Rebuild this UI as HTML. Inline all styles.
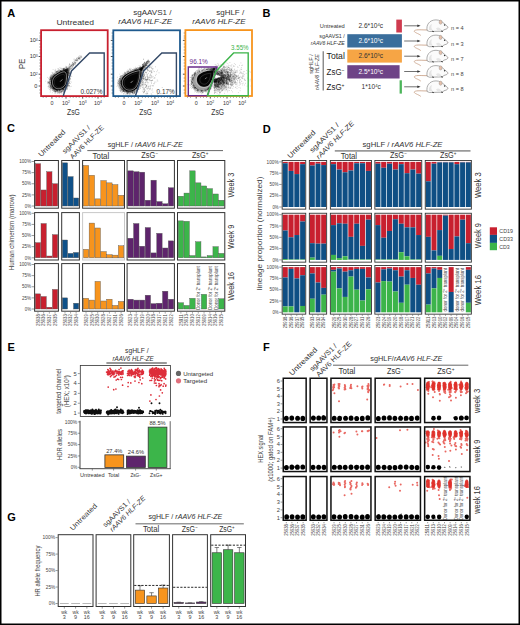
<!DOCTYPE html>
<html><head><meta charset="utf-8"><style>
html,body{margin:0;padding:0;background:#fff;width:520px;height:625px;overflow:hidden}
svg{display:block}
text{font-family:"Liberation Sans",sans-serif}
</style></head><body>
<svg width="520" height="625" viewBox="0 0 520 625">
<rect x="0" y="0" width="520" height="625" fill="#fff"/>
<text x="7.3" y="16.7" font-size="11" fill="#000" font-weight="bold">A</text>
<text x="262.6" y="16.6" font-size="11" fill="#000" font-weight="bold">B</text>
<text x="7" y="132.3" font-size="11" fill="#000" font-weight="bold">C</text>
<text x="262.8" y="132.8" font-size="11" fill="#000" font-weight="bold">D</text>
<text x="7.5" y="351.2" font-size="11" fill="#000" font-weight="bold">E</text>
<text x="263" y="350.9" font-size="11" fill="#000" font-weight="bold">F</text>
<text x="7.2" y="520.5" font-size="11" fill="#000" font-weight="bold">G</text>
<g>
<path d="M67.1 68.1h.01M72.8 67.7h.01M66.3 68.2h.01M77.1 60h.01M74.1 59h.01M78.1 60.2h.01M71.4 70.8h.01M73.7 63.9h.01M73.5 64.1h.01M67.3 68.6h.01M67.1 71.8h.01M77 59.1h.01M74.2 63.4h.01M72.5 62.4h.01M65.5 69.9h.01M72.8 66h.01M70.3 66.6h.01M68.9 68.1h.01M78.2 58.5h.01M66.7 72.5h.01M63 71h.01M80.2 58.1h.01M79.8 58.6h.01M79.1 58.4h.01M67.1 68.2h.01M73.1 63.2h.01M67.6 72.1h.01M69.5 68h.01M69 67.9h.01M66.3 69.5h.01M69 70.9h.01M64.5 73.5h.01M69 72h.01M67.9 69.5h.01M66.4 70.2h.01M73.4 65.7h.01M80.6 56.4h.01M68.2 72.9h.01M75.7 60.2h.01M71.6 65.5h.01M67 69.3h.01M74.5 62.1h.01M66.1 69.8h.01M65.8 74h.01M68.8 70h.01M78.8 56.8h.01M71.5 70.1h.01M65.7 71.1h.01M68.1 69.1h.01M77.7 59.3h.01M69.2 67.3h.01M75.9 60.3h.01M78.9 59h.01M71.2 64.2h.01M70.3 67.1h.01M69.5 64.9h.01M69.6 66.9h.01M66.4 67.1h.01M70.8 66h.01M64.9 70.9h.01M75.3 60.7h.01M64.9 70.5h.01M71.9 67.1h.01M76.6 60.4h.01M72.9 66.1h.01M67.2 69.1h.01M75.3 60.8h.01M72.4 63.1h.01M71.2 65.7h.01M69.2 72h.01M79.3 58.1h.01M73.5 65h.01M74.2 64.6h.01M69.6 68h.01M79 58.5h.01M70.2 66.6h.01M72.7 64.6h.01M73.3 64.1h.01M69 66.2h.01M68.2 70.5h.01M67.7 68.8h.01M68.6 67.7h.01M72 64.9h.01M81.5 57.1h.01M76.1 60.2h.01M78.7 58.7h.01M69.4 63.6h.01M79.8 57.7h.01M66 72.3h.01M75.1 62.6h.01M77.3 61.1h.01M72.9 62.6h.01M70.8 68.7h.01M77.9 57.5h.01M66.2 71.1h.01M72.2 66.1h.01M68.3 69h.01M65.1 70.7h.01M72.6 65h.01M70.4 66.1h.01M65.1 72h.01M69.8 64.6h.01M65.2 72.2h.01M76.1 62.7h.01M75.2 63.4h.01M70.2 68h.01M67.5 70h.01M68.2 70h.01M73.5 65.1h.01M69 72.5h.01M68.2 71.5h.01M66.6 70.7h.01M66.1 71.1h.01M71.4 65.5h.01M78.4 57.3h.01M64.8 72.1h.01M66.6 71.5h.01M75.2 63.9h.01M75.6 62.8h.01M77.2 60.2h.01M65.2 70h.01M79.3 57.2h.01M76.9 59.5h.01M76.5 58.7h.01M69.4 69.4h.01M73.5 63.7h.01M77 60.7h.01M77.9 58.2h.01M74.9 63.9h.01M71.1 64.8h.01M67.7 69.1h.01M68.7 70.2h.01M73 64.2h.01M71 66h.01M70.8 67.9h.01M68.9 73.3h.01M72 66.8h.01M62.5 71.4h.01M69 68.7h.01M68.4 67.8h.01M69.4 68h.01M69.6 66.8h.01M81.8 57h.01M76.6 58.2h.01M75.4 65.2h.01M69.3 64.8h.01M71.3 68.5h.01M74.7 60.9h.01M81.4 56.7h.01M67 68.6h.01M74.3 62.7h.01M70.1 66.2h.01M78.3 58.1h.01M64.2 70.9h.01M79.7 59.4h.01M76.2 61.2h.01M77.6 60.4h.01M73.5 65.4h.01M73 63.9h.01M72.7 68.1h.01M66.8 72.5h.01M71.8 65.4h.01M79.1 58.7h.01M74.1 59.8h.01M67.4 72.5h.01M79.3 55.8h.01M79.6 57.7h.01M75.1 63h.01M70.1 69.7h.01M66.6 66.6h.01M73.9 61.3h.01M70.7 69.4h.01M74.6 64.3h.01M76.5 60.4h.01M67 68.1h.01M80.9 57.6h.01M74.9 62.2h.01M71 68.3h.01M65.4 72.8h.01M75.4 59.5h.01M73 63.9h.01M72 66.6h.01M67.8 70.7h.01M71.1 68.1h.01M72.6 64.6h.01M65.1 70h.01M75.3 62.7h.01M69.2 70.2h.01M81 55.6h.01M78.7 58.6h.01M80.6 57h.01M80.2 59.2h.01" stroke="#000" stroke-width="0.5" stroke-linecap="round" opacity="0.42" fill="none"/>
<path d="M49.7 87.3h.01M51.6 76.5h.01M49.1 85.6h.01M67.5 74.7h.01M54.9 70.2h.01M54.5 74h.01M51 81.2h.01M66.3 69.4h.01M68.3 85.9h.01M51.7 85.3h.01M48.6 78.3h.01M65.6 88.2h.01M51.5 78.5h.01M67.3 70h.01M66.1 85.9h.01M52.5 89.4h.01M65.9 70h.01M53.6 88.2h.01M63.8 87.6h.01M60 71h.01M69 85.6h.01M53.8 89.6h.01M62.6 90.6h.01M68.7 69h.01M53.5 75.7h.01M63.7 88.6h.01M60.9 90.2h.01M67.5 69h.01M51.1 86.8h.01M54.7 90h.01M64.9 87.7h.01M49.7 79.3h.01M49.9 84.6h.01M63.5 89.2h.01M65.1 90.8h.01M63.2 70.5h.01M48.3 85.2h.01M66.7 86.1h.01M53.4 88.7h.01M51.2 77.2h.01M70.4 78.5h.01M51.5 75.6h.01M67.5 69.9h.01M53.1 75.4h.01M64 70.5h.01M55.6 89.4h.01M63.8 70.7h.01M67.6 73.9h.01M53.1 88.1h.01M58.5 72.8h.01M54.1 75.1h.01M52.8 88.1h.01M63.7 69.3h.01M50.8 81.5h.01M53.7 75.9h.01M65.4 69.9h.01M63.7 89.8h.01M49.9 82.4h.01M58.1 70.8h.01M64.6 90h.01M65.8 67.3h.01M59.3 91.6h.01M56 91.2h.01M63.3 92.8h.01M51.7 84.4h.01M49.9 83.1h.01M55.4 74.7h.01M67.4 71.4h.01M57.2 91h.01M52.2 86.6h.01M62.9 89.4h.01M52.1 87.1h.01M55.5 72h.01M50.6 85.6h.01M66.2 68.1h.01M56.1 90.8h.01M48.7 82.7h.01M67.1 88.6h.01M63.8 69.5h.01M67.7 68.4h.01M49.2 82.3h.01M67.1 86.5h.01M56.8 72.7h.01M69.5 74h.01M59.7 90.6h.01M66.7 72.1h.01M66.7 70.1h.01M50.5 89.4h.01M57.1 89.7h.01M63 69.3h.01M50.9 88h.01M64.9 87h.01M63.8 68.7h.01M63.2 89h.01M54.8 75.1h.01M51.6 77.5h.01M69.8 77.5h.01M51 81.5h.01M51.7 78.6h.01M48.2 87.9h.01M54.4 88.9h.01M50.2 85h.01M50.8 90.4h.01M68.2 69.7h.01M66.4 70.2h.01M68.8 75.6h.01M48.9 82.1h.01M68.4 69h.01M49.5 81h.01M65.7 87.4h.01M54.2 75h.01M57.4 90.8h.01M59.3 90.8h.01M68.8 75.5h.01M64.1 68.3h.01M50.1 79.3h.01M52.3 90.6h.01M57.1 90.3h.01M67.7 76.5h.01M71.3 86.3h.01M68.1 69.3h.01M67.7 80.6h.01M68.6 83.8h.01M68.1 73.5h.01M67.4 73.8h.01M52.6 87.9h.01M55.4 73.2h.01M64.1 69.5h.01M53.9 75.8h.01M62.6 70h.01M53.2 88.9h.01M65.6 70.6h.01M64.2 70.5h.01M58.9 89.9h.01M66 69.7h.01M57.5 91.1h.01M55.6 93.5h.01M59.1 72.1h.01M52.6 88.6h.01M55.7 69.3h.01M54.3 88.6h.01M63.6 90.2h.01M65.8 70.2h.01M57.1 90.5h.01M45.7 81.2h.01M68.9 72.7h.01M69.8 69.3h.01M47.9 83.8h.01M51.6 87.9h.01M55.5 89.8h.01M62.7 90h.01M67.3 69.4h.01M56.4 71.8h.01M65.2 68.6h.01M63.3 70.3h.01M50.6 85.4h.01M69.7 69.4h.01M64.8 89.4h.01M55.4 74h.01M68.8 81.6h.01M59.3 69.9h.01M55.6 91h.01M69.9 79.1h.01M60 90.1h.01M57.1 90h.01M68.3 85.4h.01M68 85.4h.01M60.6 70.7h.01M62.5 89.2h.01M62.1 89.5h.01M60.2 71.6h.01M56.9 90.3h.01M65.9 68.4h.01M55.2 72.3h.01M51.5 87.3h.01M58.1 70.9h.01M61.4 92.5h.01M55.2 90.1h.01M59 90.1h.01M59.9 71h.01M67 70h.01M59.6 90.3h.01M58.9 89.7h.01M55.6 91.4h.01M49.4 89.6h.01M50.2 87.4h.01M51.7 86.8h.01M65.1 89.7h.01M67.7 70.4h.01M51.1 78.4h.01M68 81.6h.01M62.4 91.5h.01M68.7 72.1h.01M53.3 88.2h.01M51.2 79.4h.01M71.1 72.9h.01M67.2 75.8h.01M66.2 69.2h.01M51.1 86.7h.01M50.1 83.5h.01M67.5 72.8h.01M59.1 70.6h.01M53.9 91.5h.01M50.7 81.2h.01M69.3 76.7h.01M55.7 71.9h.01M67.6 86.5h.01M48.4 86.5h.01M57.8 71.7h.01M66.6 69.5h.01M67.5 71.3h.01M52.5 74.2h.01M67.7 88.5h.01M59.1 91.3h.01M50.5 79.7h.01M56.7 91.7h.01M68.7 75.8h.01M55.1 90.1h.01M67.3 69.7h.01M67.5 69.5h.01M50.9 86.4h.01M67.9 81.2h.01M49.9 81.5h.01M68.7 72.4h.01M67.4 70h.01M56.7 91.1h.01M69 75.4h.01M50.5 79.2h.01M69.9 86.5h.01M67.6 87.1h.01M50.3 83.5h.01M67.3 72.9h.01M58.8 71.8h.01M53.9 88.9h.01M67.7 77.6h.01M65.4 89.2h.01M68.4 66.1h.01M54.8 74.5h.01M50.6 80h.01M69.4 74.1h.01M64.3 69.3h.01M56 72.4h.01M69.6 74.9h.01M68.6 84.5h.01M51.2 85.6h.01M67.9 78.2h.01M57.2 90.9h.01M65.9 70.8h.01M51 84.7h.01M61.4 71.5h.01M64.1 89.3h.01M57.4 90.5h.01M50.9 78.5h.01M52.8 72.5h.01M49.5 79.7h.01M68.8 79.6h.01M48.6 82.4h.01M67.1 70.6h.01M69 73.7h.01M68.6 74.8h.01M50.3 85.9h.01M50.6 77.3h.01M51 78.3h.01M57.4 93.4h.01M67.4 70.1h.01M69.5 83h.01M69 73.5h.01M58.5 69.3h.01M64.4 68.2h.01M69.6 82.2h.01M68.2 79.7h.01M68.3 79.3h.01M58.1 92.6h.01M52.8 90.7h.01M50.5 86.2h.01M53.2 88.7h.01M49.6 85.8h.01M51.9 78.5h.01M58.1 92h.01M67.8 72.8h.01M52 87.3h.01M52.4 75.3h.01M53 86.9h.01M67.7 76.3h.01M59.4 93.1h.01M65.8 66.2h.01M49.3 79.2h.01M49.7 77.2h.01M50.9 80.4h.01M66.3 70.5h.01M67 71.8h.01M53.7 90.7h.01M65 87.8h.01M50.9 83.7h.01M66.4 69.4h.01M70.3 71.3h.01M56.8 89.6h.01M50.3 78.6h.01M69.9 86.8h.01M59.9 90.9h.01M52.9 87.5h.01M49.1 88.8h.01M60.5 91.6h.01M48.3 82.7h.01M55 90.4h.01M60.7 90.9h.01M65.8 88.2h.01M50.6 88.2h.01M68.7 70.3h.01M52.2 78h.01M65.3 70h.01M67.8 80.8h.01M49.9 87.2h.01M67.7 73.6h.01M56.9 71.9h.01M60.2 89.5h.01M60.7 68.2h.01M66.1 70.6h.01M64.7 88.2h.01M64 68.5h.01M65.7 87.7h.01M63.3 69.8h.01M68.2 83.5h.01M49.1 83.1h.01M69.3 68.6h.01M63.4 70h.01M60 92.4h.01M67.2 69.1h.01M68.3 74.3h.01M50.2 82.6h.01M50.8 86.6h.01M68.2 72h.01M53.2 74.6h.01M68 71.5h.01M50.6 80.8h.01M69.5 73.2h.01M62.2 70.5h.01M50.8 78.5h.01M68.7 73.6h.01M52 72.4h.01M52.4 76.4h.01M51.6 75.2h.01M53.9 89.6h.01M52.9 88.3h.01M50.7 78.7h.01M65.5 69.6h.01M54.4 73.2h.01M69.1 73.1h.01M62.3 90.4h.01M50.9 77.1h.01M62.8 89.2h.01M70.4 78.4h.01M69.1 77.2h.01M54.7 90.2h.01M50.3 81.2h.01M68 85.4h.01M67.6 70.8h.01M50.9 81.4h.01M63.9 69.6h.01M49.2 79.9h.01M54.2 90.8h.01M54 74.6h.01M66.3 72.1h.01M64.2 70.8h.01M66.4 87.9h.01M54.9 91.8h.01M67.7 74.8h.01M58.4 90.6h.01M66.2 87.1h.01M58.9 71.7h.01M65 69.8h.01M62.4 68.9h.01M67 71.5h.01M63.4 91h.01M52.7 76.6h.01M66.8 72.3h.01M52 78.3h.01M53.6 89.9h.01M55.6 92.1h.01M67.4 71.8h.01M53.2 88h.01M55 89.5h.01M51.5 82.3h.01M54.3 75.9h.01M60.7 72.3h.01M67.2 69.5h.01M57.6 73.4h.01M61.7 68.2h.01M57.4 90.2h.01M53.5 88.7h.01M68.9 81.4h.01M55.5 89.8h.01M59.2 70.9h.01M68.8 83.7h.01M69.7 71.5h.01M50.7 86.5h.01M68.9 70.9h.01M63.1 89h.01M62 69.1h.01M58.7 93.3h.01M66.8 86.3h.01M62.7 70.7h.01M62.4 88.7h.01M65.2 87.7h.01M48 86.5h.01M60.8 71.6h.01M59.4 69.3h.01M63.4 70.7h.01M67.5 85.5h.01M59.1 89.5h.01M51.3 83.3h.01M57.4 72.2h.01M54.9 73.6h.01M65.6 87h.01M70.7 79.5h.01M50 84.2h.01M67.2 70.9h.01M59 92.1h.01M55.2 91.5h.01M65.2 70.4h.01M67.3 84.4h.01M50.2 92.2h.01M51.6 77.9h.01M55.2 74.2h.01M60.8 92.3h.01M64.4 69.7h.01M69.3 83.1h.01M51.4 79.2h.01M66.5 70.2h.01M63.8 90h.01M64.4 68.5h.01M66.5 70.6h.01M53.3 89.7h.01M66.8 69.6h.01M54.3 89.1h.01M53.1 69.5h.01M62.7 91h.01M66.1 86.5h.01M64.9 69.6h.01M69 81.6h.01M51.6 88.5h.01M51.6 79.5h.01M67 70.4h.01M58.1 91.2h.01M67.4 89.2h.01M68.6 71.6h.01M58.4 92h.01M63.3 70.2h.01M56.8 71h.01M62.7 68.9h.01M51.4 77.8h.01M50.3 88.3h.01M54.3 90.5h.01M66.6 71.6h.01M61.6 91.4h.01M51.2 85.5h.01M55.6 74.1h.01M67.7 77.5h.01M68.7 76.3h.01M70.8 75.6h.01M64.6 91.3h.01M56.4 91.2h.01M53 87.6h.01M50.8 79h.01M65.3 89.9h.01M68.4 72.5h.01M56.2 91.1h.01M66.7 87.7h.01M66.9 83.8h.01M50.8 84.6h.01M67 87.7h.01M50.6 77.9h.01M66.5 70.8h.01M57.6 68.8h.01M66.6 83.6h.01M62.7 90h.01M53.7 74.6h.01M65.9 85.4h.01M59.6 90.2h.01M55.6 89.6h.01M51.6 86.5h.01M52.7 89.2h.01M62.6 91.9h.01M56.7 73.2h.01M55 89.6h.01M55 91.9h.01M51.6 87.1h.01M54.5 75.5h.01M69.9 78h.01M68.8 75.2h.01M51.9 75.2h.01M56.2 89.9h.01M52.2 76.9h.01M68 69.2h.01M68.8 73.1h.01M53 73.9h.01M67.6 70.2h.01M62.2 69h.01M49.8 86.7h.01M52.2 76.9h.01M68.2 80h.01M57.5 72.3h.01M63.7 89.5h.01M52.3 87.5h.01M54.6 93.1h.01M50.3 79.8h.01M65.6 70.1h.01M52.2 78.7h.01M49.9 82.5h.01M51.6 89.3h.01M51.5 74.8h.01M68.6 75.7h.01M69.4 79.4h.01M63.2 69.4h.01M67.3 71.2h.01M55.1 91.4h.01M68.1 70.7h.01M65.8 69.3h.01M53.4 87.6h.01M52.7 88.6h.01M57.7 71.5h.01M70.5 74.1h.01M64.3 70.1h.01M54.1 90.8h.01M51.5 86.5h.01M54.7 89.2h.01M65.3 88.1h.01M64.5 87.3h.01M64.4 68.9h.01M53.1 76.6h.01M52.2 75.5h.01M69.1 71.4h.01M50.9 81.8h.01M52.2 76.9h.01M52.1 88.6h.01M69.7 75.8h.01M64.2 89h.01M56 72.5h.01M49.3 83.2h.01M56.5 71.8h.01M59.8 72.2h.01M53 88.3h.01M68 73.9h.01M65 69.8h.01M71.1 76.3h.01M55.5 92.3h.01M67.7 76.8h.01M70 76.3h.01M53.4 88.5h.01M62.1 89.3h.01M51.9 87.6h.01M51 87.7h.01M67 69.3h.01M58.9 92.6h.01M67.8 82.3h.01M49.4 87h.01M56.4 89.7h.01M68.9 74.2h.01M63.8 90.3h.01M63.4 89.7h.01M52.3 87.6h.01M49.4 80.8h.01M65.8 87.7h.01M69.8 80.7h.01M51.6 77.3h.01M65.2 70.6h.01M63.7 88.3h.01M53.2 74h.01M68.9 86.7h.01M56.4 91.2h.01M61.1 92.1h.01M57.1 89.9h.01M63.5 88.5h.01M67.9 74.2h.01M62.1 89.4h.01M50 79h.01M51.1 79.7h.01M50.9 74.9h.01M69.5 70.6h.01M49.5 84.9h.01M64.3 69.9h.01M66.8 89.5h.01M50.2 77.3h.01M70 75.2h.01M67.6 85.8h.01M59 71.6h.01M50.3 91.1h.01M47.8 81.4h.01M60.6 70.6h.01M67.7 86h.01M68.2 79.1h.01M52.6 78.9h.01M64.4 90.6h.01M69.6 80.6h.01M67.6 69.9h.01M54.7 75.3h.01M67.5 67h.01M60.5 89.8h.01M67.5 70.6h.01M66.4 68h.01M68.3 68.3h.01M65.4 88.7h.01M57.2 92.6h.01M55.3 89.9h.01M60.3 70.8h.01M66.9 86.1h.01M51.7 84.8h.01M53.1 74h.01M63.5 88.5h.01M50.4 82.9h.01M59.9 71.2h.01M49.9 83.2h.01M52.8 88.5h.01M68.4 73.7h.01M70 79h.01M69.9 89.2h.01M52.8 76.9h.01M67.3 72.3h.01M68.2 73.2h.01M51.8 83.2h.01M57.7 90.6h.01M68.1 71.4h.01M60.9 71.9h.01M55.2 91.2h.01M63.6 91.6h.01M60.3 71.7h.01M67.6 83.6h.01M52.1 86.3h.01M68.7 75.3h.01M66 69.6h.01M67.6 84.3h.01M52.8 75.8h.01M50.4 85h.01M67.2 70.3h.01M50.8 79.9h.01M67.6 87.7h.01M52.2 87.7h.01M68 84.7h.01M68.9 70.4h.01M63.8 88.8h.01M56.7 90.7h.01M51.6 76.3h.01M51.9 84.1h.01M69.4 82.5h.01M60.4 89.6h.01M53.4 90.9h.01M61.4 91.3h.01M66.8 77.2h.01M49.3 81.7h.01M49.4 83.2h.01M50.7 86h.01M68.2 80h.01M51.5 87.9h.01M53.9 88.9h.01M55.8 71.3h.01M50.2 83.8h.01M59 90.8h.01M66 86.6h.01M60.9 93.1h.01M63.1 68.4h.01M68.5 83.7h.01M67.5 70.8h.01M50.5 85.8h.01M57.4 70.5h.01M71.6 82.1h.01M67 84.3h.01M63.9 91.1h.01M68.4 71.9h.01M53.4 88.6h.01M56.7 71.8h.01M62.6 70.9h.01M66.5 89.6h.01M67.8 77.3h.01M68 84.8h.01M66.2 70.1h.01M60.9 91h.01M60.3 92.4h.01M50.3 81.3h.01M68.5 74.5h.01M63.7 89.4h.01M56.6 89.8h.01M56.6 90.8h.01M56.5 73.1h.01M69 73.9h.01M61.2 69.8h.01M48 83.4h.01M51.4 80h.01M67.6 72.5h.01M61.9 89.7h.01M57.6 72.7h.01M68 71.8h.01M67.8 72.5h.01M50.8 85.9h.01M51.3 76.9h.01M58.5 72.7h.01M51.8 78.3h.01M50.6 85.2h.01M54.5 73.1h.01M65.1 67.9h.01M71.8 76.4h.01M63.6 68.3h.01M64.3 90.3h.01M63.2 89.9h.01M59.4 90.7h.01M60.1 90.2h.01M49.1 78.9h.01M48.3 82.5h.01M64.8 69.3h.01M52.3 73.8h.01M57.6 71.8h.01M71.1 71.8h.01M68 69h.01M53.4 87.6h.01M67.7 85.7h.01M48.3 83.7h.01M52.6 75.6h.01M57.3 90h.01M49.3 77.8h.01M68.4 69.6h.01M68 69.9h.01M49.8 81.4h.01M49.8 83.3h.01M52.8 88.4h.01M51.9 78.6h.01M62 91.4h.01M61.4 71h.01M66.4 86.7h.01M67.3 70h.01M53.7 89.7h.01M65.1 90.6h.01M67.8 74.8h.01M67.6 72.8h.01M60.9 90h.01M57.9 91.6h.01M51.4 85.3h.01M61.1 89.9h.01M66.4 88.2h.01M57.5 91.3h.01M67.8 83.5h.01M56.3 90.4h.01M66.3 68.4h.01M65.2 88.4h.01M60.7 70.7h.01M69 68.6h.01M56.5 89.6h.01M67.2 76.6h.01M54.9 74.2h.01M59.4 92.4h.01M66.1 87.6h.01M61.1 90.5h.01M56.5 90.4h.01M67.9 75.5h.01M59.5 93.7h.01M50.4 87.3h.01M52.8 88.5h.01M50.1 76.6h.01M65.6 86.6h.01M67.8 70.7h.01M69.4 85.4h.01M55.5 89.6h.01M53.7 89.2h.01M67.7 85.7h.01M57.7 91.6h.01M47.5 82.7h.01M51.2 80.8h.01M56.5 71.9h.01M51.1 88.8h.01M67.4 73.4h.01M59.9 67.5h.01M50.8 76h.01M67.2 70.7h.01M65.4 70.1h.01M47.4 77.4h.01M63.6 69.8h.01M57 92.9h.01M67.4 70.2h.01M57 71.8h.01M69.5 85.5h.01M66.4 70.1h.01M58.3 72.7h.01M68.9 85.5h.01M63.1 89.1h.01M68.1 72.9h.01M58.5 68.6h.01M58.8 71h.01M67 70.6h.01M54.9 90.2h.01M53.5 74.9h.01M69.5 80.1h.01M66.1 70.4h.01M50.6 77.7h.01M51.6 79.8h.01M67.5 84.7h.01M67.8 81.4h.01M67.7 72.4h.01M68.3 70.3h.01M67.9 80.6h.01M68 70.4h.01M67.2 84h.01M69.9 83.4h.01M55.2 90.6h.01M66.4 70.2h.01M53.2 73h.01M52.5 76.2h.01M61.5 89.7h.01M55.2 91h.01M57.9 71.4h.01M69.7 73.7h.01M68.1 85.1h.01M51.5 78.4h.01M61.1 70.9h.01M52 76.8h.01M64.9 88.6h.01M53.7 88.6h.01M65.7 70.3h.01M59.2 90.8h.01M63.9 92.1h.01M55.6 89.7h.01M50.7 79.4h.01M66.8 70.7h.01M56 74.2h.01M66.8 73.9h.01M51.1 83.8h.01M62.5 89.6h.01M58.9 89.8h.01M65.7 69.4h.01M68.2 78.6h.01M66.8 84h.01M58.7 70.1h.01M67.6 72.2h.01M63.2 89.4h.01M69.4 76.9h.01M51.6 84.6h.01M50.8 80.7h.01M61.5 70.8h.01M63.9 69.2h.01M55.4 70.4h.01M61.9 93.5h.01M52.9 87.4h.01M53.9 75.6h.01M63 89.1h.01M64 69.4h.01M50.3 83.3h.01M53.7 88.5h.01M68 74.2h.01M60.5 71.2h.01M50.6 77.2h.01M60.8 91.8h.01M65.5 86.4h.01M68.5 82.7h.01M64.2 70.4h.01M67.8 84.3h.01M67.8 72.2h.01M67.9 71.4h.01M52.3 90.5h.01M53.9 75.8h.01M59.9 90.7h.01M68.3 81.3h.01M59.1 92.5h.01M49.4 83.6h.01M47.8 82.1h.01M59.6 91.6h.01M62.6 88.2h.01M63.9 69.5h.01M50.6 82.6h.01M56.5 71.7h.01M70.2 72.9h.01M61.4 70.5h.01M65.7 69.3h.01M65.2 88.6h.01M53.4 88.3h.01M50.6 77.3h.01M60.2 71h.01M54.8 89.7h.01M68 83.1h.01M68.5 79.8h.01M55.8 73.1h.01M68.1 73.2h.01M66.2 86.4h.01M50.8 84.9h.01M66.4 70.3h.01M64.7 69.9h.01M50.5 86.7h.01M50.5 88.8h.01M55.3 91.5h.01M57.7 90.5h.01M50.5 78.7h.01M61.2 91.7h.01M61.1 92h.01M66.6 69.5h.01M49.5 81h.01M60.3 70.7h.01M65.3 70.2h.01M68.3 81.7h.01M69.4 76.4h.01M66 70.1h.01M58.1 89.8h.01M66.1 86.4h.01M65.6 69.4h.01M58 71.9h.01M64.2 89.5h.01M51.1 77.7h.01M66.6 69.5h.01M50.3 84.3h.01M67 83.3h.01M57.6 73.3h.01M65 88.5h.01M57.2 90.1h.01M63.3 69.3h.01M65.5 70.9h.01M60.6 68.9h.01M68.1 81.2h.01M55.8 92h.01M66.2 87.8h.01M59.5 90h.01M60.9 70.6h.01M67.8 82.9h.01M67.4 84h.01M68.4 74.3h.01M60.7 90h.01M70.2 73.5h.01M60.2 92.1h.01M70.9 74.6h.01M69.5 77.3h.01M68.1 73.6h.01M48.2 82.6h.01M60.7 90.8h.01M52.7 89.3h.01M63.9 68.4h.01M59.5 90h.01M53 89.8h.01M67.9 71.8h.01M54.9 91.7h.01M67.4 81.5h.01M49 85h.01M51.4 80.3h.01M70.4 74.8h.01M54.7 89.2h.01M61.5 68.8h.01M50.4 79.8h.01M49.2 82.4h.01M54.1 74.1h.01M67.6 72.6h.01M51.9 79.2h.01M66.5 67.7h.01M67.6 68.9h.01M54 91.2h.01M61.6 70.4h.01M51.2 76.1h.01M58.1 90.8h.01M54.8 89.6h.01M59.4 71.5h.01M54.6 90.1h.01M67.9 70.1h.01M51.5 80.1h.01M53.8 74.5h.01M61 89.9h.01M64.8 69.6h.01M58.8 72.7h.01M63.9 91.7h.01M62.5 91h.01M66.2 69.7h.01M48.9 81.1h.01M63.9 89.2h.01M64.8 87.5h.01M53.8 88.1h.01M50.1 78.2h.01M68.3 72.4h.01M63.5 69.9h.01M59.9 70.9h.01M51.9 88.8h.01M63.6 68.7h.01M67.1 86.7h.01M70.1 81.6h.01M64 89h.01M53.2 75.9h.01M66.8 70.4h.01M67.9 83.8h.01M70.8 72.3h.01M68.2 71h.01M69.7 72.6h.01M66.1 70.7h.01M68 83.1h.01M58.1 89.2h.01M53.3 76.1h.01M56.2 73.3h.01M58.7 90.1h.01M67.9 73h.01M59.4 90.2h.01M56.5 90.5h.01M61 70.9h.01M59.9 90.3h.01M57.5 91.9h.01M68.3 72.6h.01M65.4 69.7h.01M64.7 68.9h.01M63.1 88.7h.01M67.5 81.3h.01M51.9 87.7h.01M63.1 89.4h.01M67.5 74h.01M51.3 86h.01M58.8 70.3h.01M63.5 68.8h.01M69.3 73.3h.01M61.3 71.6h.01M48.3 81.5h.01M67 68h.01M50.8 87.4h.01M68 68.5h.01M68.3 76.8h.01M51.7 77h.01M62 90.7h.01M53.9 89.5h.01M66.4 70.9h.01M51.5 83.9h.01M67.2 71.3h.01M63.5 92.7h.01M67.8 80.1h.01M51.2 79.2h.01M67.2 85.3h.01M51.5 82h.01M66.2 88.6h.01M61.5 91.5h.01M69.1 76.2h.01M66.1 86.8h.01M69.6 69.9h.01M69 70.9h.01M54.4 74.1h.01M68 78.4h.01M63.3 88.7h.01M63.8 90h.01M51.8 80.6h.01M68.1 86.7h.01M65.5 87.2h.01M68.3 71.4h.01M54.8 71.2h.01M70.4 83.6h.01M52 78.6h.01M54.2 74.8h.01M56.7 72.5h.01M53.7 76.3h.01M69.4 79.7h.01M57.9 71.7h.01M49.3 83.8h.01M68 72h.01M51.4 86.9h.01M61.3 90.1h.01M63 90.4h.01M51.8 77.8h.01M50.7 78h.01M51.6 83.7h.01M54.8 91.5h.01M50.8 77.1h.01M60.3 71.2h.01M52.9 87.9h.01M69.1 72.5h.01M62.6 89.1h.01M56.7 71.8h.01M68.4 75h.01M52.5 76.1h.01M49.8 82.4h.01M67 70.8h.01M57.8 71.7h.01M64.3 88.8h.01M63.3 70h.01M66.1 69.7h.01M50.1 79.9h.01M50.3 76.2h.01M66.4 70.1h.01M64.8 88.1h.01M48.8 86.9h.01M66.2 70h.01M63.8 87.7h.01M59.1 91.5h.01M52.4 92.7h.01M65.1 87.5h.01M50.9 80.1h.01M50.9 78.9h.01M61.7 92h.01M68.8 75.6h.01M50.3 86.6h.01M54.3 74.3h.01M67.2 85.4h.01M63.5 69.1h.01M50 84.8h.01M48.9 82.9h.01M50.8 75.4h.01M63.3 91.3h.01M50.7 88.2h.01M51 79.4h.01M57.6 89.9h.01M68.8 74.5h.01M67 89.2h.01M65.5 67.2h.01M50.5 79h.01M50.8 79.8h.01M67 82.8h.01M61.6 91.7h.01M69.1 83.2h.01" stroke="#000" stroke-width="0.5" stroke-linecap="round" opacity="0.32" fill="none"/>
<path d="M66.17 70.48 L66.71 70.94 L67.14 71.59 L67.47 72.41 L67.71 73.41 L67.87 74.57 L67.95 75.88 L67.94 77.31 L67.85 78.85 L67.68 80.45 L67.41 82.1 L67.04 83.74 L66.55 85.35 L65.83 86.37 L65 87.3 L64.08 88.13 L63.08 88.83 L62.02 89.4 L60.92 89.83 L59.8 90.1 L58.67 90.22 L57.56 90.18 L56.49 89.99 L55.46 89.64 L54.51 89.14 L53.65 88.5 L52.89 87.74 L52.24 86.86 L51.72 85.88 L51.33 84.81 L51.09 83.68 L50.99 82.51 L51.03 81.31 L51.23 80.1 L51.57 78.91 L52.04 77.75 L52.65 76.65 L53.88 75.52 L55.19 74.46 L56.55 73.5 L57.92 72.64 L59.26 71.89 L60.55 71.25 L61.76 70.75 L62.87 70.38 L63.87 70.16 L64.76 70.1 L65.52 70.2 L66.17 70.48Z" fill="#050505"/>
<path d="M65.11 72.18 L65.55 72.56 L65.9 73.09 L66.16 73.77 L66.35 74.6 L66.47 75.56 L66.52 76.65 L66.5 77.85 L66.42 79.13 L66.26 80.47 L66.02 81.84 L65.7 83.21 L65.28 84.55 L64.67 85.42 L63.98 86.21 L63.21 86.91 L62.37 87.51 L61.49 88 L60.58 88.37 L59.65 88.61 L58.72 88.72 L57.81 88.71 L56.92 88.55 L56.09 88.27 L55.31 87.87 L54.6 87.35 L53.98 86.72 L53.46 85.99 L53.04 85.17 L52.74 84.29 L52.55 83.35 L52.48 82.36 L52.53 81.36 L52.71 80.35 L53 79.35 L53.41 78.38 L53.92 77.45 L54.94 76.49 L56.04 75.6 L57.16 74.78 L58.3 74.05 L59.41 73.41 L60.47 72.87 L61.47 72.44 L62.39 72.12 L63.22 71.93 L63.95 71.87 L64.58 71.95 L65.11 72.18Z" fill="none" stroke="#b8b8b8" stroke-width="0.7"/>
<path d="M64.09 74.6 L64.43 74.89 L64.7 75.3 L64.91 75.82 L65.06 76.46 L65.16 77.2 L65.21 78.03 L65.2 78.94 L65.14 79.92 L65.03 80.94 L64.86 81.99 L64.62 83.03 L64.31 84.06 L63.83 84.74 L63.28 85.37 L62.68 85.92 L62.02 86.4 L61.33 86.79 L60.62 87.09 L59.89 87.28 L59.17 87.38 L58.45 87.37 L57.77 87.26 L57.11 87.04 L56.51 86.73 L55.96 86.32 L55.48 85.83 L55.08 85.26 L54.76 84.62 L54.52 83.93 L54.38 83.19 L54.34 82.42 L54.39 81.63 L54.53 80.83 L54.76 80.04 L55.09 79.28 L55.49 78.54 L56.27 77.82 L57.11 77.15 L57.97 76.53 L58.84 75.98 L59.7 75.5 L60.51 75.1 L61.28 74.77 L61.99 74.54 L62.63 74.4 L63.19 74.36 L63.67 74.42 L64.09 74.6Z" fill="none" stroke="#444" stroke-width="0.4"/>
<path d="M60.2 81.6 l2.2 -2.2" stroke="#ddd" stroke-width="0.6"/>
</g>
<g>
<path d="M144.2 67.8h.01M138.6 70.2h.01M145.8 64.7h.01M145.3 65.5h.01M144.9 65.8h.01M146.5 61.7h.01M145.8 66.5h.01M147.5 62.4h.01M149.3 61h.01M146.9 61.5h.01M146.4 63.9h.01M140.5 68.2h.01M141.3 69.2h.01M141.3 70.5h.01M145.7 67.4h.01M138.1 72.1h.01M143.9 64.2h.01M143.5 68.1h.01M142.8 64.7h.01M144.4 66.6h.01M137.9 73.3h.01M139.8 71.9h.01M143.8 64.5h.01M143 66h.01M147.9 61.9h.01M143.7 64.4h.01M143.7 66.3h.01M146.7 65.5h.01M141.4 69.7h.01M143.8 68.2h.01M148.2 61.4h.01M146.2 66h.01M137.3 72.5h.01M141.2 69.3h.01M139.1 72.4h.01M148.1 62.2h.01M144.8 65.2h.01M148.7 60.9h.01M145.5 63.6h.01M142.8 64.5h.01M146.2 63.8h.01M147.8 62.8h.01M145 64.7h.01M145.1 66.7h.01M140.7 67.6h.01M140.9 69h.01M144.5 65.3h.01M142.7 68.4h.01M148.5 60.3h.01M139.5 72.1h.01M139.4 69.2h.01M143.6 66.5h.01M148.3 60.4h.01M143.1 68.2h.01M149 62.8h.01M149.7 62.4h.01M144 64.8h.01M138.7 70.4h.01M144.2 66.7h.01M139.4 68.8h.01M141.2 67.5h.01M148.6 62.3h.01M141.4 67.7h.01M139.4 73.5h.01M141.1 67.5h.01M143.4 65.9h.01M145.8 65.4h.01M141.6 69.7h.01M146.1 65.4h.01M140 69.2h.01M142.3 64.6h.01M147.7 64h.01M139.6 72.2h.01M144.7 63.7h.01M140.1 70.4h.01M141.3 70.7h.01M142.2 70.7h.01M142.2 68.1h.01M142.3 66h.01M147 64.3h.01M143.7 68.5h.01M146.4 62.8h.01M138.1 69.5h.01M146.9 63.4h.01M142.8 65.7h.01M142.8 66.6h.01M142.9 68.8h.01M142.2 70.7h.01M145.6 65.3h.01M148.5 61.8h.01M137.7 71.5h.01M146.3 64.8h.01M147.1 61.7h.01M140.1 73.1h.01M149 63h.01M147.7 63.1h.01M146.4 62h.01M148 62h.01M142.6 67.8h.01M139.4 70.2h.01M139.7 72.4h.01M141.7 68.9h.01M138.9 71.5h.01M141 68.2h.01M140.2 69.9h.01M140.1 69h.01M144.1 68.1h.01M143.5 66.9h.01M146.7 65.4h.01M143.6 65.9h.01M143.1 66.6h.01M144.1 62.9h.01M147.1 61.2h.01M144.5 62.2h.01M140 72.3h.01M144.7 66.7h.01M138.6 72.2h.01M146.3 65.3h.01M145.2 65.1h.01M140.8 68.9h.01M144.1 66.7h.01M140.6 68.6h.01M139.2 67.5h.01M145.4 65.4h.01M142.7 66.3h.01M142.2 66.3h.01M139.3 72.7h.01M144.5 62.4h.01M149.4 61.5h.01M142.8 68.6h.01M143.6 63.6h.01M138.7 68.7h.01M140.2 69.4h.01M138.6 71h.01M144.7 65.2h.01M143.6 66h.01M145 68.4h.01M146.6 62.5h.01M145.9 64.1h.01M141.2 70h.01M137.3 75.6h.01M144.8 68.3h.01M138.6 71.9h.01M143.3 67.2h.01M141.1 68.4h.01M141.6 68h.01M143 64.5h.01M141.9 69.2h.01M142.7 64.2h.01M141.5 68.4h.01M145.3 65.3h.01M148.1 59.9h.01M147.2 61.9h.01M139.1 69.3h.01M140.4 69.8h.01M144.5 62.4h.01M138.9 68.5h.01M138.7 72.1h.01M145.6 63.6h.01M143.6 72.3h.01M145.8 67.2h.01M140.9 69.4h.01M143.6 63.5h.01M139.8 68.8h.01M143.1 67.3h.01M143 67.7h.01M145.2 63.8h.01M143.8 65.9h.01M138.7 70.4h.01M143.8 67.1h.01M148.3 64.9h.01M147.1 63.7h.01M145.7 65.4h.01M143.3 66.3h.01M140.8 69.3h.01M140.9 65.9h.01M144.6 67.5h.01M145 63.5h.01M144.6 65.3h.01M147 63.3h.01M141.5 67.7h.01M144.4 66.2h.01M148.6 61.3h.01M146.8 63.8h.01M144.1 66.6h.01M144.8 66.5h.01M145.4 64.6h.01M145 67.1h.01M143.1 66.5h.01M140.7 66.9h.01M139.6 70.8h.01M142.2 67.3h.01M142.4 68.9h.01M143.5 67.5h.01M148 63.4h.01M146.3 63h.01M145.2 64.5h.01M140.9 69.4h.01M140.9 68.9h.01M148.3 61.4h.01M140.6 68.1h.01M145.8 63.9h.01M146.7 63.7h.01M144.4 62.9h.01M140.5 69.7h.01M144 66.6h.01M147.3 63.3h.01M140.1 69.5h.01M145.6 62.3h.01M140.8 72.9h.01M143.6 65.9h.01M145.2 63.7h.01M141.5 68.8h.01M146.4 62.6h.01M137.5 70.2h.01M147.6 61.5h.01M143.1 65.7h.01M141.3 67.7h.01M146 64.6h.01M147.5 60.9h.01M138.8 68.2h.01M136.6 68.9h.01M142 68.1h.01M140.3 71.5h.01M141.9 73.9h.01M147.7 61.4h.01M146.9 62.2h.01M140.9 69.5h.01M144.3 65.5h.01M143.6 65.3h.01M138.4 69.9h.01M144.4 64.4h.01M138.6 71.3h.01M141.6 70.6h.01M143 65.9h.01M146.3 64.8h.01M143.4 69.8h.01M141.6 70.5h.01M139.6 70.3h.01M140.3 69.4h.01M144.2 70.3h.01M144.4 90.3h.01M148.3 78.3h.01M145.6 77.7h.01M146.1 86.9h.01M157.8 81.1h.01M144 88h.01M146.1 72.5h.01M152.9 92.2h.01M145.7 79.6h.01M143.1 67h.01M147.5 70.9h.01M149.8 67.1h.01M145.1 80.1h.01M147.5 79h.01M144.3 84.6h.01M145.3 82.5h.01M162.2 87.5h.01M144.8 69.8h.01M146.2 79.8h.01M149.4 80h.01M143.4 76.6h.01M152 77h.01M143.5 71.1h.01M145.5 84.3h.01M150.3 80.5h.01M143.8 91.1h.01M145.7 66.4h.01M147.2 81.1h.01M150.5 88.2h.01M147 86h.01M150.9 78.1h.01M146.7 86.3h.01M150.1 70.7h.01M150.2 66.4h.01M144 70.5h.01M144.5 75.8h.01M146.8 82.2h.01M147.3 69h.01M144 74.8h.01M146.4 68.4h.01M152 66.2h.01M143.1 79h.01M145.5 72.2h.01M142.4 82.1h.01M150.9 71.2h.01M149.5 77.4h.01M145.1 84.2h.01M148.7 86.2h.01M151 76.1h.01M145.5 72.3h.01M150.2 75.1h.01M145.9 87.3h.01M142.5 64.9h.01M148 79.6h.01M146.4 93.4h.01M146.3 73h.01M143.6 76.5h.01M155.4 75.6h.01M153.9 83.7h.01M147.7 78h.01M143.7 75.3h.01M151.7 67.6h.01M151.3 82.3h.01M143.1 89.2h.01M145.3 68h.01M144.5 89.7h.01M145.8 84.8h.01M149.5 71.3h.01M144.6 91.3h.01M147.7 60.8h.01M148.7 82.7h.01M152.7 80.5h.01M155.5 66.8h.01M147.2 78.8h.01M154.8 77.6h.01M147.4 69.1h.01M157.4 94.3h.01M143.7 78.7h.01M147.4 76.9h.01M145.7 76.7h.01M143.6 82.4h.01M142.7 80.1h.01M146.7 80.2h.01M145.8 79.4h.01M148.4 70.5h.01M146.8 88.7h.01M150 63.5h.01M147.4 82.4h.01M145 74.1h.01M146.9 91.4h.01M144.2 91.9h.01M143.8 76.4h.01M148.6 73.4h.01M149.8 88.7h.01M144.1 75h.01M151.1 71h.01M156.8 90.2h.01M147 74.1h.01M149.3 77.8h.01M154.1 83.7h.01M145.5 90.2h.01M151.2 93.7h.01M149.5 67.8h.01M151.4 72.2h.01M152.3 88.9h.01M152.7 69.3h.01M156.2 74.3h.01M148.1 88.1h.01M152.2 85.7h.01M154.4 82.2h.01M150.9 67.4h.01M145.9 86.7h.01M144 89.2h.01M152.5 79.9h.01M154.8 78.2h.01M150 80h.01M159 72.8h.01M146.4 85.8h.01M147.3 77.6h.01M143.1 65h.01M149.8 67.5h.01M145.3 93.7h.01M151.8 94.8h.01M145.6 82.1h.01M148.7 79.8h.01M144.6 91.6h.01M144.3 88.3h.01M151.4 83.4h.01M150.8 85.3h.01M153.2 71.1h.01M149.3 71.3h.01M142.7 87.5h.01M147.3 93.5h.01M155.9 82h.01M143.8 89.1h.01M144.7 80h.01M146.8 79.4h.01M145.9 79.8h.01M144.2 78.1h.01M146.4 64.9h.01M143.7 59.2h.01M144.8 83h.01M150 89.2h.01M151.7 80.6h.01M145.9 67.9h.01M144.4 63.3h.01M148.8 90.9h.01M147.5 69.9h.01M151.8 80.5h.01M147.4 75.4h.01M143.7 70.5h.01M148 76.8h.01M153.9 78.2h.01M142.7 82.6h.01M157.5 70.2h.01M145.2 79h.01M142.8 84.1h.01M143.7 77.6h.01M147.6 65.6h.01M143.6 92.2h.01M146.6 62.7h.01M148.2 87.2h.01M146.4 72.2h.01M143.3 92.9h.01M147.4 79.8h.01M143.6 59.3h.01M149.2 65.2h.01M148.1 88.5h.01M148.8 86.7h.01M144.2 67.4h.01M145.5 77.9h.01M143.7 70.4h.01M150.6 77.7h.01M153.1 76.4h.01M151.8 70.7h.01M151 71.8h.01M147.8 84h.01M144.4 78.7h.01M143.1 78.3h.01M153.1 85.7h.01M151.7 76h.01M143.1 86.7h.01M156.8 71.7h.01M151.5 68.6h.01M150.3 86.7h.01M143.9 85.3h.01M150.3 74.7h.01M152.8 68.8h.01M152.9 68.5h.01M143.7 78.9h.01M152 90.2h.01M149.5 66.1h.01M144.3 75.1h.01M146.4 85.4h.01M145.6 87.5h.01M147.8 93.3h.01M142.6 84.8h.01M151.9 77.6h.01M144 92.4h.01M151.7 80.8h.01M143.5 83.2h.01M146.3 64.9h.01M145.2 78h.01M143.6 79.2h.01M149.4 76h.01M148.6 77.6h.01M151.6 72.4h.01M152.1 72.7h.01M146.2 85.3h.01M148 69.5h.01M150.9 73.8h.01M147.6 79.6h.01M143.1 84.3h.01M145.8 62.5h.01M151 75.7h.01M149.7 61.5h.01M147.2 74.5h.01M150 86h.01M143.9 76.8h.01M147.9 65.7h.01M153.1 85.9h.01M146.9 79.5h.01M148 67.8h.01M149.5 79.4h.01M150.1 80.8h.01M147 92.7h.01M146.9 94.3h.01M143.3 81.3h.01M154.4 71.6h.01M146.8 69.2h.01M157.2 80h.01M146.1 79.8h.01M146.3 81h.01M142.7 91.2h.01M147.9 70.6h.01M144.6 73.3h.01M148 67.9h.01M149.8 89.1h.01M143.1 78.2h.01M147.2 76.4h.01M146.2 80.2h.01M144.3 69.4h.01M147.3 89h.01M143 84.8h.01" stroke="#000" stroke-width="0.5" stroke-linecap="round" opacity="0.42" fill="none"/>
<path d="M121.5 84.3h.01M123.9 91.3h.01M120.2 85.1h.01M140.9 81.6h.01M127.2 91.6h.01M135.5 69.4h.01M141.4 74.4h.01M142.1 74.1h.01M121 87.3h.01M125.8 72.4h.01M142.2 70.2h.01M132.8 69.8h.01M123 91.8h.01M132.2 71.8h.01M136.1 69.4h.01M123.7 91.4h.01M120.8 82.6h.01M141.3 69.8h.01M124.5 90.1h.01M141.9 72.4h.01M132.3 93.2h.01M124.6 92.4h.01M119.5 84.7h.01M117 86.5h.01M137.1 86.4h.01M142.7 67h.01M141.9 68.6h.01M120.7 79h.01M127.8 93.1h.01M120.1 80.5h.01M127.2 91.2h.01M130.7 91.8h.01M127.5 92.9h.01M137.4 90.3h.01M141.2 69.5h.01M120.8 89.6h.01M119.2 84.5h.01M134 92.8h.01M122.7 75.8h.01M124.2 91.8h.01M141.6 84.7h.01M142.7 71.5h.01M123.8 90.6h.01M135.5 68.9h.01M125.4 73.3h.01M135 91.8h.01M141 74h.01M136.7 70.1h.01M128.7 71.8h.01M121.5 86.6h.01M123.9 75.1h.01M143.7 66.4h.01M136.5 88.5h.01M136.1 70.5h.01M122.2 91.4h.01M142.5 69.3h.01M120 79.2h.01M141.7 70.8h.01M135.3 70.4h.01M125.7 90.6h.01M121.4 84.3h.01M125.3 91.8h.01M124.8 75.4h.01M142.2 82.2h.01M131.6 68.9h.01M132.8 92.5h.01M120.1 83.3h.01M137 89h.01M132.5 91.9h.01M139.2 67.8h.01M129 91.5h.01M142.3 66.8h.01M129.7 94.4h.01M131.5 91.9h.01M142.6 68.1h.01M134.7 70.1h.01M142.8 74.5h.01M128.5 71.4h.01M122.3 92h.01M141.8 68.8h.01M123.9 91.6h.01M122.7 89.8h.01M141.2 72.6h.01M141.4 73.2h.01M134.9 91.8h.01M140.3 68.2h.01M142 68.5h.01M119.4 85.8h.01M119.7 78.6h.01M128.2 92.3h.01M141 67.9h.01M120 83.4h.01M141.4 68.8h.01M123 88.8h.01M123.7 90.2h.01M126.6 71.9h.01M141.6 71.7h.01M120.9 79.2h.01M132.1 91.6h.01M127.7 71.6h.01M140.7 82.8h.01M126.7 91.1h.01M120.5 81.8h.01M127.7 93.4h.01M140.6 80.9h.01M119.6 81.7h.01M133.9 68.1h.01M142.1 73.6h.01M122.2 86.8h.01M131.8 91.6h.01M123.3 75.8h.01M120 84.2h.01M126.6 91.2h.01M139.4 67.9h.01M138.6 67.9h.01M142.3 69h.01M131.7 94.9h.01M120.4 81.2h.01M134.4 93.6h.01M119.9 80.3h.01M140.2 78.1h.01M141.2 74.8h.01M136.2 90.8h.01M123.6 93.9h.01M135.7 88.9h.01M119.9 79.7h.01M120.2 83.9h.01M130 69.8h.01M119.2 83.7h.01M119.6 81h.01M141.7 68h.01M141.8 81.1h.01M120.5 80.3h.01M132 91.8h.01M119.4 80.8h.01M125.4 90.4h.01M131.1 71.8h.01M125.3 75.9h.01M120.1 82.8h.01M137.1 91.7h.01M140.6 81.4h.01M134.6 92.6h.01M140.3 70.1h.01M125.8 91.9h.01M120.3 83.8h.01M120.7 80h.01M142.5 68.1h.01M143.9 68.8h.01M120 78.9h.01M141.1 71.2h.01M134.6 70.4h.01M124.9 90.5h.01M128.6 92.4h.01M142.1 71.1h.01M117.4 82.7h.01M120.8 84.9h.01M126.6 94h.01M139.8 85.1h.01M141.4 83.1h.01M141.4 72.9h.01M135.1 69.5h.01M142.3 85.3h.01M131 71.7h.01M139.2 69.1h.01M140.3 85.9h.01M142.2 80.7h.01M119.2 85.9h.01M121.1 81.9h.01M132.4 92.7h.01M133.9 90.9h.01M132.3 92.7h.01M125.4 75.6h.01M142.4 78.5h.01M134.8 69.3h.01M142.4 67.7h.01M141.1 74.2h.01M120.3 79.9h.01M139.5 84h.01M127.6 91.4h.01M141 69h.01M140.5 67.4h.01M141.1 69.1h.01M122.9 89.1h.01M128 92.4h.01M132.8 90.8h.01M123.5 89.5h.01M119 83.1h.01M136.5 69.1h.01M143.7 70.6h.01M136.6 69h.01M121.6 86.4h.01M136.9 88.7h.01M128.1 92.2h.01M122.4 89.7h.01M123.6 91.1h.01M127.1 92.1h.01M134.7 90.5h.01M140.3 67.3h.01M140.8 70.1h.01M135.5 67.2h.01M140.9 69.4h.01M121.6 87.3h.01M142.2 72.6h.01M127.8 73h.01M121.1 88.6h.01M143.1 70h.01M120.2 81.4h.01M142.1 84.9h.01M141.5 71.9h.01M141.1 75.8h.01M129.2 69.2h.01M119.6 84.1h.01M134.7 91.3h.01M119.9 85.1h.01M139.9 67.1h.01M142.7 67.6h.01M137.7 85.7h.01M129.7 72.3h.01M123.2 75.7h.01M126.4 93.7h.01M127.7 93h.01M122.4 80.3h.01M126.2 74.4h.01M127.8 72.7h.01M141 71.7h.01M141.9 77.2h.01M139.3 81.7h.01M140.1 79h.01M142.2 68.1h.01M127.5 91.4h.01M142 75.8h.01M137.6 87.1h.01M134.4 90.8h.01M142.8 67.4h.01M140.1 84.1h.01M121.5 87.2h.01M125 91.5h.01M132.8 69.7h.01M140.3 82.4h.01M127.3 94.2h.01M136.1 68.4h.01M123.3 88.8h.01M130.5 72.6h.01M137.4 69.5h.01M119.9 84.5h.01M131.3 91h.01M125.9 72.3h.01M124.2 74.8h.01M141.1 76.1h.01M138.1 92h.01M121 88.9h.01M120.7 85.5h.01M122.7 90.8h.01M143.2 69.7h.01M136.6 87h.01M140.8 76.2h.01M141.5 75.1h.01M128.4 93.4h.01M139.5 68h.01M141 67.7h.01M130.7 92.4h.01M121.5 81.3h.01M137.2 89.7h.01M124.5 75h.01M146.5 76h.01M124.9 72.5h.01M141 68.5h.01M139.3 68h.01M122.2 76.7h.01M141.2 67.1h.01M117.4 80.1h.01M141.2 69.6h.01M142.2 79.8h.01M141.1 81.2h.01M128.3 91.5h.01M130 91.4h.01M120.3 91.8h.01M119.8 88.9h.01M141.8 67.2h.01M120.7 87.4h.01M119.8 80.8h.01M140.6 83.7h.01M117.7 85.2h.01M121.1 88.5h.01M135.1 91.6h.01M125.2 74h.01M133.1 93.5h.01M140.9 68.5h.01M124.2 89.9h.01M141.5 69h.01M135.1 70.4h.01M121.2 83.3h.01M120.2 78.5h.01M141.5 68.6h.01M138.5 87.6h.01M132.3 70.5h.01M141.4 68.8h.01M121.4 87.1h.01M124.5 89.4h.01M124.9 90.4h.01M120.5 91.3h.01M126.8 91.5h.01M119.1 82h.01M141.1 71.7h.01M141.2 76.2h.01M121.2 75.9h.01M123.9 91.2h.01M131.2 70.8h.01M121.3 81.4h.01M120.9 81.1h.01M121.9 88.9h.01M140.6 70.7h.01M133.3 69.8h.01M126.8 73.1h.01M141.1 75.6h.01M142.6 69.9h.01M121.3 77.7h.01M130.2 71.8h.01M134.2 92.7h.01M141.7 68.6h.01M142.3 70.1h.01M128.7 91.3h.01M120.3 76.6h.01M118.6 87.4h.01M124.8 90.3h.01M125.2 74.7h.01M125.9 90.7h.01M136.5 91.3h.01M120.9 86.3h.01M131.6 92.3h.01M120.9 78.2h.01M140.6 81.2h.01M126.7 91.6h.01M142.3 75.9h.01M144 76h.01M120.1 83.2h.01M136.3 92.5h.01M143.5 70.9h.01M121.1 80.2h.01M123.8 91.1h.01M120.6 83.5h.01M141.8 80.7h.01M136.7 68.2h.01M128.7 92.5h.01M144.1 74.8h.01M141.8 76.9h.01M120.2 82h.01M126.1 92.3h.01M120.7 76.4h.01M121.3 87.8h.01M120.7 76.8h.01M122 76.3h.01M122.5 91.9h.01M140.9 69.7h.01M128.3 72h.01M120.6 87.5h.01M141.7 72.2h.01M139.4 83.7h.01M122.1 77.2h.01M129.8 95.1h.01M120.9 82.2h.01M140.6 75.1h.01M139.2 89.4h.01M133.4 70.4h.01M136.8 68h.01M142 78.3h.01M124.3 90.2h.01M140.2 84.4h.01M141.8 69.7h.01M141.3 78h.01M126.6 91.4h.01M126.4 91.4h.01M134 93.5h.01M142.4 68.8h.01M142.9 67.9h.01M129.2 71.9h.01M137 69.2h.01M140.6 68.8h.01M119 83.1h.01M133.1 91.8h.01M130.1 93h.01M129.7 93.3h.01M132.3 92.2h.01M122.4 88.8h.01M142.1 67.6h.01M135.5 68.3h.01M132.7 92.1h.01M119.6 79.5h.01M122.4 77.9h.01M142 68.4h.01M134.4 92.5h.01M122.3 91.4h.01M137.6 90.4h.01M124.4 91.5h.01M140.2 82.9h.01M136.8 68.9h.01M141.1 73.1h.01M142.1 68.6h.01M141.7 71.8h.01M128.7 91.4h.01M126.8 73.8h.01M124.3 89.8h.01M120.7 77h.01M130.1 91.3h.01M134.3 90.7h.01M128.7 91.2h.01M134.2 90.5h.01M138.1 88.7h.01M122.5 87.3h.01M119.9 80.5h.01M142.5 68h.01M135.2 69.2h.01M134.3 91.4h.01M137.8 87.7h.01M130.3 69.7h.01M141.2 76.4h.01M118 83.5h.01M127 91.2h.01M142.3 68.8h.01M140.8 76h.01M132 92.4h.01M135.5 90.5h.01M123 73.4h.01M139.6 84.8h.01M141.8 69h.01M140 67.5h.01M123.9 90.5h.01M135.7 89.6h.01M121.6 76.6h.01M138 87.8h.01M128.3 73.3h.01M134 93.1h.01M141.6 77.7h.01M139.8 69.3h.01M133.1 94.3h.01M123.5 93.8h.01M119.1 79.3h.01M121.3 78.6h.01M133 94.1h.01M125.7 74.5h.01M128.1 93h.01M119.9 79.2h.01M123 89.7h.01M134 91.7h.01M120.9 80.2h.01M121.5 77.5h.01M125.1 91.4h.01M130.5 71.2h.01M123.4 89h.01M124.6 73.6h.01M143.1 66.3h.01M123.3 89.4h.01M119.1 88.4h.01M139.1 80.6h.01M123.9 88.3h.01M121.1 83.6h.01M122.1 89h.01M127.7 92.9h.01M122 88.1h.01M142.1 78.1h.01M138.9 87.3h.01M120.8 81.2h.01M141.8 75.2h.01M126.1 90.9h.01M135.4 69.8h.01M119.9 87.6h.01M118.6 81.5h.01M136.8 88.3h.01M118.3 83.9h.01M142.4 66.2h.01M141.8 74.8h.01M118.3 85h.01M140.7 85.7h.01M135 69.4h.01M121.9 88.7h.01M124.2 74.6h.01M136.7 90.7h.01M142.6 67.9h.01M121.1 86.1h.01M137.6 89.7h.01M141 70.6h.01M141.8 86.4h.01M130.7 94.4h.01M128.8 71.2h.01M119.7 74.2h.01M122.7 78.5h.01M131.3 92.4h.01M137.4 91.4h.01M132.5 69.6h.01M118 85.5h.01M131.7 71.6h.01M125 92.3h.01M138.8 68.7h.01M131.7 91.6h.01M140.9 74.9h.01M120 82.7h.01M136.5 88.6h.01M139.2 83.7h.01M140.8 73.4h.01M132.6 92.6h.01M136.1 69.7h.01M138.6 88.8h.01M141.6 71.4h.01M130 69.2h.01M128.6 92.1h.01M122.2 88.6h.01M123.7 76.7h.01M120.8 82.1h.01M121.8 77.8h.01M124.6 75.2h.01M141.8 70.2h.01M138.3 85.5h.01M141.9 69.1h.01M142.3 67.8h.01M136.7 90.2h.01M118.8 79.8h.01M143.2 69.3h.01M118.6 83.6h.01M133.6 69.4h.01M121.5 89.9h.01M121 88.3h.01M140.6 77.9h.01M123 89.5h.01M127.3 93.2h.01M119.3 82.4h.01M122.7 90.5h.01M134.1 70.5h.01M142.3 77.9h.01M136 88.9h.01M119.4 88h.01M125.9 91.4h.01M143.8 70.5h.01M127.2 91.5h.01M125 91.3h.01M118.3 80.3h.01M141.6 74.5h.01M120.9 76.5h.01M141.4 70h.01M122.2 75.4h.01M141 68.2h.01M120.8 81.8h.01M131.6 92h.01M131.4 91.8h.01M137.8 69.2h.01M142.1 68.9h.01M120.9 84.5h.01M132.9 69.7h.01M130.2 68.3h.01M127.7 91.4h.01M131.9 71.3h.01M134.7 69.5h.01M143.1 66.9h.01M132.3 91.3h.01M140.9 79.3h.01M139.9 85.9h.01M141.6 76.1h.01M137.9 88.3h.01M126.5 92.3h.01M141.6 69.6h.01M126.4 73.9h.01M121.5 79.1h.01M121.7 75.8h.01M142 75.9h.01M130.4 93.1h.01M141.6 70.8h.01M132.1 92.4h.01M118.3 81h.01M141.8 70.4h.01M142.4 81h.01M133.5 91.4h.01M122.6 77.8h.01M131.9 70.8h.01M141.2 68.7h.01M136.3 89.1h.01M123.4 90.7h.01M141.4 68.9h.01M140 82h.01M142.2 82.7h.01M141.8 69.9h.01M139.7 87.1h.01M135.8 90.6h.01M129.9 71.5h.01M120.2 85.9h.01M125.9 73h.01M120.4 88.3h.01M130.4 93.1h.01M140.7 75.2h.01M137.3 88.7h.01M127.1 92.6h.01M128.3 71.5h.01M120.3 80.1h.01M120.9 85.6h.01M124.2 91.1h.01M141.5 69h.01M126.2 91h.01M126.7 71.1h.01M140.8 70.7h.01M136.1 91.6h.01M119.4 87.4h.01M133.3 92.9h.01M127.6 93.8h.01M143.2 67.3h.01M121.3 84.5h.01M125.3 73.4h.01M142.1 72.7h.01M124.5 89.7h.01M130.6 91.6h.01M142.4 68.3h.01M141.4 70.7h.01M122.4 89.1h.01M140 68.9h.01M120 86.3h.01M141.5 79.5h.01M141.2 80.4h.01M121.7 90.4h.01M142.9 67.1h.01M120.3 90.8h.01M127.8 92.4h.01M141.5 69.7h.01M118.8 86.5h.01M120.1 82h.01M140.3 69.5h.01M130.1 92h.01M122.8 89.8h.01M127.7 72.2h.01M123.2 90.2h.01M121.3 80.3h.01M120.9 79h.01M136.2 90.3h.01M141.9 68.5h.01M141.6 72.8h.01M140.3 68.5h.01M132.8 91.9h.01M142.1 72.4h.01M141 83.7h.01M120 78.7h.01M141.1 73h.01M142.1 67.8h.01M129.6 91.9h.01M133.4 70.2h.01M136.7 92.6h.01M139.1 65.5h.01M143.1 69.7h.01M120.6 77.4h.01M124.2 89.7h.01M120.8 86.7h.01M140.1 68.6h.01M120.8 81.3h.01M141.2 68.9h.01M125.1 91.6h.01M133.2 92.6h.01M139.5 69.8h.01M135.9 91.2h.01M141.5 85.4h.01M122.7 76.6h.01M140.3 67.8h.01M125.7 74.5h.01M139.8 69.4h.01M143.8 74.5h.01M141.1 69.1h.01M119.8 84.6h.01M139.9 84h.01M124 90.4h.01M138.5 85.2h.01M128.4 91.6h.01M117.6 77.3h.01M136.3 88.2h.01M138.3 87.2h.01M123.4 91.3h.01M138 69.5h.01M131.7 92.5h.01M142 76.4h.01M123 75h.01M141 77.6h.01M119.2 85.8h.01M120.3 83.6h.01M129.6 93h.01M123.7 90.7h.01M144 66.4h.01M121.3 89.9h.01M131 72.1h.01M120.7 85h.01M133.7 91h.01M125 90.3h.01M141.7 69.1h.01M142.6 68.6h.01M141.8 69.7h.01M123.2 77.1h.01M120.9 85.3h.01M124.3 72.1h.01M135.1 70.2h.01M121.3 85.1h.01M124.3 93.4h.01M137.4 69.8h.01M140.2 68.4h.01M123 89h.01M141.7 76.1h.01M143.1 78.1h.01M138.2 87.2h.01M121.3 89.9h.01M135 70.4h.01M141 68.9h.01M121.8 88.9h.01M143 67.6h.01M142.9 75.6h.01M138 85.6h.01M138.8 89.3h.01M142.7 68.7h.01M120.3 87.3h.01M121.5 86.5h.01M137.3 68.7h.01M122 88.3h.01M123.4 90.4h.01M119.6 76.7h.01M142 73.8h.01M139.4 68h.01M136.4 69.4h.01M139 69.2h.01M139.9 80.6h.01M140.6 68.7h.01M129.7 92.1h.01M142.5 70.7h.01M132.4 91.7h.01M121.1 78.2h.01M120.6 89.2h.01M142.9 69.4h.01M134.4 69.7h.01M119.9 86.6h.01M142.7 76.2h.01M130.4 91.9h.01M141.5 73.7h.01M122.1 76.5h.01M142.9 66.6h.01M121.1 84.4h.01M127.3 92.7h.01M127 93.4h.01M141.5 70.2h.01M122.3 88.5h.01M137.8 89.1h.01M120 81.9h.01M123.6 89.5h.01M121.7 88.7h.01M141.3 81.5h.01M127.6 71.2h.01M141.9 73.5h.01M118.9 86.3h.01M137 69.6h.01M130.8 91.9h.01M139.2 85.5h.01M132.6 93.1h.01M137.2 89.1h.01M136.3 90.9h.01M137.3 68.3h.01M133.8 69.9h.01M127.9 93.6h.01M128.1 71.1h.01M143.1 87.7h.01M127.6 91.5h.01M141.4 76h.01M142 75.6h.01M142.8 69.6h.01M140.9 75.3h.01M127.9 92.3h.01M139 68.1h.01M138.8 83.9h.01M121.3 89.1h.01M119.5 78.1h.01M121.2 85.9h.01M119.8 82.8h.01M118.3 82.5h.01M124.7 73.7h.01M134.8 69.9h.01M119.5 83.1h.01M134.8 91.1h.01M133.2 90.7h.01M130.8 91.8h.01M139.6 87h.01M142.3 80.1h.01M143.2 67.4h.01M129.3 92.3h.01M142.3 66.6h.01M120.7 85.3h.01M124.8 89.6h.01M135.5 92.1h.01M132.1 91h.01M119.4 85.8h.01M139.9 81.9h.01M126.2 91.2h.01M121.1 86.4h.01M134.1 91h.01M121.7 90.4h.01M134.7 70.4h.01M119.9 88.8h.01M142 69.5h.01M139.2 85.4h.01M137.1 87.6h.01M141.8 77.2h.01M140.3 66.5h.01M125.7 74.2h.01M121.2 85.7h.01M140 83.3h.01M128.2 92.2h.01M121.8 88.1h.01M135 92.2h.01M138.1 89.3h.01M120.9 85h.01M140.2 79.8h.01M125.4 90.3h.01M141.4 70.3h.01M136.5 90.5h.01M135.1 89.8h.01M126 73.5h.01M140.6 73h.01M141.7 68.8h.01M134.5 92.9h.01M140.7 69h.01M120.7 78.4h.01M139.1 68.5h.01M131.5 71h.01M141.9 67.6h.01M127.5 71.5h.01M138.2 87.7h.01M130.6 91.9h.01M142.7 69.6h.01M122.6 75.2h.01M142.6 68.9h.01M142.1 67.5h.01M124.5 91.4h.01M118.2 83h.01M142.5 72.4h.01M120.6 84.1h.01M139 67.6h.01M137.8 88.5h.01M139.7 69.2h.01M136.9 89.7h.01M136.4 89.9h.01M133.3 91.2h.01M119.8 83.3h.01M127.4 72.5h.01M125.2 94.5h.01M142.1 67.5h.01M141.5 77.6h.01M133.2 91.1h.01M140.9 75.5h.01M134.1 91.4h.01M141.7 73.6h.01M141.5 78.2h.01M132.7 70.4h.01M123.5 91.1h.01M141.6 81.6h.01M134.9 92.3h.01M140.4 88.4h.01M130.9 93h.01M120.7 82.4h.01M132.7 91.9h.01M128.4 70.6h.01M139.4 69.4h.01M141 77h.01M137.8 69.4h.01M140.4 85.5h.01M126.7 92.2h.01M141.9 74.9h.01M141 68.8h.01M120.3 83.4h.01M123.3 75h.01M120 90.3h.01M119.9 86.2h.01M141.2 74.8h.01M126.8 92.2h.01M140.4 68.6h.01M119.5 78.5h.01M139.7 80.7h.01M140.3 83h.01M141.8 70h.01M136.8 88.4h.01M141.8 69.1h.01M129.2 71.7h.01M130.8 70.4h.01M140.2 82.6h.01M136.7 68.7h.01M124.1 74.2h.01M141.5 79h.01M119.7 83h.01M126.8 72.3h.01M141 69h.01M140.8 79.1h.01M121.2 80.6h.01M120.2 81.9h.01M141.4 68.1h.01M121 83.7h.01M121.3 91.6h.01M121.4 83.5h.01M123.8 90.9h.01M125.4 90.2h.01M141.3 82.7h.01M119.2 90.2h.01M125.3 90.6h.01M130.5 91.4h.01M120.7 90.6h.01M128.9 91.6h.01M140.9 87h.01M139.2 85.5h.01M127 91.3h.01M121 79.9h.01M129 70.2h.01M140.5 82.8h.01M137.7 69.2h.01M141.4 70.1h.01M121.5 78.1h.01M119.6 85.1h.01M141.9 68.5h.01M127.9 91.7h.01M132 93.4h.01M140 88h.01M138.3 87.7h.01M141.8 69.1h.01M122.2 89.9h.01M130.6 72.4h.01M120.9 87.3h.01M142.4 67.6h.01M117.8 82.2h.01M120.3 79.6h.01M143.8 77.2h.01M143.4 65.6h.01M119.3 84.9h.01M138.1 85.8h.01M132.7 71.4h.01M130.2 70.5h.01M141.7 67.5h.01M133.3 71.1h.01M141.7 70.9h.01M138.2 85.9h.01M139.8 66.6h.01M143.1 79h.01M141.8 79.4h.01M140 86.2h.01M137.4 69.3h.01M120.4 90.8h.01M130.2 71.1h.01M143.1 81.2h.01M142 67.6h.01M118.2 83.5h.01M129.5 69.1h.01M121.3 88.3h.01M121.8 89.7h.01M141.2 68.9h.01M143.6 72.9h.01M126.5 91.1h.01M121 89.8h.01M119.9 79h.01M132.5 92.1h.01M135.9 69.2h.01M127.3 91.3h.01M121.6 75.5h.01M141.9 77.5h.01M118.9 81.8h.01M122.7 89.4h.01M126.5 91.7h.01M125.2 73.3h.01M141.7 78h.01M126.5 91.7h.01M130.3 72.1h.01M141.9 84.7h.01M131.5 71.1h.01M120.9 87.5h.01M123.3 90.2h.01M134.6 92.6h.01M123.6 89.1h.01M121.4 78.3h.01M143.1 67.2h.01M140.8 69.1h.01M121.6 92.7h.01M122.1 79.1h.01M128.1 91.7h.01M127.8 71.9h.01M120.2 81.9h.01M122.9 90.1h.01M130.4 91h.01M137.4 67.6h.01M142.8 67.3h.01M137.5 89.5h.01M129 92.7h.01M127.1 72.4h.01M141.2 79.9h.01M129.6 93.1h.01M119.9 82.5h.01M120.7 77.7h.01M122.6 77.2h.01M120.5 87.3h.01M120.6 86.5h.01M143.8 70.5h.01M139.6 68.5h.01M118.7 81.5h.01M142 73.1h.01M136.5 90.5h.01M141.6 68.2h.01M127.7 94h.01M144.1 71.8h.01M120.4 87.8h.01M135.5 69.3h.01M140.9 69.2h.01M125.7 91.1h.01M137.2 88.9h.01M124.4 72.5h.01M120.7 81.7h.01M125 91.3h.01M139.8 86.7h.01M122.1 87.3h.01M118.4 80.3h.01M134.5 90.7h.01M142.3 83.7h.01M125.5 73.4h.01M125.9 93.2h.01M117.7 84.1h.01M122.4 89.2h.01M130 92.1h.01M141.9 78.2h.01M122.3 75.6h.01M120.8 83.1h.01M140.5 82h.01M136.2 69.7h.01M123.2 90.3h.01M120.4 78.9h.01M124.1 74.4h.01M123 89.3h.01M137.7 67.4h.01M120.4 81.4h.01M140.7 72.5h.01M134.6 68.5h.01M140.1 86.4h.01M141.9 68.2h.01M137.1 88.3h.01M123.2 90.3h.01M123.3 91.2h.01M135.1 69.7h.01M119.9 80.6h.01M125.8 91.2h.01M127.5 70h.01M120 81.8h.01M121.7 79.3h.01M123.5 90.5h.01M136.8 70.2h.01M129.1 93.7h.01M132.2 91.8h.01M135.3 89.8h.01M139.7 83.2h.01M123.7 89.5h.01M124.3 73.9h.01M141.2 79.5h.01M119.2 80.8h.01M143.2 71.9h.01M142.7 68h.01M121.8 88.1h.01M137.3 89.8h.01M142.3 70.9h.01M120.7 86.2h.01M142.7 74h.01M138.3 89.1h.01M142.8 78.1h.01M131.7 91.3h.01M138.9 68.7h.01M140.9 79.5h.01M133.3 92h.01M127.9 91.8h.01M138.3 89.8h.01M130.9 69.7h.01M143.3 75.1h.01M135.8 88.1h.01M144.4 69.7h.01M122.1 87.3h.01M139.5 84.6h.01M125.1 90.9h.01M120.9 80.2h.01M143.2 71.4h.01M141.2 73.4h.01M120 78.3h.01M142.5 72.4h.01M123.9 75.1h.01M142.1 68h.01M128.9 94.9h.01M125.9 92.1h.01M141.4 72.5h.01M137.9 89.6h.01M118.4 84.2h.01M133.7 70.5h.01M129.8 92.6h.01M118.1 81.7h.01M137.3 89.8h.01M134.1 93.6h.01M122.3 89.9h.01M134.1 90.7h.01M142.2 68.3h.01M137 88.7h.01M141.7 68.9h.01M141.8 76.2h.01M137.8 88.2h.01M139.8 88.3h.01M135.4 70.5h.01M132.2 91.5h.01M120.4 75.5h.01" stroke="#000" stroke-width="0.5" stroke-linecap="round" opacity="0.32" fill="none"/>
<path d="M141.25 68.99 L141.24 69.18 L141.24 69.76 L141.24 70.73 L141.23 72.04 L141.18 73.65 L141.05 75.52 L140.81 77.56 L140.42 79.72 L139.84 81.92 L139.07 84.1 L138.09 86.2 L136.89 88.19 L136.05 89.08 L135.1 89.85 L134.06 90.5 L132.95 91.01 L131.79 91.37 L130.6 91.58 L129.4 91.63 L128.21 91.53 L127.06 91.27 L125.95 90.85 L124.91 90.29 L123.96 89.6 L123.11 88.78 L122.38 87.86 L121.78 86.84 L121.32 85.74 L121.01 84.59 L120.85 83.4 L120.85 82.19 L121.01 80.99 L121.32 79.81 L121.78 78.68 L122.38 77.6 L123.11 76.61 L124.85 75.1 L126.75 73.76 L128.77 72.62 L130.83 71.68 L132.89 70.92 L134.86 70.32 L136.67 69.87 L138.25 69.54 L139.55 69.3 L140.49 69.14 L141.06 69.03 L141.25 68.99Z" fill="#050505"/>
<path d="M139.96 70.53 L139.95 70.69 L139.93 71.19 L139.91 72.02 L139.87 73.16 L139.78 74.56 L139.62 76.17 L139.37 77.94 L138.97 79.81 L138.43 81.73 L137.71 83.63 L136.82 85.48 L135.75 87.22 L135.03 87.97 L134.24 88.62 L133.36 89.17 L132.44 89.6 L131.47 89.91 L130.47 90.09 L129.47 90.14 L128.47 90.05 L127.51 89.84 L126.58 89.49 L125.72 89.03 L124.92 88.45 L124.22 87.77 L123.61 87 L123.11 86.15 L122.73 85.23 L122.47 84.27 L122.35 83.27 L122.35 82.26 L122.49 81.25 L122.75 80.26 L123.14 79.31 L123.64 78.41 L124.25 77.58 L125.79 76.22 L127.45 75.02 L129.2 73.98 L130.99 73.11 L132.77 72.4 L134.47 71.84 L136.03 71.4 L137.39 71.08 L138.5 70.84 L139.31 70.67 L139.8 70.57 L139.96 70.53Z" fill="none" stroke="#b8b8b8" stroke-width="0.7"/>
<path d="M138.66 72.74 L138.64 72.88 L138.62 73.29 L138.58 73.97 L138.53 74.91 L138.43 76.06 L138.27 77.39 L138.03 78.85 L137.67 80.4 L137.19 81.99 L136.57 83.57 L135.8 85.1 L134.9 86.56 L134.34 87.14 L133.71 87.65 L133.02 88.08 L132.29 88.41 L131.52 88.65 L130.73 88.79 L129.94 88.82 L129.15 88.74 L128.38 88.56 L127.64 88.29 L126.95 87.91 L126.31 87.45 L125.75 86.91 L125.26 86.29 L124.86 85.61 L124.55 84.88 L124.34 84.12 L124.23 83.33 L124.23 82.53 L124.33 81.73 L124.53 80.95 L124.83 80.2 L125.22 79.5 L125.7 78.84 L126.98 77.7 L128.36 76.68 L129.8 75.79 L131.28 75.04 L132.75 74.42 L134.15 73.93 L135.43 73.54 L136.55 73.24 L137.46 73.03 L138.12 72.87 L138.53 72.78 L138.66 72.74Z" fill="none" stroke="#444" stroke-width="0.4"/>
<path d="M130.6 83 l2.2 -2.2" stroke="#ddd" stroke-width="0.6"/>
</g>
<g>
<path d="M213.6 70.9h.01M211 70h.01M210.2 72.9h.01M211.6 74.5h.01M212.9 69.3h.01M210.3 73.1h.01M213 69.4h.01M210.9 72h.01M211.5 68.7h.01M212.9 70.1h.01M213.9 69h.01M212 72.2h.01M211.1 69.6h.01M210.4 71.5h.01M213.5 70.6h.01M213.4 68.8h.01M212.2 72.6h.01M211.3 69.8h.01M212.3 69.7h.01M212.7 70h.01M211.3 73.9h.01M211.8 72h.01M211.9 68.4h.01M209.4 72.6h.01M211.1 72.5h.01M213.1 69.7h.01M211 70.4h.01M212.6 69.4h.01M212.2 73.5h.01M212.6 70h.01M213.6 72.6h.01M209.5 69.8h.01M225.2 77.3h.01M224 74h.01M227.2 68.8h.01M223.1 75.2h.01M227.1 82.8h.01M217.6 79h.01M219.2 91h.01M215 80.8h.01M229.7 79h.01M217.4 72.7h.01M248.3 80.3h.01M235.5 71.9h.01M217.6 84.2h.01M218.4 78.6h.01M218.4 84.2h.01M222.4 79.9h.01M227 82h.01M222.6 85.8h.01M218.3 82.2h.01M215 81.6h.01M215 81.5h.01M229.4 80.3h.01M225.8 84.1h.01M216.1 73.7h.01M218.8 82.5h.01M218.5 81.6h.01M228.7 79.6h.01M216.6 65.2h.01M230.6 75.8h.01M220.8 80.9h.01M219.8 81.7h.01M215.2 70.2h.01M222.5 80h.01M222 90.3h.01M217.1 87.2h.01M222 83.2h.01M224 84.4h.01M225.6 83h.01M220 87.9h.01M232 82.7h.01M216.5 79.3h.01M223.7 82.7h.01M240.3 69.2h.01M232.2 80.1h.01M220.8 86.1h.01M216.7 81.4h.01M221.2 82.3h.01M216.7 74.4h.01M225.3 75.5h.01M236.7 76.7h.01M223.2 75.5h.01M220.9 83.8h.01M218.9 81.9h.01M220.7 82.6h.01M223 75.3h.01M218.4 69.3h.01M224.6 75.8h.01M228.2 75.7h.01M239.8 73.6h.01M221 76.6h.01M219 82h.01M226.2 80.8h.01M223 77.9h.01M214.6 79.2h.01M241.3 67.5h.01M226.7 79h.01M214.4 88.7h.01M221.6 70.7h.01M244.3 74.5h.01M214.6 88.6h.01M229.4 79.9h.01M217.1 78.4h.01M215.3 80.4h.01M221.3 79.2h.01M214.1 81.1h.01M228.6 78.8h.01M239.4 77.8h.01M219.3 81.5h.01M216.9 80h.01M218.4 87.7h.01M224 82.6h.01M222.9 79h.01M218.1 78h.01M214.1 80.1h.01M220.1 79.3h.01M214.8 81h.01M223.1 79.6h.01M214.4 79.6h.01M226.8 77.3h.01M221.2 77.3h.01M225.2 80.5h.01M229.1 87.7h.01M234.7 82.3h.01M225.2 86.6h.01M222.2 71.7h.01M220.6 87h.01M232.5 82h.01M243.8 75.7h.01M227.3 78.6h.01M225.6 75.9h.01M220.7 82.2h.01M226.3 89.4h.01M216.8 78.8h.01M227.5 81.7h.01M222.6 88.2h.01M217.9 70.7h.01M227.3 79.6h.01M240.1 90.7h.01M219.8 77.3h.01M231.1 82.8h.01M231.3 69.5h.01M221.4 79.6h.01M225.2 72.4h.01M218.4 78.5h.01M215.1 70.6h.01M215.6 90.1h.01M215.7 81.6h.01M217.1 81.3h.01M222.1 81.9h.01M216.2 70.7h.01M224.8 79.6h.01M226.5 71.6h.01M214.3 81.6h.01M221.5 83.6h.01M220.7 72.2h.01M229.7 88.3h.01M230.3 83.6h.01M223.6 70h.01M224.3 72.1h.01M226.3 80.1h.01M222 82h.01M216.6 80.4h.01M220.6 77.2h.01M223.2 81.5h.01M216.9 87.9h.01M217.6 78.9h.01M227.7 77h.01M222.6 82.2h.01M222.7 81.6h.01M216.9 85.4h.01M215.6 84.5h.01M229.6 69.2h.01M221.6 72.6h.01M221.6 78.6h.01M228.6 79.9h.01M217.9 78.1h.01M217 83.7h.01M226.8 75.2h.01M249.2 71.3h.01M219.1 82h.01M235.1 81h.01M216.3 69.5h.01M229.8 81.4h.01M218.8 73.1h.01M215 81.2h.01M221.5 82.8h.01M224.7 66.6h.01M217 83h.01M218.2 73.6h.01M217.8 86.1h.01M219.8 81.8h.01M226.6 78.3h.01M220.4 73.9h.01M232.2 75.3h.01M221.8 76.9h.01M225.4 87.2h.01M224.2 82.8h.01M228 78.5h.01M231.8 86.7h.01M225.1 75.6h.01M219.5 72.2h.01M225.3 89h.01M216.2 69.9h.01M224.3 72h.01M214.7 69.1h.01M221.9 75.3h.01M241.8 77.3h.01M218.2 65.2h.01M219 84.3h.01M229.6 90.5h.01M220.5 80.5h.01M234.7 69.1h.01M222.2 81.7h.01M227.2 83.2h.01M226.1 81h.01M230.7 72.4h.01M229.7 77.5h.01M235.6 83.1h.01M223.1 83.4h.01M228 72.4h.01M241.3 81.1h.01M222.7 81.8h.01M220.9 82.1h.01M215.9 81.2h.01M234.1 73.4h.01M215.4 84.1h.01M218.7 77.8h.01M228.7 69.7h.01M214.3 85.4h.01M224.3 88.4h.01M218.9 78.9h.01M216.4 83.4h.01M224.8 64.9h.01M220 72.1h.01M226.3 79.2h.01M218.5 82.4h.01M221.6 88.1h.01M224.1 71.5h.01M219.7 82.4h.01M233.4 77.1h.01M219.5 88h.01M227.6 72.3h.01M230.3 75.5h.01M216 80.1h.01M230.9 83.9h.01M217.2 78.5h.01M216 87h.01M214.8 79.2h.01M233.1 79.9h.01M222.9 80h.01M219.7 80.5h.01M241.2 73.4h.01M214.2 71.8h.01M215.9 84.1h.01M214.6 84.5h.01M248.2 85.1h.01M223.4 78.9h.01M221.4 73h.01M218.8 78.1h.01M216.4 82.1h.01M227 74.4h.01M220.4 72.3h.01M219.4 80.9h.01M217.5 74.8h.01M224 75.6h.01M220.7 77.2h.01M224.3 69.8h.01M233.3 84.6h.01M232.3 84.8h.01M226.3 81.3h.01M219.1 84.2h.01M222.5 72.4h.01M228.8 76.7h.01M224 75.6h.01M227.8 63.6h.01M218.8 74.3h.01M227.4 72.8h.01M221.1 73.2h.01M214.5 93.2h.01M215.1 81.2h.01M221.3 83.5h.01M225.4 81.6h.01M234.9 72.2h.01M215 92.1h.01M218 81.4h.01M223.7 82.2h.01M231.7 68.8h.01M228.8 79.2h.01M223.7 85.8h.01M233 76.7h.01M232.9 77.9h.01M215.6 80.7h.01M222.4 75.3h.01M232.8 74h.01M216.7 84.3h.01M220.2 72.3h.01M215.8 71.8h.01M226.4 83.9h.01M220.9 83.7h.01M243.8 76.7h.01M227.6 76.5h.01M224.4 75.5h.01M228.3 72.3h.01M225.2 81.1h.01M231.6 84.9h.01M216.3 71.6h.01M230.3 81.3h.01M215 84.5h.01M219.2 80.2h.01M216.9 79.4h.01M214.8 81.3h.01M222.1 73.7h.01M215.2 81.4h.01M219.2 83.3h.01M215.9 85.3h.01M214.1 80.6h.01M216.1 80.4h.01M220.5 82.6h.01M225.8 81.9h.01M232.6 84.9h.01M224.3 82.8h.01M221.4 77.7h.01M227.5 71.1h.01M227.7 72h.01M220.9 88.5h.01M219.8 73.6h.01M217.2 66h.01M220.6 75.4h.01M214.3 85.1h.01M216.6 79.7h.01M223.2 77.5h.01M218.7 75.1h.01M235.7 77.4h.01M227 82.9h.01M218.8 83.7h.01M228.8 75.4h.01M225 86.7h.01M215 80.1h.01M222.2 82.8h.01M223.8 78.9h.01M228.7 75.6h.01M224.7 80.4h.01M223.7 80.3h.01M223.1 84.1h.01M216.2 71.7h.01M219.2 85.2h.01M215.7 80.2h.01M235.2 80h.01M237.3 76.7h.01M228.9 75.7h.01M214.1 90.3h.01M228.9 77.2h.01M235.5 72.6h.01M218.5 83.1h.01M234.5 72.8h.01M217.2 80.5h.01M223.3 66h.01M215.7 71.1h.01M233.4 83.6h.01M228.9 76h.01M225.5 78.8h.01M226.3 78.7h.01M221.3 79.5h.01M224.4 83.1h.01M216.6 82.5h.01M216 83h.01M219.1 83.9h.01M215.2 87.6h.01M224.6 74.8h.01M218 86.9h.01M217.1 78.9h.01M220.8 75.7h.01M219.6 81.5h.01M217.3 84.9h.01M222.3 74.8h.01M221.4 75.9h.01M214.3 82.6h.01M223.6 74.4h.01M223.4 83.3h.01M216 83h.01M221.6 77.7h.01M216.5 69.3h.01M217.7 86.2h.01M221.5 72.6h.01M224.3 84h.01M226.2 81.3h.01M226.4 77.6h.01M220.2 80.6h.01M219.9 84h.01M230.2 81.5h.01M220.1 74.6h.01M229.8 70.4h.01M214.1 84.2h.01M224.7 81.5h.01M217.9 82.7h.01M214.3 86.1h.01M221.2 71.7h.01M214.8 82.6h.01M228.9 77.8h.01M217.7 69.8h.01M227.4 79h.01M235.3 82.2h.01M218.1 75h.01M235.1 75.2h.01M225.4 74.3h.01M223.1 79.9h.01M230.1 73.6h.01M224 85.4h.01M215.1 73.7h.01M218.7 82.3h.01M219.8 82.6h.01M232.8 70.4h.01M225.4 74.1h.01M238.3 92.6h.01M229.6 79.3h.01M224 87.5h.01M214.8 83.5h.01M216.5 81.6h.01M224.1 76.7h.01M222 72.6h.01M225.8 84.9h.01M218.6 81.8h.01M222.9 88.9h.01M215.3 71.4h.01M215.2 80.6h.01M227.3 78.7h.01M238.7 77.7h.01M233.3 72.6h.01M244.2 71.5h.01M221 83.1h.01M221.9 74.9h.01M230.6 70.4h.01M241.3 69.6h.01M223.7 81.6h.01M221.8 86.9h.01M236.4 76h.01M221.7 80.9h.01M222 77.1h.01M216 72.5h.01M221.8 81.1h.01M234.2 78.9h.01M222.7 89.7h.01M224.5 74.7h.01M219 70.5h.01M241.9 78.4h.01M230.4 76h.01M217.5 85.3h.01M226.5 78.4h.01M217.6 89.5h.01M214.8 82.2h.01M225.3 78.9h.01M214.1 71.4h.01M215.9 86.3h.01M228.8 74.8h.01M214.5 82.2h.01M217.6 86.5h.01M219.2 79.8h.01M217.7 79.2h.01M228.3 76.1h.01M228.3 73.9h.01M216.1 72.7h.01M223.9 74.1h.01M222.4 87h.01M227.9 89.9h.01M221.3 78.3h.01M215.2 85.9h.01M219.5 79.6h.01M218.2 86.5h.01M214.3 81.4h.01M216.3 79.6h.01M221.1 88.6h.01M226.6 82.3h.01M219.6 71.4h.01M220.9 84.6h.01M216 73.5h.01M215.5 72.6h.01M224.8 68.1h.01M223.8 63.5h.01M226.7 82.6h.01M219.8 92.7h.01M229.5 79h.01M224.1 77.5h.01M227.8 74.4h.01M229.8 69.2h.01M214.1 87.6h.01M227.2 77.7h.01M225.8 82.6h.01M218.4 80.9h.01M227.6 84.8h.01M225.3 76.1h.01M231.8 70.9h.01M231.3 85.6h.01M237 83.5h.01M220.3 75.7h.01M234.7 82.8h.01M217.6 84.5h.01M217.4 79.9h.01M242 73.3h.01M220.9 85.3h.01M235.1 78.2h.01M234.1 80.4h.01M215.5 82.3h.01M221.8 81h.01M231 78.4h.01M222.6 72.2h.01M227 87h.01M227.9 76h.01M225.6 82.9h.01M219.8 75.5h.01M223.9 71.5h.01M214.7 73.6h.01M223.4 77.2h.01M223.5 85.1h.01M246.2 73.4h.01M234.8 78.2h.01M228.7 77.5h.01M217.6 72.7h.01M223.8 82.3h.01M236.8 79.4h.01M217.5 71.8h.01M215.8 80.2h.01M218.5 82.9h.01M215.2 72.9h.01M215.9 74.1h.01M223 78.8h.01M215.7 87.7h.01M218.4 80.9h.01M223.7 78.1h.01M221.6 70.3h.01M220.9 80.7h.01M231.9 70.8h.01M215 82.3h.01M229.2 78.8h.01M228 90.7h.01M232 80.3h.01M222.7 81.6h.01M227.1 77.2h.01M218.6 83.3h.01M221.7 84.3h.01M225.5 78.8h.01M226.4 79.7h.01M219.1 87.2h.01M226.4 82.9h.01M233.7 73.5h.01M224.3 83.8h.01M217.6 84.7h.01M236.9 72h.01M226 71.9h.01M219.2 83h.01M229.9 65.6h.01M227.3 74.1h.01M234 79.6h.01M220.7 79.6h.01M217 85.1h.01M220.9 86.8h.01M224.5 76.1h.01M229.4 79.1h.01M221.4 66.4h.01M215.2 71.1h.01M217.7 78.6h.01M227.2 76.2h.01M240.4 88.1h.01M222.9 75.8h.01M224.9 83.9h.01M225.9 83.3h.01M220.6 70.4h.01M219.1 73.5h.01M228.2 79.9h.01M231.3 79.5h.01M216 84.6h.01M218.3 73.9h.01M230.3 87h.01M227.1 83h.01M228 82.6h.01M232.9 84.2h.01M233.9 78.4h.01M215.6 81.5h.01M231 77.7h.01M222.2 73.1h.01M229.5 78.7h.01M227.6 80.1h.01M219.9 79.3h.01M224.1 75.3h.01M214 84.5h.01M216.8 81.2h.01M228.4 83.6h.01M236.4 76.2h.01M233.9 71.1h.01M221 75.2h.01M225.5 72.6h.01M217.6 80.9h.01M228.9 79.9h.01M214.3 84.8h.01M227 73.4h.01M219.9 80.4h.01M231 69.6h.01M217.7 84.8h.01M218.1 82.3h.01M233 77.5h.01M216.6 81.9h.01M219.7 75h.01M221.8 77.2h.01M226.9 78.8h.01M230.8 74.4h.01M219.5 87.2h.01M224.3 70.9h.01M236.4 70.7h.01M220.2 87.6h.01M216.5 81.6h.01M218.4 73h.01M221.6 75.1h.01M224.4 81.1h.01M231.9 82.8h.01M231 74.5h.01M224.1 83.8h.01M222.6 80.7h.01M217.2 80.1h.01M214.6 81.9h.01M227.5 66.3h.01M222.1 70.7h.01M219.8 71.1h.01M224.8 78.9h.01M228.8 78.6h.01M216.8 84.2h.01M216.4 84.7h.01M220 72.8h.01M214.8 83h.01M215.4 87.8h.01M224.9 79.6h.01M220.6 74.5h.01M227.1 83.7h.01M234 74.3h.01M238 77.1h.01M214.6 70.2h.01M225.2 81.2h.01M220 77.4h.01M221.8 77.5h.01M233.5 81.2h.01M220.2 71.3h.01M216.7 79.4h.01M227.1 79.3h.01M214.8 79.7h.01M226.5 90h.01M250.2 79.3h.01M215.6 80h.01M218.7 79.5h.01M217.3 67.9h.01M223.3 66.7h.01M215.3 73.5h.01M225.3 72.6h.01M225.9 76.8h.01M218.7 79.9h.01M215.1 79.3h.01M216.9 87.8h.01M223.8 84.7h.01M221.1 89.4h.01M224.1 78.2h.01M220.4 70.8h.01M221.6 86.8h.01M221.8 68.7h.01M247.1 86.2h.01M226.1 83.1h.01M217.1 86.4h.01M222.3 77.7h.01M228.7 75.1h.01M228.6 74.7h.01M219.3 80.6h.01M224.9 78.7h.01M217.5 74.6h.01M224.2 77.9h.01M219.1 74.1h.01M223.4 81.2h.01M215 82.1h.01M222.7 84.3h.01M222 77.7h.01M225.1 78.4h.01M215.2 73.7h.01M221.6 78.4h.01M217 79.9h.01M229.3 80.7h.01M214.2 81.5h.01M224.7 68.1h.01M214.8 85.8h.01M224.3 85h.01M244.5 85h.01M223 77.7h.01M227 71.7h.01M227 75.6h.01M221.5 89.1h.01M221.1 82.8h.01M222.7 79.3h.01M215.1 83.5h.01M231.2 80.4h.01M226.8 81.6h.01M220 78.7h.01M234.4 77.3h.01M224.4 81h.01M219 84.3h.01M222.9 80.9h.01M229.8 79.8h.01M219.9 84.4h.01M220.9 72.3h.01M220.7 83.2h.01M223.6 83.8h.01M234 74.6h.01M232 73.5h.01M230.9 72.6h.01M221.5 79.1h.01M228.3 80h.01M227.3 74.1h.01M216.6 80.7h.01M217.2 78.6h.01M214 82.2h.01M220 79.3h.01M218.8 83.7h.01M223.4 81.7h.01M235.2 82.4h.01M217.9 73.8h.01M229.4 79h.01M215.7 80.5h.01M220.8 74.5h.01M218.6 78.7h.01M219.6 81.2h.01M224.8 71.7h.01M223.8 75.5h.01M232.1 78.4h.01M219.9 80.8h.01M229 76.3h.01M220 81h.01M219.1 78.6h.01M222 84.8h.01M218.9 88.1h.01M221.5 83.2h.01M224.5 77.3h.01M222 76.4h.01M219.3 84h.01M227.5 74.4h.01M221.6 70.5h.01M233.5 75.5h.01M237.3 78.7h.01M216.4 74.2h.01M229.6 70.7h.01M215 73h.01M219.3 78.3h.01M231.9 70.9h.01M232 70.7h.01M215.9 84.9h.01M214.6 81.6h.01M217.8 71.6h.01M218.5 79h.01M217.9 80h.01M221.6 70.1h.01M216.6 80h.01M242.7 85h.01M214.7 79.5h.01M215.4 85.6h.01M227.6 74.5h.01M218.7 71.4h.01M233.6 76.7h.01M235 72.2h.01M223.5 67.9h.01M240.5 84.1h.01M220.7 88.6h.01M224.1 87.3h.01M225 75.9h.01M229.9 84.5h.01M224.7 83.3h.01M217.7 80.6h.01M218.5 73.4h.01M218.3 81.1h.01M222.5 69.5h.01M222.6 85.1h.01M226.5 67.3h.01M229.3 72.4h.01M233.8 72.9h.01M222.5 85.7h.01M220.4 75.6h.01M231.7 66h.01M227.4 76h.01M231.5 80.5h.01M223.2 79h.01M220.6 79h.01M221.4 85.4h.01M226.9 81h.01M216.8 73.4h.01M229.5 80.3h.01M217 68.5h.01M220.7 73.6h.01M215.3 69.9h.01M224.4 88h.01M217.7 86.7h.01M228.9 74.4h.01M214.5 81.7h.01M216.3 78.9h.01M225.5 78.1h.01M217.9 71.7h.01M231 71.6h.01M221.2 78.4h.01M218.6 65h.01M222.7 80.1h.01M214.8 81.1h.01M227.6 76.2h.01M215.7 80.8h.01M230.5 76.9h.01M223.5 89.9h.01M218 90.1h.01M218.2 81.2h.01M226.9 83.9h.01M220.9 88h.01M214.4 81.6h.01M234 75h.01M221.1 86.1h.01M219.9 79.8h.01M220.5 80.1h.01M219 81.7h.01M221.9 80.6h.01M224.9 89.8h.01M223.8 79.8h.01M217.5 72.7h.01M216.7 78.6h.01M236.9 72.5h.01M221.8 70.4h.01M232 84.1h.01M219.2 65.6h.01M223.4 74.3h.01M220.5 80.7h.01M224.6 78.6h.01M224.4 72.8h.01M226.6 66.1h.01M218.8 78.9h.01M229.7 75.1h.01M226.3 77h.01M230.5 82.1h.01M221.3 75.4h.01M222.5 78.3h.01M222.2 82.4h.01M217.7 74.2h.01M227.2 73.2h.01M215.3 84.8h.01M225.7 76.2h.01M227.3 84.3h.01M219.9 81.2h.01M216.1 82.9h.01M221.1 79.7h.01M224.6 67h.01M231.7 80.8h.01M218.1 81.3h.01M216.4 82.7h.01M217.1 80.8h.01M219.1 86.7h.01M240.6 71.8h.01M218.3 84.3h.01M214.6 87.4h.01M224.8 77.5h.01M218.3 82.1h.01M220.9 78.4h.01M223.3 77.2h.01M219.3 85h.01M228.2 77.6h.01M224.4 85.5h.01M225.1 77.1h.01M219.8 78h.01M221.6 83h.01M239 87.5h.01M214.5 90.7h.01M226.1 87.9h.01M219.1 82.4h.01M220.1 83.8h.01M225.2 74.3h.01M223.9 80.4h.01M230.1 74.4h.01M227.6 70h.01M220.9 81.6h.01M230.4 84.2h.01M224.8 70.8h.01M222.5 72.1h.01M222 72.7h.01M231.3 75.2h.01M219.9 87h.01M217.3 81.7h.01M234.3 63.6h.01M218.7 80.2h.01M220.2 73.9h.01M233.7 65.8h.01M234.6 83.1h.01M218.5 73.7h.01M219.3 79.9h.01M220.1 82h.01M242.3 78.6h.01M215 84.4h.01M218.5 78.7h.01M233.3 76.1h.01M221.7 73h.01M222.6 69.9h.01M219.2 83.1h.01M220.3 85.5h.01M218.8 79.4h.01M215.8 86h.01M229.1 77h.01M241.7 65.5h.01M228.3 83.4h.01M226.2 78.2h.01M220.5 83.2h.01M216.6 81.4h.01M224.3 83h.01M222.8 83.2h.01M224.5 72.2h.01M218.1 80.2h.01M215.9 86.3h.01M226.8 78.6h.01M218.1 82.5h.01M221 82.3h.01M222.4 76.7h.01M215.3 92.3h.01M220.1 71.1h.01M220.2 77.4h.01M227.2 83.6h.01M232.6 80.3h.01M217.4 72.2h.01M218.5 73.2h.01M246.5 70.5h.01M227.6 72.6h.01M221.6 76.8h.01M218.2 71.6h.01M219.1 82.8h.01M215.7 85.6h.01M225.6 67.2h.01M215.3 78.9h.01M217.1 86.7h.01M223 69.7h.01M220.8 83.7h.01M226.4 70.7h.01M224.6 78.2h.01M218.8 82.9h.01M234 78.5h.01M222.1 80.5h.01M217.9 63.5h.01M229.9 70.1h.01M224.3 83.5h.01M221.6 76h.01M220.4 77.7h.01M214 80.2h.01M215.8 90.1h.01M226.9 86h.01M221.4 77.3h.01M223.2 78.7h.01M229 79.3h.01M218.7 74.3h.01M216.8 67h.01M215.8 80.6h.01M243.2 83.1h.01M235.7 76.4h.01M228.8 79.6h.01M222.3 82h.01M230.9 80.3h.01M228 84.6h.01M219 83.1h.01M240 72.8h.01M222.2 87.4h.01M229.7 76.9h.01M222 82.6h.01M216.5 73.6h.01M226.8 76.2h.01M218.6 89.1h.01M227 79.6h.01M219.2 78.2h.01M221.4 76h.01M224.3 78.5h.01M226.7 78.2h.01M233.6 78.4h.01M224.4 66.9h.01M226.3 83h.01M224.5 77.3h.01M217.8 83.5h.01M225.6 75.8h.01M221.6 76.7h.01M225.5 77.2h.01M219.3 84.9h.01M232.7 85.5h.01M218.6 86.1h.01M223.5 88.5h.01M226.3 74.4h.01M217.7 73.8h.01M219.6 74.3h.01M234.7 83h.01M221.4 81h.01M215.1 68.4h.01M219.5 77.7h.01M214.6 82.6h.01M216.2 81.9h.01M230.6 80.4h.01M226.1 81.9h.01M222.3 79.4h.01M220.9 88.5h.01M222.6 73.5h.01M226.1 78.4h.01M227.3 78.5h.01M223.6 74.8h.01M222.1 73.4h.01M216.4 80h.01M220.3 72.9h.01M220.8 69.7h.01M240.8 72.5h.01M228.8 67.7h.01M237.7 80.7h.01M226.2 71.6h.01M232.6 83h.01M227.4 76.6h.01M217.5 80h.01M214.7 79.3h.01M220.6 79.7h.01M220.8 80.3h.01M223.5 73.6h.01M217.9 72.7h.01M227.3 79.7h.01M220.8 77.1h.01M242.6 78h.01M232.8 88.4h.01M220.4 78.6h.01M224.7 79h.01M224.9 77.6h.01M218.9 75.2h.01M228.1 74.3h.01M221.7 78.5h.01M219.5 81.6h.01M226.2 80.7h.01M228.2 69.8h.01M222.5 90.7h.01M222.6 84.2h.01M231 77.3h.01M250.1 80.9h.01M215.8 80.5h.01M222.7 77.2h.01M222.4 76.5h.01M219.8 83.9h.01M215 86h.01M221.7 75.4h.01M216.4 81.9h.01M234.4 79.9h.01M214.7 87.7h.01M229.1 80.2h.01M223.4 70.3h.01M214.6 83.4h.01M221.8 83.3h.01M220.2 83.3h.01M216 73.7h.01M223.1 81.4h.01M218.8 79.7h.01M218 81h.01M228.6 73.7h.01M220.2 83.6h.01M217.2 79.8h.01M216.8 79.5h.01M235.6 77.4h.01M217.1 81.6h.01M222 68.7h.01M231.4 81.9h.01M240.9 62.9h.01M234.6 75.1h.01M214.7 79.3h.01M219.3 88h.01M221.3 73.2h.01M220 82.2h.01M216.6 81.4h.01M225.7 80.9h.01M225.5 67.4h.01M218.1 85.8h.01M221.1 73.3h.01M219.9 79.9h.01M230.9 71.7h.01M221.4 73.9h.01M218.2 83.8h.01M217.3 91.4h.01M222.4 74.7h.01M228.1 74.7h.01M215.7 72.3h.01M218.6 74.5h.01M217.3 88.9h.01M228.5 78.1h.01M218.4 91.4h.01M231.7 78.8h.01M223.2 80.3h.01M215.6 78.8h.01M236.5 76.9h.01M222.8 77.6h.01M223 67.5h.01M241.8 81.5h.01M218.5 86.4h.01M214.6 91.1h.01M239.7 77.2h.01M220.9 76.7h.01M215.4 73.8h.01M244 78.7h.01M221.3 78.4h.01M216.8 88.8h.01M235.4 81.3h.01M216.1 90.9h.01M222.1 71.8h.01M215.2 84.5h.01M222.6 78.8h.01M228.1 74.8h.01M229.8 79.4h.01M219.2 78.1h.01M235.1 73.2h.01M220.1 72.2h.01M234.5 81.4h.01M227.8 81.4h.01M223.7 86.8h.01M223.9 80.6h.01M217.7 71.7h.01M221.1 81.4h.01M231.5 69.9h.01M226.3 72.1h.01M228.9 78h.01M219.5 78.7h.01M218.8 80.2h.01M238.2 78.7h.01M216.7 79.8h.01M215 81.6h.01M222 87.8h.01M217.7 80.4h.01M228.8 86.8h.01M221.9 73.6h.01M223.4 88.9h.01M218.5 85.1h.01M226.9 77.2h.01M221.9 86.9h.01M215.3 81.4h.01M227.4 71.7h.01M219.2 87.2h.01M218.7 80h.01M226.7 83.4h.01M235.6 78.1h.01M214.1 87.3h.01M224.1 76.5h.01M216.9 92.3h.01M233.6 76.6h.01M223.9 82.2h.01M242.7 75.8h.01M222 84.1h.01M221.1 91h.01M230.4 87.9h.01M223.9 78.9h.01M214.4 81.3h.01M219.1 74.1h.01M221.4 86.2h.01M239.8 70.7h.01M219.5 79.3h.01M215.2 89.9h.01M217.1 67.1h.01M242.5 65.2h.01M214.1 79.9h.01M227.4 76h.01M239.5 80h.01M218.4 78.5h.01M221.8 78.4h.01M215.3 84.8h.01M231.6 74.8h.01M233 81.4h.01M218.2 68.7h.01M222.7 75h.01M235.5 75.4h.01M222.6 77.2h.01M228.9 72.2h.01M217.3 81.9h.01M220.4 80.1h.01M232 84.9h.01M218.4 87.9h.01M234.3 69.8h.01M220 78.8h.01M225.5 76.9h.01M219.2 73.8h.01M225.8 78.1h.01M228.6 83.2h.01M217.2 83.3h.01M220.5 77.5h.01M214.3 84.2h.01M214.6 86.8h.01M215.1 82.9h.01M216.2 89.6h.01M238.4 78.3h.01M214.8 79h.01M220.9 64.7h.01M214.2 71.9h.01M229.9 77h.01M223.5 82.6h.01M218.2 81.2h.01M214.5 79.7h.01M223.6 79.7h.01M228.8 69.7h.01M221.8 72.9h.01M221.5 78.5h.01M229.5 76.6h.01M215 79.5h.01M224.7 87.1h.01M216.4 82.5h.01M215.9 86.8h.01M223.1 76.8h.01M219.8 81.4h.01M222 71.9h.01M226.8 77h.01M222.5 85.8h.01M220 73.6h.01M225.3 70.9h.01M215.4 78.9h.01M223.2 76.9h.01M219.8 80.2h.01M220.9 78.7h.01M219.1 75.4h.01M215.8 81.2h.01M222 80.8h.01M217 81.5h.01M215.4 66.1h.01M227 72h.01M215.4 86h.01M234.7 74.6h.01M228.5 77.1h.01M217.9 81.9h.01M219.2 86.9h.01M227.4 71.8h.01M219.7 90.1h.01M224.1 82.3h.01M227.2 77.5h.01M226 69.2h.01M218.6 79.5h.01M226.6 74.1h.01M215.5 79.1h.01M223.1 70.8h.01M230.6 79.3h.01M222.5 80.6h.01M215.4 88.2h.01M232.2 74.3h.01M224.7 88.8h.01M230.8 79.3h.01M224.6 74.7h.01M221.6 84.1h.01M222.6 76.4h.01M217.6 71.3h.01M215.1 85.5h.01M222 84.5h.01M220.7 75h.01M216.7 73.3h.01M224.4 69.7h.01M219.1 75.1h.01M225.5 71.6h.01M215.5 82.3h.01M221.5 91.1h.01M216 71.3h.01M223.5 77.5h.01M218.6 82.1h.01M220.5 84.3h.01M230 72h.01M214.5 89h.01M233.6 86.6h.01M239.6 65.4h.01M230.6 76h.01M224.5 82.8h.01M214.1 80.8h.01M224.6 85.7h.01M216 83.4h.01M226.4 85.8h.01M227.7 78.3h.01M222.1 90h.01M219.7 92.5h.01M227.5 76.5h.01M223.4 85.2h.01M226 84.2h.01M232.8 76h.01M228.7 84.4h.01M218.5 84.7h.01M222.7 73.6h.01M232.2 80.8h.01M226.6 76.1h.01M218.2 81.6h.01M219.1 78.3h.01M228.4 76.8h.01M222.2 82h.01M218.7 69.4h.01M216.4 83.6h.01M218.1 83.1h.01M234.3 78.9h.01M227 83.9h.01M221.8 72.8h.01M228.2 78h.01M218.4 72h.01M223.1 83h.01M221.8 71.7h.01M226.7 83.8h.01M214.9 86.5h.01M229.7 81.4h.01M231.7 78.1h.01M230.2 68.7h.01M226.1 62.8h.01M220.1 79.7h.01M228.8 79.1h.01M216.9 79.3h.01M214.3 72.9h.01M214.9 80.5h.01M229.8 67.9h.01M231.2 77.2h.01M216.8 82.8h.01M214.1 81h.01M216.2 80.9h.01M223.4 72.1h.01M226.7 77.2h.01M222.6 73h.01M241 77.6h.01M217.1 84.6h.01M221.9 69.4h.01M236.6 75.9h.01M222.7 76h.01M220.4 72.4h.01M224.8 82.4h.01M228.2 74h.01M245.1 80h.01M225.1 78.1h.01M218.1 86.5h.01M223.2 82.4h.01M224.4 77.2h.01M216.8 79.4h.01M227.1 88.1h.01M230.6 72.9h.01M239.5 81.9h.01M216.5 81.4h.01M219.4 79.1h.01M236.3 75.7h.01M222.2 76.1h.01M217 86.7h.01M228.2 87.8h.01M217.7 79.9h.01M215.8 84.7h.01M223 77.5h.01M228.9 74h.01M231.8 69.3h.01M215 72.4h.01M219.1 81.5h.01M234 77.3h.01M228.6 75.9h.01M226.8 83h.01M227 74.9h.01M233.6 66.3h.01M229.7 76.7h.01M217.4 74.5h.01M243.1 73.9h.01M231.6 79.8h.01M230.4 74.1h.01M220.6 83.7h.01M225.4 87.6h.01M221.8 74.4h.01M219.9 89.9h.01M247.6 78.1h.01M240.7 76.3h.01M218.7 85.8h.01M220.4 85.1h.01M222.7 76.9h.01M220.1 79.9h.01M220.7 78.5h.01M221.9 72.8h.01M239 78.5h.01M226.4 73.1h.01M215.6 82.1h.01M216.7 80.4h.01M235.8 78.5h.01M218.7 72.7h.01M218.2 81.5h.01M214.2 85.4h.01M218.4 80.7h.01M217.9 79.1h.01M217 66.2h.01M219.5 89.1h.01M226.8 86.2h.01M227.5 79.3h.01M224.8 80.9h.01M219.5 73h.01M232.6 77.1h.01M225.5 72.2h.01M226.5 78.8h.01M222 90.4h.01M225.6 77.9h.01M231.7 69.1h.01M230.2 84.5h.01M226 77.5h.01M217.9 87h.01M218.8 78.2h.01M230.6 74.2h.01M216.4 88.2h.01M214.7 80.3h.01M222.7 81.4h.01M217.1 86.7h.01M225.4 75.9h.01M224.6 74.7h.01M214.2 83.1h.01M224.8 81h.01M228.6 65.2h.01M218.9 78.9h.01M224.2 79.3h.01M216.9 81.1h.01M221.7 80.3h.01M224.2 84.8h.01M219.2 78.1h.01M230.3 78.2h.01M219.3 84h.01M221.5 79.9h.01M218.6 83h.01M233 76.5h.01M217.2 78.4h.01M230.1 80.9h.01M223.2 79.9h.01M222.1 74.2h.01M226.8 69.3h.01M233.4 81h.01M220.9 75.8h.01M221.4 80.1h.01M245.4 80.5h.01M226.2 79.8h.01M214.1 88h.01M233.2 71.4h.01M230 80h.01M216.8 80h.01M230.9 81.8h.01M218.6 82.3h.01M221.9 75.8h.01M224.7 77.9h.01M218.8 82.2h.01M222.5 84.3h.01M221.7 78.7h.01M222.2 82.8h.01M216.4 69.1h.01M222 71.5h.01M218.3 80.8h.01M215.5 85h.01M228.2 72h.01M226 74.7h.01M226.2 80.5h.01M228.1 80h.01M223.7 74.7h.01M219.3 72h.01M229.4 75.3h.01M224 80.5h.01M224.4 93.3h.01M221.3 72.4h.01M215.5 82.2h.01M223 78.7h.01M219.2 87.2h.01M229.5 80h.01M228.1 79.2h.01M226.4 69.1h.01M217.6 81h.01M232.1 67.9h.01M236.8 78.5h.01M227.7 82.1h.01M225.4 69.4h.01M217.4 79.1h.01M216 82.7h.01M234.9 75.1h.01M225.1 90.8h.01M217.6 72.4h.01M224.6 70.6h.01M215.9 86.4h.01M214.6 72.4h.01M244.3 79.3h.01M220.4 80.1h.01M217.5 78.7h.01M223.2 67.5h.01M219.8 69.3h.01M214.9 92.4h.01M227.3 81.2h.01M229.6 78.6h.01M225.8 75.9h.01M217.8 81.1h.01M217.8 86.8h.01M231.4 83.9h.01M226.1 75.5h.01M223.4 84.6h.01M231.6 80.4h.01M218.7 80.4h.01M215.6 78.9h.01M220.4 78.1h.01M218.3 85.5h.01M221.9 78.6h.01M237.6 66.9h.01M222.6 85h.01M219.9 79.8h.01M217 79.9h.01M221 83.3h.01M220.1 92.5h.01M219.4 86.4h.01M223.3 77h.01M220.2 78.6h.01M215.5 83.7h.01M221.5 73.1h.01M229.6 80.9h.01M225.4 81h.01M230.3 76.3h.01M221.7 73.8h.01M220.1 77.2h.01M220.3 80.2h.01M221.4 84h.01M224.4 82.5h.01M226 74h.01M218.4 82.1h.01M214.8 69.5h.01M237.1 71.3h.01M217.5 79.5h.01M235.9 87.1h.01M217 70.3h.01M215.9 87h.01M222.4 75.2h.01M223.2 80.1h.01M242.9 75h.01M215 66.3h.01M228.5 84.3h.01M216.7 73h.01M234.7 66.3h.01M223.8 77h.01M222.8 77.7h.01M231.9 72.5h.01M218.1 78.7h.01M230.7 73h.01M222.6 90.1h.01M221.8 71.2h.01M220.1 81.9h.01M216.4 81.7h.01M220.5 80.5h.01M221.2 74.1h.01M223.1 89.3h.01M239.5 80.9h.01M234.7 79.3h.01M218.8 80.8h.01M219.4 71.7h.01M244.5 80.1h.01M222.8 74.9h.01M217 82.3h.01M228 72.3h.01M230.1 81.1h.01M228 75.3h.01M226.1 88h.01M220.6 77.8h.01M230.6 75.7h.01M226 70.2h.01M222.3 72.6h.01M221.8 75.6h.01M222 79.2h.01M225.3 73.3h.01M217 80.5h.01M219.3 83.1h.01M217.4 85.6h.01M224.8 77.4h.01M222.7 68.6h.01M217.1 81.4h.01M228.9 73h.01M219.3 75.3h.01M225 80.5h.01M223.4 83.5h.01M224.8 74.8h.01M236.2 77.3h.01M217.5 79.6h.01M221.4 78.4h.01M228.4 84.1h.01M225.5 75.5h.01M215 80.8h.01M219.5 72.4h.01M231 76.5h.01M227.5 73.1h.01M239.3 82.6h.01M225.9 78.2h.01M218 81.8h.01M218.6 86h.01M222.3 77.5h.01M219.9 93.6h.01M217.1 79.4h.01M232.8 82.1h.01M214.2 85.4h.01M214.5 84h.01M223.1 78.8h.01M218.8 78h.01M226.3 82.7h.01M225.3 86h.01M227.4 75.1h.01M214.6 93.4h.01M226.5 81.8h.01M230.5 74h.01M217 73.5h.01M223.9 82.5h.01M219.4 78.7h.01M228 74h.01M227.8 72.4h.01M224.3 74.1h.01M235.3 75h.01M229.8 80.2h.01M218.6 77.5h.01M227.4 68.8h.01M235.2 81.7h.01M224.3 69.6h.01M215.1 72.1h.01M229.9 62.5h.01M236.1 84.6h.01M226.4 87.3h.01M222.5 73.9h.01M221 81.6h.01M217.3 83.3h.01M228.1 82.5h.01M223.5 77.8h.01M214.6 83.6h.01M223.6 78.3h.01M229.6 75.3h.01M219.2 89.8h.01M221.7 79.8h.01M215.3 86.6h.01M228.3 75.3h.01M235.3 87.5h.01M217.3 73.6h.01M229.5 80.3h.01M220.3 79.1h.01M217.7 78.1h.01M223.5 70.7h.01M223.5 84.6h.01M223.4 79.8h.01M229.5 72.7h.01M221.2 79.6h.01M229.1 67.9h.01M226.4 82.9h.01M214.8 67.7h.01M232 78.2h.01M217.2 73.8h.01M238.1 67.3h.01M236.9 82.4h.01M218.6 82.9h.01M220.1 77.9h.01M219.7 78.2h.01M218.8 86.6h.01M221.2 65.3h.01M217.7 70.7h.01M216 81h.01M228.7 67.5h.01M226.9 72.3h.01M214.9 82h.01M223.5 76h.01M215.1 68.9h.01M231.1 78h.01M232.7 82.6h.01M224.2 75.9h.01M218.4 84h.01M217 78.9h.01M230.4 74.3h.01M233.4 79.7h.01M223.8 81.5h.01M228.3 81.3h.01M230.4 79.1h.01M215.5 79.5h.01M214.7 68h.01M217.1 82.7h.01M228.4 75.5h.01M220 82.8h.01M216.9 74.5h.01M217.2 83.3h.01M217.4 73h.01M241.7 69.2h.01M214.8 82.2h.01M218.1 80h.01M239 77.5h.01M214.4 70.9h.01M225.1 78.3h.01M215.6 73.6h.01M242.1 83.5h.01M228 72.1h.01M229.2 82.2h.01M225.3 69.8h.01M242.1 77h.01M222.4 79.8h.01M224.8 81.2h.01M221.2 73.4h.01M222.9 76.7h.01M223.6 64.6h.01M228.3 80h.01M231.9 82.6h.01M221.7 76.7h.01M245.4 83.3h.01M221.3 77.6h.01M216.8 80.7h.01M217.2 81.6h.01M223 82.2h.01M231.3 84.5h.01M217.1 93.7h.01M218.1 85.1h.01M219 81.1h.01M222.8 83h.01M233.5 76.1h.01M235.2 70.6h.01M250.7 72.1h.01M214.8 81.2h.01M218.1 86.2h.01M223.3 81.1h.01M230.7 77.1h.01M221.1 77.1h.01M228.2 76.5h.01M215.2 79.7h.01M222.4 84.4h.01M225.3 75.2h.01M217.1 88.7h.01M219.8 81.8h.01M224.8 74.6h.01M219.9 73.7h.01M219.3 79.4h.01M214.6 71.1h.01M219.4 74.6h.01M216.1 72h.01M221.7 74.7h.01M240.5 79.8h.01M215.6 79.6h.01M234.8 75h.01M219.9 75.2h.01M226.3 79.5h.01M223.4 69.2h.01M235.6 72.2h.01M227.2 80.2h.01M223 81.1h.01M221.4 81.6h.01M239.1 77.4h.01M216.4 83.9h.01M215.9 81.2h.01M218.4 67.2h.01M222.3 80.1h.01M226.5 69.7h.01M216.4 86h.01M219.6 74.8h.01M216 80h.01M220.1 89.4h.01M218.2 81.8h.01M215.7 81.7h.01M233.2 78.8h.01M227.3 84h.01M243.3 71.9h.01M230.4 75.4h.01M228.2 67.4h.01M221.3 77.5h.01M231.1 78.5h.01M220 80.1h.01M219.5 79.6h.01M220 85.2h.01M217.2 73.6h.01M217.7 74.8h.01M222.7 73h.01M227.5 77.3h.01M229.9 69h.01M222 87.9h.01M220.1 79.5h.01M220 68.2h.01M232.3 83.8h.01M226.1 71.4h.01M216.5 85.3h.01M228.2 82.1h.01M218.8 71.6h.01M219.7 82.8h.01M228.5 77.1h.01M227.8 67.6h.01M225.8 76h.01M228.5 78.7h.01M217.7 84.6h.01M217.1 86.3h.01M222.5 80.3h.01M222.3 76h.01M215.2 64.5h.01M231.8 81.6h.01M217.7 81.9h.01M220.5 73.2h.01M222.2 75.3h.01M215.1 81.9h.01M238.6 75.2h.01M223.1 81.1h.01M225 80.2h.01M231.6 90.6h.01M220.9 82.9h.01M222.2 81.4h.01M232.5 91.9h.01M221.7 80.5h.01M226.5 83.6h.01M223.3 74.4h.01M222.5 77.4h.01M214.5 80.6h.01M224.9 70.2h.01M228.3 82.9h.01M228.4 87.3h.01M214.9 79.7h.01M223.6 67.9h.01M224.6 68h.01M222.3 78.1h.01M231.9 64.7h.01M216.5 85.6h.01M231.4 72h.01M234.9 77.1h.01M231.6 74.8h.01M229.5 77.1h.01M219.7 78.4h.01M222.8 84.7h.01M216.5 73.7h.01M222 78.6h.01M230.1 82.9h.01M225.3 79.2h.01M216.4 80.8h.01M239.2 85.3h.01M218.1 73.2h.01M230.7 85.5h.01M227.6 77.5h.01M216.2 81.5h.01M225.2 76.5h.01M214.6 84.8h.01M214.9 83.1h.01M221.8 73.6h.01M218.8 87.8h.01M241.7 72.3h.01M214.5 85h.01M230.9 76.2h.01M236.9 84.6h.01M215.5 85.8h.01M223.6 75.9h.01M220.3 73.5h.01M225.8 73.1h.01M222.4 83.7h.01M215 82.7h.01M220.2 77.8h.01M227.2 77.3h.01M230.9 81h.01M242.8 76.5h.01M224.4 79h.01M219.8 83.8h.01M222.6 71.1h.01M218.6 84.2h.01M232.9 79.3h.01M223.4 82.1h.01M218.9 79.3h.01M228.1 88.1h.01M229.1 81.5h.01M221.7 79.9h.01M220.1 71.8h.01M229.4 76h.01M226.4 75.6h.01M223.1 72h.01M230.5 84.5h.01M223.4 72.6h.01M235.4 84.6h.01M223.8 76.5h.01M216.5 85h.01M228.3 66.9h.01M225 72.1h.01M219.8 71.9h.01M218.5 87.5h.01M221.6 79.9h.01M223.6 77.9h.01M216.5 88.5h.01M243 73.6h.01M231.1 81.3h.01M217.6 79.1h.01M219.2 71.4h.01M226 83.7h.01M215.8 82h.01M239.9 83.8h.01M226.3 72.3h.01M218.3 73.1h.01M216.1 86.2h.01M223 70.5h.01M222.7 75.7h.01M217.9 84.2h.01M224.2 82.6h.01M223.4 77.4h.01M229.4 77h.01M216.2 79.4h.01M223.5 86.9h.01M219.9 82h.01M234.4 76.7h.01M216.3 71h.01M236.8 82.8h.01M224.8 86.3h.01M215.8 81.7h.01M218.6 82.3h.01M218.1 70.3h.01M215.3 81.3h.01M217.6 87.4h.01M223.5 83.4h.01M218.6 80.9h.01M220.2 91.8h.01M226.6 80.9h.01M216.4 79.5h.01M224.7 77.5h.01M215 78.9h.01M218.7 87.4h.01M214 87.9h.01M214.2 86.6h.01M221.4 74.8h.01M227.1 81.1h.01M223.2 79.1h.01M220.6 79h.01M214.3 73.5h.01M216.7 79.1h.01M238.1 75.9h.01M216 82.2h.01M226.1 84.6h.01M218.2 78.4h.01M237 88.5h.01M221.4 77.1h.01M220 69.8h.01M223.3 75.3h.01M216.2 85.3h.01M215 92.1h.01M221.1 73.4h.01M223.4 73.3h.01M219.4 84.9h.01M220.6 80.4h.01M220 86.8h.01M234.5 76.9h.01M220.3 78.3h.01M218.8 74.1h.01M218.8 73.6h.01M216 81.6h.01M228.2 76.8h.01M220.4 69.6h.01M232.8 76.2h.01M214.5 81.8h.01M217.4 67.8h.01M240.2 82.6h.01M222.2 78.3h.01M217.3 86.2h.01M223.7 80.3h.01M223.8 66.6h.01M215.2 79.1h.01M219.9 82h.01M230.9 70.5h.01M226.4 80h.01M221.1 72.4h.01M229.2 76h.01M223.6 83.4h.01M218.7 89.2h.01M217.8 85.6h.01M250.9 86h.01M231.8 74.7h.01M226.7 79.5h.01M220.2 79.2h.01M226 82.7h.01M226.6 80.5h.01M232.5 77.9h.01M223.8 80.9h.01M225.9 78.3h.01M214.5 69.4h.01M221.7 72.6h.01M214.3 81h.01M214.5 71.4h.01M227.7 84h.01M222 69.2h.01M222.2 82.9h.01M223.3 83.1h.01M237.3 70.2h.01M219.9 78.9h.01M215 85.7h.01M230.1 79.6h.01M214.8 86.1h.01M223.3 77h.01M220.4 84.9h.01M215.4 66.5h.01M221.7 70.9h.01M231.8 75.6h.01M218.6 69.9h.01M223.4 77.6h.01M218.8 70.8h.01M223.9 69.4h.01M214 87.8h.01M222.5 80.1h.01M221 88.9h.01M232.5 76.5h.01M228.2 74.7h.01M230.8 88h.01M224.9 85.8h.01M221.5 78.1h.01M226.7 81h.01M228.1 71.9h.01M235.5 82.9h.01M219.9 75.2h.01M230.8 66h.01M229 77.3h.01M224.7 79.3h.01M225.2 80.1h.01M222.1 71h.01M217.4 84.4h.01M227.1 83.9h.01M222.2 78.9h.01M219.9 75.2h.01M221.6 79.3h.01M221.6 75.2h.01M214.3 90.4h.01M225 85.9h.01M223.5 83.8h.01M235.9 74.9h.01M223.5 75.8h.01M223.2 81.1h.01M214.5 70h.01M218.6 90.2h.01M238.8 78.5h.01M220.1 92.3h.01M221.4 71.8h.01M217.6 86.1h.01M233.5 82.4h.01M214.9 89.7h.01M226.2 70.9h.01M234.9 76.3h.01M219 73.8h.01M224.3 82.8h.01M230.4 76.3h.01M227.3 79.7h.01M214.8 85.5h.01M214.1 82h.01M215.6 79.9h.01M218 77.8h.01M220.5 83.7h.01M221.7 78h.01M216.6 71.2h.01M215.1 81h.01M231.1 76.9h.01M221.3 79.7h.01M230.2 70.5h.01M216.5 82.5h.01M221.9 76.9h.01M218.1 71.8h.01M228.7 78h.01M224.2 79h.01M218.2 74.3h.01M223.6 78.4h.01M215.8 86.4h.01M217.7 85.1h.01M218.5 73.8h.01M218.9 74.2h.01M221.4 86h.01M215.8 82.2h.01M221.1 73.8h.01M220.4 82.7h.01M223.1 86.9h.01M238.2 76.2h.01M224.1 85.9h.01M227.6 91.9h.01M216.2 86.2h.01M220.5 84.7h.01M223.9 76.1h.01M223 80.8h.01M228.6 84.3h.01M224.4 76.7h.01M226.6 83.3h.01M214.3 80.8h.01M221.2 82.1h.01M224.3 70.4h.01M226.9 70h.01M236.1 79.5h.01M228.3 85.5h.01M223.8 77h.01M237.2 86.2h.01M222.4 86.1h.01M214.8 80.8h.01M237.3 75.8h.01M226 86.7h.01M226.9 73.7h.01M218.4 80.1h.01M217.9 71.6h.01M220 73.3h.01M223.3 66.3h.01M227.8 69h.01M217 84.6h.01M237.4 80.7h.01M215.6 83.8h.01M215.6 67.2h.01M215.9 79.4h.01M231 82h.01M223 81.1h.01M221.5 83.5h.01M218.1 84.7h.01M231.6 85.6h.01M223.5 76.3h.01M217 80.5h.01M216.2 81.1h.01M229.9 80h.01M228.3 79.3h.01M225.9 70.2h.01M234.3 79.1h.01M214.4 82.5h.01M224.2 82.5h.01M219.2 78.7h.01M240.1 79.7h.01M221.4 85.7h.01M225.8 82.3h.01M232.4 74.9h.01M219.8 74.7h.01M230.1 72.9h.01M218.1 73.9h.01M225.3 75.1h.01M217.7 74.8h.01M226.8 78.5h.01M230.7 88.2h.01M214.2 80.2h.01M215.1 81.9h.01M217.6 74.8h.01M221.3 86.2h.01M235.6 64.6h.01M221.1 74.7h.01M222.5 77.2h.01M220.6 75.8h.01M228.5 71.5h.01M226.2 77.4h.01M224.4 79.8h.01M220 72.5h.01M232.4 72.8h.01M222.6 72.6h.01M220.8 81.1h.01M216.2 90.3h.01M220.2 84.2h.01M217.2 83h.01M216.9 85.7h.01M218.2 80.3h.01M215.1 85.2h.01M217.4 73.7h.01M215.5 82.7h.01M216.4 84.4h.01M228.8 86h.01M217.3 86.8h.01M215.3 81.4h.01M222.3 74.5h.01M223.7 76h.01M217 79h.01M222.1 79.6h.01M216.5 79.4h.01M216.3 85.6h.01M215.7 80.4h.01M227.6 82.9h.01M216.4 79.9h.01M223.5 82.3h.01M226.6 89.4h.01M225.2 84h.01M218 85.2h.01M218.4 81.5h.01M219 94.4h.01M216.4 87h.01M222.1 76.2h.01M223.3 76.2h.01M216.3 79.2h.01M219.2 75.1h.01M219.3 81.3h.01M224.2 79.3h.01M218.7 77.9h.01M219.3 80.4h.01M215.6 82.6h.01M219.1 85.5h.01M222.5 76h.01M223.7 86.1h.01M220.2 81.2h.01M217.1 87.1h.01M216.6 80h.01M221.3 70.3h.01M217.6 72.7h.01M215 80.5h.01M221.4 79.7h.01M217.6 82.8h.01M224 78.6h.01M221.6 79.3h.01M228 80.2h.01M216.9 90.1h.01M220.4 76.9h.01M223.4 71.1h.01M222.2 73.2h.01M217.5 69.6h.01M222.8 81h.01M216.5 83.5h.01M218.9 84.3h.01M218.2 72.5h.01M221.8 75.9h.01M219.5 80.4h.01M222.9 77.6h.01M215.8 80.4h.01M218.8 85.8h.01M223.5 82.2h.01M217.9 82.7h.01M216.8 72.5h.01M226.3 77.4h.01M218.8 80.6h.01M215.8 72.9h.01M217.8 89.9h.01M222.1 81.3h.01M216.5 84.1h.01M219.1 84.6h.01M215.3 73.6h.01M219.3 84.2h.01M221.1 70.3h.01M221.4 79.3h.01M216 86.9h.01M216.5 86.6h.01M220.2 75.2h.01M217.5 89.9h.01M218.4 89.6h.01M222.3 68.5h.01M226.6 79.7h.01M230.2 77h.01M220.9 81h.01M217.4 79.5h.01M217.3 85.1h.01M224.4 81.3h.01M221.6 71.7h.01M215.7 80.1h.01M215.3 79.2h.01M217 79.5h.01M216.1 70.9h.01M219.9 89.6h.01M221.9 75h.01M220.7 82.8h.01M215.9 79.7h.01M215.5 71.1h.01M217.4 83h.01M216.4 80.6h.01M217.2 73.9h.01M224 81.4h.01M221.3 87.2h.01M223.3 76.9h.01M216.1 78.6h.01M225.9 87.8h.01M227.2 76.9h.01M219.4 78.1h.01M224.1 77.3h.01M225.1 76.5h.01M228.4 77.8h.01M221 82.3h.01M222 80.8h.01M220 84.5h.01M215.3 87.5h.01M215.9 81.6h.01M219.4 91h.01M226.9 78h.01M216.8 74.4h.01M220.8 74.2h.01M223.6 78.3h.01M218.3 85.3h.01M219 84.7h.01M222.3 80.2h.01M220 83.8h.01M215.3 72.2h.01M218.5 78.6h.01M227.5 73.2h.01M227.3 78.4h.01M218.4 86.4h.01" stroke="#000" stroke-width="0.5" stroke-linecap="round" opacity="0.36" fill="none"/>
<path d="M205.9 90.3h.01M203.8 68h.01M207.2 89.4h.01M213.1 69.5h.01M207.3 70.2h.01M205.1 89.6h.01M211.9 80.9h.01M212.7 68.6h.01M206.4 69.4h.01M197.1 72.2h.01M209 68.8h.01M211.2 70.1h.01M209.2 87.3h.01M203.2 90.6h.01M191.4 81.3h.01M214.3 79.9h.01M192.1 83.3h.01M211.3 80.9h.01M193.3 83.6h.01M214.2 68.6h.01M201.1 70.7h.01M196.2 71h.01M198.9 70.6h.01M195 75.4h.01M210.7 83.9h.01M193.7 85h.01M192.2 76.7h.01M193.4 77.7h.01M215.9 77.4h.01M191.9 82.4h.01M214.2 68.8h.01M193.9 78.6h.01M208.3 86.6h.01M212.2 70.4h.01M208.3 87.6h.01M202.2 90.8h.01M193.3 86.7h.01M197.5 72h.01M201.8 90h.01M201.6 89.9h.01M211.9 81.8h.01M201.2 90.5h.01M198.4 89.2h.01M193.7 85.4h.01M212.6 79.9h.01M214 67.8h.01M205.9 91.8h.01M214.3 72.7h.01M208.6 88.7h.01M213.2 69.5h.01M199.4 71h.01M193.6 77.1h.01M195.7 87.7h.01M213.8 71.2h.01M215 69.8h.01M199.2 67.3h.01M205.9 70.3h.01M200.9 90.6h.01M196.6 87.5h.01M212.8 70.5h.01M207.5 89.6h.01M193.1 87.9h.01M192.9 80.5h.01M191.9 83.5h.01M193.3 82.3h.01M192.7 80.1h.01M196.4 74.4h.01M211.9 68.9h.01M213.4 69h.01M213.5 69.6h.01M199.9 71.2h.01M205 89.2h.01M213.4 76h.01M213.4 69.7h.01M197.6 70h.01M213.5 68.9h.01M214.1 82.2h.01M212.1 68.7h.01M213.1 75.3h.01M214.6 70.5h.01M213.5 68.2h.01M194.2 74.6h.01M192.9 87.5h.01M196.1 87.1h.01M208.1 69.6h.01M201.9 92.9h.01M211.2 68.2h.01M213.9 73.4h.01M193.9 77.9h.01M195 76h.01M212.3 75.4h.01M200.7 71.7h.01M213.8 70.2h.01M210.1 84.8h.01M209.9 68.6h.01M198.1 88.6h.01M192.8 79.1h.01M201 91.3h.01M202.6 90.2h.01M212.5 69.4h.01M203.5 71.2h.01M213.5 81.8h.01M201.5 91.1h.01M195.4 74.8h.01M193.8 81.7h.01M193.7 81h.01M204.6 91h.01M194.1 78.9h.01M194.2 84.8h.01M213.9 68.7h.01M212.9 84.2h.01M196.8 72.9h.01M192.5 87.6h.01M213.6 69.8h.01M194.1 85.4h.01M196.6 73h.01M192 83.3h.01M214.4 68.6h.01M213.8 70.6h.01M191.8 80.5h.01M214.8 68.2h.01M211.6 83.2h.01M213 69.1h.01M213.1 69.6h.01M210.2 88.5h.01M197.9 72.5h.01M191.6 80.4h.01M194.7 72.7h.01M192.3 77.7h.01M202.3 71h.01M216.1 68.5h.01M214 70h.01M203.1 89.9h.01M210.9 69.9h.01M214.2 73.1h.01M193.6 80.6h.01M213.7 72.4h.01M193.4 77.8h.01M212.8 72.3h.01M187.6 84.5h.01M214 81.3h.01M206.6 91.4h.01M208.8 70.3h.01M192.7 78.6h.01M195.4 85.4h.01M213.5 76.1h.01M210.3 68.9h.01M191.6 83.2h.01M196.7 70.5h.01M213.3 69.9h.01M200.1 89.3h.01M213.5 80.5h.01M215.8 68.6h.01M199.4 70.8h.01M209.6 84.4h.01M213.2 69.5h.01M199.7 70.6h.01M214.3 68.4h.01M215.3 72.9h.01M214.3 72.8h.01M193.7 80.2h.01M209.7 87.3h.01M201.7 91.4h.01M207.6 70.3h.01M192.6 82.6h.01M206.5 69.3h.01M192.7 82h.01M214.1 67.4h.01M213.6 69.6h.01M211.6 82.6h.01M206.5 69.5h.01M215.5 69.7h.01M213.4 72.2h.01M194.3 87.8h.01M215.9 67.5h.01M213.5 71.8h.01M215.1 80.1h.01M194.7 76.4h.01M202.5 92.2h.01M215.2 75.8h.01M207.9 87.9h.01M210 86.9h.01M213.6 72.6h.01M195.8 87.3h.01M193.4 79.2h.01M213.6 71.7h.01M215.2 71.2h.01M196.5 90.4h.01M214.9 67.3h.01M211.7 69.2h.01M191.9 80.3h.01M193.6 88.9h.01M208.7 87.6h.01M214.8 68.4h.01M203.1 91.2h.01M211.9 69h.01M204.5 90.1h.01M207.2 88.5h.01M205.1 91.6h.01M210.9 85.3h.01M198 90.5h.01M207 89.2h.01M214.4 69h.01M213.5 69.1h.01M210.2 69.2h.01M193.7 85.2h.01M214.2 71.5h.01M205.5 90.5h.01M197.8 72.9h.01M212.2 85.4h.01M210.1 88.4h.01M200.8 89.5h.01M199.5 91.5h.01M194.3 85.2h.01M213 69.3h.01M194.8 75h.01M191.1 81.9h.01M209.2 70.8h.01M201.5 90.8h.01M205.9 88.6h.01M213.2 72.3h.01M214.9 69.4h.01M210.9 86.3h.01M212.7 68.5h.01M208.6 69.2h.01M212.8 69.9h.01M192.7 82.3h.01M198.3 90.5h.01M204.1 90.3h.01M197.2 90.5h.01M207.4 88.4h.01M194.1 78.5h.01M198.5 68.6h.01M213 71.5h.01M207.1 69.5h.01M199.5 71.9h.01M195.4 72.3h.01M211.7 85.7h.01M193.5 86.6h.01M192.7 83.1h.01M193.8 86.1h.01M202.4 70.3h.01M193.1 74.4h.01M194.8 75.6h.01M194.8 73.5h.01M193.6 77.9h.01M195.7 73.9h.01M212.5 76.9h.01M208.2 70.2h.01M195.4 75.3h.01M207.4 70.3h.01M195.1 86.7h.01M209.7 69.7h.01M209.6 88.6h.01M192.8 87.5h.01M197.3 88.9h.01M194.4 83.3h.01M207.7 89.6h.01M200.9 90.2h.01M215.5 68.7h.01M194.8 90.2h.01M194.1 81.2h.01M215.1 74.5h.01M214 71.2h.01M214.5 73.9h.01M195 76.1h.01M199.7 67.1h.01M213.9 78h.01M195.4 71.6h.01M209.1 89.3h.01M211.3 69.3h.01M193.7 80.5h.01M199.6 72.6h.01M206.4 90.1h.01M198.8 89.5h.01M214.5 69h.01M213.4 86.2h.01M192 75.8h.01M202.7 70h.01M198 90.7h.01M202.9 93h.01M213.9 69.4h.01M193.5 84h.01M191.6 81.5h.01M198.2 91.1h.01M201.7 68.1h.01M193.2 83.7h.01M194.5 77.6h.01M194 72.9h.01M213.4 71.1h.01M210.5 69.4h.01M194.1 83.6h.01M196.6 92.2h.01M215 68.5h.01M212.8 79.1h.01M194.1 75.5h.01M215.4 72.5h.01M193.9 86.8h.01M201.4 89.9h.01M211.8 82.8h.01M193.8 76.9h.01M197.4 89.1h.01M214.2 76.7h.01M206 90.3h.01M193.5 79.5h.01M206.5 69.4h.01M189.4 84.7h.01M204.6 89.8h.01M214.2 80.8h.01M215 72.7h.01M212.5 81.1h.01M200.6 92.7h.01M192.6 82.7h.01M197.6 89.2h.01M198.4 90.1h.01M191.5 79.1h.01M207.4 69.5h.01M191.8 84.7h.01M207.3 91.2h.01M211 85.3h.01M211.7 84h.01M215.1 70.5h.01M194.6 73.8h.01M210.2 88.4h.01M211.7 84.4h.01M208.6 68.5h.01M208.1 68.3h.01M207.7 87.6h.01M212.2 77.3h.01M195.5 73.5h.01M199.5 72.3h.01M212.6 83h.01M195.3 87.5h.01M213.8 70.3h.01M196 75.3h.01M201.8 90.6h.01M196.2 87.7h.01M196 72.4h.01M203.1 91.1h.01M196.5 74.4h.01M203.8 89.6h.01M206.9 69.2h.01M214.3 69.1h.01M196.9 92.1h.01M204 89.1h.01M208.6 69.9h.01M213.2 74.3h.01M198.2 72.6h.01M195.4 87.9h.01M213.8 67.2h.01M213.2 74.6h.01M208.1 89.6h.01M194.7 91.9h.01M212.8 75.7h.01M209.5 70.1h.01M197.3 88.8h.01M214.3 68.6h.01M209.8 86.9h.01M207.6 88.1h.01M193.1 75.9h.01M213.9 68.7h.01M191.8 82h.01M211.6 83.4h.01M203.6 90.4h.01M197.9 91.2h.01M193.1 81.6h.01M213.5 74.5h.01M197 90.1h.01M206.4 88.7h.01M202.4 69.4h.01M193.8 78.7h.01M211 84.6h.01M213.5 70.3h.01M210 83.8h.01M195.1 87.5h.01M214.6 68.7h.01M205.3 69.5h.01M205.7 91.7h.01M214.8 68.6h.01M202.3 90.3h.01M213.4 73.8h.01M211.1 69.7h.01M200.4 91.3h.01M210.8 88.4h.01M194 83.6h.01M214.7 75.1h.01M204.7 68.2h.01M210.6 84.8h.01M200 89.9h.01M202.3 90.1h.01M192.5 85.7h.01M210.3 69.4h.01M192.1 78.9h.01M192.3 79.1h.01M202.3 91.7h.01M194.2 88.6h.01M208.1 67.8h.01M203.1 89.9h.01M195.1 89.4h.01M213.8 78h.01M203.5 69.7h.01M189.4 80.9h.01M208.9 69.7h.01M194.5 88.7h.01M202.6 92.6h.01M212.8 69.6h.01M213.2 68.7h.01M208.2 68.3h.01M199.7 71.7h.01M193.5 84.4h.01M193.2 85.5h.01M214.1 69.4h.01M214.1 68.2h.01M209.9 89.1h.01M208.6 88.5h.01M202.4 92.7h.01M194.2 76.3h.01M204.9 68.1h.01M203.6 69.7h.01M193.4 86.8h.01M201.7 70.9h.01M212.3 69.7h.01M197.5 89.3h.01M206.3 92.1h.01M197 88.9h.01M213 76.2h.01M197.3 91.5h.01M197.1 90.5h.01M210.6 82.8h.01M208.4 88.2h.01M213.3 70.1h.01M199.3 89.7h.01M200.1 89.7h.01M199 70.1h.01M189 88.2h.01M212.3 75.4h.01M199.1 89.9h.01M209.1 69.9h.01M213.9 71.2h.01M209.8 87.8h.01M192.5 79.5h.01M212.8 68.1h.01M191.9 78.5h.01M194.4 76.1h.01M200.9 89.3h.01M214.1 82.3h.01M215.1 74.5h.01M205 71h.01M194.9 87.1h.01M193.9 85h.01M200.5 90.8h.01M192 81.9h.01M192.1 76.9h.01M215.7 67.3h.01M208.1 69.3h.01M194.5 74.6h.01M213.9 69.3h.01M211.8 68.9h.01M195.1 73.4h.01M202 91h.01M199.4 68.4h.01M215.5 68.2h.01M192.2 84.6h.01M191.4 82.6h.01M201.5 90h.01M192.7 80.2h.01M214 79.5h.01M212.5 69.4h.01M198.9 91h.01M213.5 68.8h.01M204.5 91.5h.01M195.1 86.4h.01M202.1 91h.01M210.2 70.1h.01M215 69.2h.01M213.8 69.3h.01M199.7 90.3h.01M201.8 91.1h.01M211.6 83.6h.01M205 70.7h.01M191.7 86.5h.01M207.8 89.7h.01M192.5 75.7h.01M198.4 71.7h.01M199.6 72.2h.01M208.6 87.9h.01M212.6 85.8h.01M192.7 79.4h.01M193 82.9h.01M212.6 80.4h.01M212.7 68.6h.01M209.2 86.3h.01M213.1 79.8h.01M215.5 70.1h.01M194.2 89.2h.01M212.9 79.9h.01M206.8 89.5h.01M213.3 69.8h.01M203.7 71h.01M204.3 90.2h.01M209.4 68.3h.01M211.1 88.7h.01M213.9 71.1h.01M194.9 88.5h.01M193 79.4h.01M214.1 68.8h.01M192.8 75.8h.01M211.7 68.7h.01M191.9 86.9h.01M207.4 89.3h.01M208.7 69.1h.01M194.2 75.6h.01M203.2 70.1h.01M195.1 87.7h.01M191.9 83.1h.01M206.3 88.5h.01M207.8 88.7h.01M194.3 77.3h.01M194.8 73.7h.01M205.8 90.3h.01M200.7 69.1h.01M192.7 77.7h.01M194.3 87.5h.01M205.2 91.6h.01M208.2 87.1h.01M213.8 69h.01M202 71h.01M195.3 74.7h.01M212.7 71.5h.01M205 68.6h.01M192.4 81.7h.01M213.5 69h.01M214.1 69.7h.01M195.4 91.1h.01M204.3 70.1h.01M198 73.7h.01M214.5 76.1h.01M213.7 68.9h.01M192.9 82h.01M196.9 88.7h.01M202.2 71h.01M208.3 89.9h.01M194.1 77.6h.01M212.1 69h.01M212.6 84.2h.01M206 89.7h.01M212.8 77.2h.01M212.1 83.8h.01M206.6 90.6h.01M211 81h.01M200.9 89.9h.01M215.1 68.8h.01M195.6 88.2h.01M214.5 74.9h.01M212.4 78.7h.01M198.7 69.7h.01M195.1 72.8h.01M213.6 82h.01M192 81.5h.01M213.7 69.4h.01M208 69.5h.01M205.8 68.1h.01M213.2 73.2h.01M198.1 72.5h.01M208.6 87.9h.01M208.6 68h.01M193 78.8h.01M191.5 88.6h.01M199.5 71.6h.01M207.2 89h.01M215.2 69.8h.01M195.3 87.9h.01M194.5 90.1h.01M192.9 86.7h.01M195.1 72.3h.01M193.3 77.9h.01M198 73.2h.01M191.5 81.2h.01M213.7 69.7h.01M213.1 70h.01M214.1 74.7h.01M202.2 70.4h.01M205.7 70h.01M194.2 85.6h.01M212.3 81.4h.01M208.7 87.4h.01M193.2 80.7h.01M197.7 89.2h.01M201.9 70.2h.01M200.4 92.4h.01M192.4 78.4h.01M211.2 82.6h.01M195.2 73.4h.01M213.9 74.3h.01M205.7 88.8h.01M202.8 91.4h.01M214.5 72.5h.01M196.4 88.2h.01M191.5 81.8h.01M215 80.9h.01M201.3 91h.01M205.5 90.8h.01M191.3 83.8h.01M208 89.9h.01M214 69h.01M212 81.3h.01M212.2 78.2h.01M200.6 91h.01M194.7 86h.01M195.7 74.7h.01M193.9 89h.01M210.7 68.5h.01M197.8 89.9h.01M212.7 81.7h.01M190.6 80.2h.01M213.4 75.6h.01M213 71.2h.01M193.1 83.8h.01M208.7 88.6h.01M205.3 69.2h.01M206.7 90.2h.01M201.4 90.6h.01M203.3 70.9h.01M194.3 74.4h.01M214.2 72.5h.01M195.2 85.9h.01M199.5 92.7h.01M194.5 85.9h.01M190.6 87.3h.01M195 88.9h.01M213 69.5h.01M212.5 69.5h.01M213 69.3h.01M194.3 86.1h.01M198.6 71h.01M207.6 71h.01M194.2 76.2h.01M193.1 79h.01M193.5 73.9h.01M195.6 90h.01M195.6 87.2h.01M213.3 81.1h.01M198.5 88.5h.01M212.5 71.9h.01M212.6 69.7h.01M214.4 71.3h.01M191.4 79.1h.01M194.1 82.5h.01M201.2 91.1h.01M213 70.1h.01M197.4 71.8h.01M215.3 67.6h.01M207.7 68.3h.01M201.8 68.9h.01M196.8 90.4h.01M213 74.8h.01M201.8 69.9h.01M208.6 89.7h.01M194.1 85.1h.01M194.5 85.5h.01M194.6 88.3h.01M199.3 88.7h.01M213.4 77.6h.01M212.6 69.1h.01M191 80.2h.01M196.4 87.9h.01M215.2 70.4h.01M198.8 90.7h.01M189 77.3h.01M192.8 82.4h.01M195.5 87.5h.01M210.7 69.9h.01M215.3 77.9h.01M212.6 80.7h.01M214.5 71.4h.01M195 88.7h.01M193.3 81.7h.01M205.6 70.2h.01M195.8 87.4h.01M213.3 74h.01M198.1 88.1h.01M210.1 86.5h.01M210 69.7h.01M214.6 68.9h.01M213.6 69.2h.01M197.9 88.9h.01M193 79.6h.01M194.8 74.1h.01M193.7 85.4h.01M196 87.1h.01M197.8 90.9h.01M191.6 82.5h.01M197.4 90.3h.01M213.4 71.4h.01M193.6 80h.01M207.9 88.8h.01M213.1 69.6h.01M192.9 84.8h.01M209.3 87.6h.01M212 81.7h.01M195.6 87.3h.01M193.4 78.1h.01M213.4 79.8h.01M209.7 86.7h.01M195.6 73.3h.01M201.2 91.6h.01M209.8 69.5h.01M213.5 69.7h.01M214.6 70h.01M195.1 73.9h.01M195 74.5h.01M207.2 91.6h.01M207.3 90.4h.01M205.1 89.3h.01M194.8 88h.01M212.9 68.6h.01M194 86.1h.01M212.9 69.4h.01M214 73.2h.01M213.5 73.4h.01M209.6 86.9h.01M198.3 72.2h.01M196.9 88.8h.01M202.5 70.5h.01M211.5 67.7h.01M206.6 69.7h.01M212.9 82.1h.01M197.4 70.6h.01M191.1 77.5h.01M207.6 90h.01M210.8 68.6h.01M213.8 71.4h.01M211.7 83h.01M197.7 88.1h.01M193.7 78.2h.01M213.4 69.8h.01M192.9 85h.01M207.2 67.8h.01M210.7 85h.01M193.3 82.7h.01M216 68.2h.01M203.2 92.2h.01M199.8 72.6h.01M210 68.9h.01M193.9 84h.01M205.2 88.6h.01M213.8 69.3h.01M194.5 73.5h.01M194.7 86.2h.01M203.1 71.2h.01M192.4 85.7h.01M201.9 91.2h.01M193 80.1h.01M194 74.5h.01M197.5 71.1h.01M211.4 69.4h.01M196.8 89.1h.01M205.2 70.4h.01M197.4 72.2h.01M213 67.7h.01M214.2 71.9h.01M190.5 77.5h.01M210.8 87.1h.01M192.3 76.1h.01M198.8 92.5h.01M192 77.5h.01M193.7 79.8h.01M201.5 93.8h.01M193.2 80.3h.01M212.3 69.5h.01M196.9 88.5h.01M201.5 71.1h.01M205.1 90.8h.01M214.9 75.7h.01M211.8 80.1h.01M192.9 79.2h.01M198 89h.01M198.2 93.1h.01M203.7 69.6h.01M209.8 85.6h.01M192.4 86.1h.01M199.2 89.6h.01M214.2 68.2h.01M208.2 87.6h.01M211.9 81.6h.01M192.3 78h.01M213.3 69.4h.01M191.4 83.2h.01M196.5 74h.01M196.3 88.7h.01M195.4 73.2h.01M192.1 75.5h.01M207.2 68.7h.01M195.9 87.9h.01M192.9 82.1h.01M208.8 86.8h.01M205.2 89.8h.01M210.4 69.8h.01M212.9 80.9h.01M214.5 79.7h.01M214.6 74.3h.01M213.5 71.1h.01M196.7 73.4h.01M190.4 84.2h.01M213.2 68.8h.01M207.1 69.2h.01M192.8 74.8h.01M211.7 86.3h.01M204.6 68.4h.01M193.2 76.1h.01M209.7 87.3h.01M211.6 82.2h.01M199.7 71.6h.01M200 69.6h.01M194.2 74.5h.01M191.8 75h.01M194.8 75.7h.01M192.5 77.6h.01M191.6 77.2h.01M210.5 88.3h.01M213.4 69.6h.01M210 69.8h.01M194.9 72.5h.01M208.4 90.3h.01M194.2 87.5h.01M192.5 75.5h.01M200.1 89.7h.01M214 68.9h.01M199 69.4h.01M205.3 89.6h.01M211.4 83.6h.01M213.5 80.4h.01M214.3 72.9h.01M203.3 92.4h.01M191 81.6h.01M213.4 69.1h.01M199.5 91.5h.01M194.4 75h.01M206.6 88.9h.01M194.1 77h.01M197.2 88.4h.01M195.2 85.5h.01M208.3 88.9h.01M200.1 90.4h.01M213.4 77.8h.01M206.4 89.5h.01M194.6 87.8h.01M192.2 75.5h.01M209.2 89.7h.01M213.6 72h.01M195.6 88.2h.01M209.4 69.3h.01M190.9 85.7h.01M208.5 87.1h.01M214.4 69.1h.01M213 86.3h.01M204.3 89.8h.01M202.3 90.1h.01M194.4 76.7h.01M216.3 74.5h.01M213.2 81.4h.01M213.4 69.9h.01M202.1 92.5h.01M213.5 68.7h.01M201.1 92.3h.01M208.3 87.9h.01M191.1 76.9h.01M195.7 90.1h.01M214 69.5h.01M192.7 82.4h.01M211.8 68.6h.01M210.7 86.3h.01M211.6 69.1h.01M198.6 71.1h.01M209.5 68.6h.01M194 78.8h.01M210 85.2h.01M201.4 68h.01M198.4 89.1h.01M209.8 87.6h.01M215 68.6h.01M193.6 76.3h.01M195.2 73h.01M193.2 74.7h.01M194.7 76h.01M209.1 93.5h.01M206 89.6h.01M198.5 91.7h.01M216.1 71.3h.01M210.3 68.1h.01M194.8 75.4h.01M194 85.8h.01M195.6 74.8h.01M193.7 85.8h.01M194.9 75.2h.01M213.5 71.3h.01M194.1 86.1h.01M208.4 88.7h.01M213.7 74.8h.01M207.3 89.1h.01M213.2 73.2h.01M191.5 84.3h.01M208.2 88.4h.01M197.5 92.2h.01M204.2 70.5h.01M190.2 85.5h.01M195.8 91.2h.01M196.9 88h.01M213.2 70.8h.01M210.6 84.7h.01M198.3 71.9h.01M211.2 87.3h.01M202.7 89.8h.01M208.5 89.8h.01M195.4 87.1h.01M215.2 76.1h.01M214.4 77.9h.01M193 78.2h.01M201.9 91h.01M192 77h.01M213.6 71.4h.01M205.6 90.4h.01M214.5 72.2h.01M208.2 87.5h.01M204.4 90.3h.01M209.5 88.6h.01M196.7 89h.01M206.4 69.6h.01M197 90.2h.01M214.2 76.5h.01M207.7 88.9h.01M201.4 89.7h.01M214.5 75.3h.01M194.4 85.5h.01M213.5 72.4h.01M214.6 75.6h.01M213.2 69.5h.01M192.6 80.2h.01M196.3 88.1h.01M212.3 81.7h.01M207.3 69.6h.01M204.5 69.6h.01M194.9 73.4h.01M204 69.5h.01M195.3 87h.01M210.4 84.6h.01M213.8 73.9h.01M214 74.9h.01M195.6 87h.01M193 88.4h.01M192.4 83.4h.01M215.3 72.1h.01M213.7 69.4h.01M215.7 68.6h.01M198.6 90.2h.01M192.1 80.9h.01M212.8 81h.01M212.1 86.1h.01M213.1 68.2h.01M213.2 69.2h.01M195.8 88h.01M200.4 89.9h.01M197.1 90.8h.01M212.5 78.9h.01M211.8 87.9h.01M213.3 75.1h.01M213.2 67.7h.01M191.5 84.4h.01M200.7 89.6h.01M214.5 69.3h.01M202.4 90.5h.01M198.1 89.4h.01M213.3 69.3h.01M206.3 90.1h.01M198.8 88.8h.01M203.7 68.8h.01M208.4 88.6h.01M194.9 72.9h.01M195.4 89h.01M214.8 72.2h.01M193.2 78.5h.01M203.8 90.9h.01M214.6 69.3h.01M212.7 83.4h.01M192.6 74.6h.01M212.7 77.1h.01M212.6 69.4h.01M207 88.8h.01M197.7 89.7h.01M206.5 69h.01M208.8 88.6h.01M194.6 87.5h.01M211.9 69.6h.01M213.5 69.6h.01M194.4 87.4h.01M196.4 88.6h.01M207.4 88.9h.01M212.7 81.5h.01M196.2 71.4h.01M203.4 91.6h.01M195.2 89.8h.01M214.5 70.6h.01M191.1 79.5h.01M205.5 90.4h.01M193.6 77.5h.01M205.2 90.3h.01M195.7 87.9h.01M212.9 74.6h.01M214 72.1h.01M191.4 84.1h.01M193.7 87.3h.01M193.6 87.3h.01M194.3 87.4h.01M213.8 70.3h.01M196.7 88.6h.01M204.3 89.7h.01M207.5 69.7h.01M193.1 84.7h.01M213.1 69.3h.01M205.9 88.9h.01M207.8 70h.01M207.9 89.7h.01M193.3 80.9h.01M211.7 81.2h.01M204.6 69.9h.01M195.4 87.7h.01M210.7 69.6h.01M213.7 72.8h.01M208.3 87.6h.01M202.5 71.3h.01M201 70.3h.01M214.3 75h.01M195.9 86.4h.01M209.5 86.6h.01M192.7 79.1h.01M207.1 68.6h.01M211.6 82h.01M213.6 70.8h.01M213.6 82.8h.01M199.1 90.2h.01M214.7 72.2h.01M197.2 89.9h.01M198.6 70.9h.01M191.6 81.3h.01M196.3 86.8h.01M213.6 70.3h.01M213.9 76.2h.01M214.1 69.5h.01M208.7 89.1h.01M193.1 78.2h.01M197.7 90.4h.01M206.9 90.8h.01M212.3 83h.01M211.3 69.2h.01M198.1 89.1h.01M213.4 71.5h.01M212.3 79.8h.01M214.3 71.6h.01M198.2 73.6h.01M214.1 71.9h.01M213.8 71h.01M190.5 83.2h.01M210.4 68.4h.01M196 73.7h.01M212 69.1h.01M215.8 71.9h.01M193.4 84.8h.01M194.1 74.7h.01M213.9 74.1h.01M213.6 77h.01M197.8 90.9h.01M193.9 79.6h.01M194.1 86.1h.01M195.2 87.4h.01M204.2 89.8h.01M199.5 71.3h.01M194 79.5h.01M208.9 87.6h.01M194.3 85.2h.01M192.1 79.5h.01M194.7 77.5h.01M203.1 90.3h.01M199 89.6h.01M191.8 78.5h.01M194.7 86.5h.01M208.9 87h.01M206 89.9h.01M194.7 73.9h.01M209 69h.01M194.9 86.2h.01M213.3 70.2h.01M210.7 69.4h.01M209.4 87.1h.01M209.4 88.3h.01M191.6 84.5h.01M207.3 69.7h.01M213.5 77.7h.01M199.2 90.1h.01M200.2 71.8h.01M194.2 88h.01" stroke="#000" stroke-width="0.5" stroke-linecap="round" opacity="0.32" fill="none"/>
<path d="M213.35 69.85 L213.34 70.03 L213.33 70.56 L213.31 71.45 L213.28 72.66 L213.21 74.15 L213.06 75.86 L212.8 77.71 L212.4 79.65 L211.83 81.6 L211.07 83.5 L210.11 85.31 L208.96 86.96 L208.02 87.8 L206.99 88.5 L205.88 89.08 L204.72 89.51 L203.52 89.78 L202.3 89.9 L201.09 89.86 L199.9 89.66 L198.76 89.31 L197.69 88.8 L196.7 88.16 L195.81 87.39 L195.04 86.5 L194.4 85.51 L193.89 84.44 L193.54 83.3 L193.34 82.11 L193.3 80.9 L193.42 79.68 L193.69 78.48 L194.12 77.32 L194.7 76.21 L195.4 75.18 L196.24 74.24 L197.89 73.09 L199.7 72.13 L201.6 71.37 L203.55 70.8 L205.49 70.4 L207.34 70.14 L209.05 69.99 L210.54 69.92 L211.75 69.89 L212.64 69.87 L213.17 69.86 L213.35 69.85Z" fill="#a0a0a0"/>
<path d="M213.22 70.38 L213.2 70.53 L213.18 71 L213.14 71.77 L213.07 72.82 L212.96 74.1 L212.78 75.58 L212.5 77.19 L212.09 78.88 L211.54 80.58 L210.83 82.25 L209.95 83.84 L208.9 85.3 L208.15 85.97 L207.31 86.53 L206.42 86.98 L205.47 87.32 L204.49 87.52 L203.5 87.6 L202.51 87.55 L201.54 87.37 L200.6 87.06 L199.71 86.63 L198.89 86.09 L198.16 85.44 L197.51 84.71 L196.97 83.89 L196.54 83 L196.23 82.06 L196.05 81.09 L196 80.1 L196.08 79.11 L196.28 78.13 L196.62 77.18 L197.07 76.29 L197.63 75.45 L198.3 74.7 L199.76 73.65 L201.35 72.77 L203.02 72.06 L204.72 71.51 L206.41 71.1 L208.02 70.82 L209.5 70.64 L210.78 70.53 L211.83 70.46 L212.6 70.42 L213.07 70.4 L213.22 70.38Z" fill="none" stroke="#ddd" stroke-width="0.5"/>
<path d="M213.76 70.04 L213.74 70.19 L213.7 70.65 L213.63 71.4 L213.53 72.43 L213.38 73.7 L213.15 75.15 L212.82 76.74 L212.37 78.41 L211.77 80.1 L211.01 81.76 L210.09 83.35 L209.02 84.82 L208.33 85.42 L207.57 85.93 L206.74 86.33 L205.87 86.62 L204.97 86.8 L204.05 86.85 L203.13 86.78 L202.22 86.6 L201.35 86.29 L200.52 85.88 L199.75 85.36 L199.05 84.75 L198.44 84.05 L197.92 83.28 L197.51 82.45 L197.2 81.58 L197.02 80.67 L196.95 79.75 L197 78.83 L197.18 77.93 L197.47 77.06 L197.87 76.23 L198.38 75.47 L198.98 74.78 L200.45 73.71 L202.04 72.79 L203.7 72.03 L205.39 71.43 L207.06 70.98 L208.65 70.65 L210.1 70.42 L211.37 70.27 L212.4 70.17 L213.15 70.1 L213.61 70.06 L213.76 70.04Z" fill="#050505"/>
<path d="M210.91 73.19 L210.89 73.29 L210.85 73.58 L210.79 74.07 L210.7 74.74 L210.58 75.56 L210.4 76.5 L210.15 77.53 L209.82 78.61 L209.39 79.71 L208.86 80.8 L208.24 81.84 L207.51 82.81 L207.06 83.21 L206.56 83.55 L206.03 83.82 L205.47 84.02 L204.89 84.15 L204.3 84.2 L203.71 84.17 L203.14 84.07 L202.59 83.9 L202.06 83.65 L201.58 83.33 L201.15 82.95 L200.77 82.52 L200.45 82.04 L200.2 81.51 L200.03 80.96 L199.93 80.39 L199.9 79.8 L199.95 79.21 L200.08 78.63 L200.28 78.07 L200.55 77.54 L200.89 77.04 L201.29 76.59 L202.26 75.86 L203.3 75.24 L204.39 74.71 L205.49 74.28 L206.57 73.95 L207.6 73.7 L208.54 73.52 L209.36 73.4 L210.03 73.31 L210.52 73.25 L210.81 73.21 L210.91 73.19Z" fill="none" stroke="#666" stroke-width="0.4"/>
<path d="M205.1 79.1 l1.6 -1.6" stroke="#ddd" stroke-width="0.6"/>
</g>
<line x1="38.6" y1="40.4" x2="40.7" y2="40.4" stroke="#222" stroke-width="0.8" />
<line x1="38.6" y1="56.5" x2="40.7" y2="56.5" stroke="#222" stroke-width="0.8" />
<line x1="38.6" y1="74.2" x2="40.7" y2="74.2" stroke="#222" stroke-width="0.8" />
<line x1="38.6" y1="86" x2="40.7" y2="86" stroke="#222" stroke-width="0.8" />
<line x1="39.4" y1="33" x2="40.7" y2="33" stroke="#222" stroke-width="0.5" />
<line x1="39.4" y1="36" x2="40.7" y2="36" stroke="#222" stroke-width="0.5" />
<line x1="39.4" y1="38" x2="40.7" y2="38" stroke="#222" stroke-width="0.5" />
<line x1="39.4" y1="44" x2="40.7" y2="44" stroke="#222" stroke-width="0.5" />
<line x1="39.4" y1="47" x2="40.7" y2="47" stroke="#222" stroke-width="0.5" />
<line x1="39.4" y1="50" x2="40.7" y2="50" stroke="#222" stroke-width="0.5" />
<line x1="39.4" y1="53" x2="40.7" y2="53" stroke="#222" stroke-width="0.5" />
<line x1="39.4" y1="60" x2="40.7" y2="60" stroke="#222" stroke-width="0.5" />
<line x1="39.4" y1="63" x2="40.7" y2="63" stroke="#222" stroke-width="0.5" />
<line x1="39.4" y1="66" x2="40.7" y2="66" stroke="#222" stroke-width="0.5" />
<line x1="39.4" y1="69" x2="40.7" y2="69" stroke="#222" stroke-width="0.5" />
<line x1="39.4" y1="78" x2="40.7" y2="78" stroke="#222" stroke-width="0.5" />
<line x1="39.4" y1="81" x2="40.7" y2="81" stroke="#222" stroke-width="0.5" />
<line x1="39.4" y1="90" x2="40.7" y2="90" stroke="#222" stroke-width="0.5" />
<line x1="39.4" y1="93" x2="40.7" y2="93" stroke="#222" stroke-width="0.5" />
<line x1="51.9" y1="96.5" x2="51.9" y2="98.6" stroke="#222" stroke-width="0.8" />
<line x1="66" y1="96.5" x2="66" y2="98.6" stroke="#222" stroke-width="0.8" />
<line x1="82.7" y1="96.5" x2="82.7" y2="98.6" stroke="#222" stroke-width="0.8" />
<line x1="98" y1="96.5" x2="98" y2="98.6" stroke="#222" stroke-width="0.8" />
<line x1="43.2" y1="96.5" x2="43.2" y2="97.8" stroke="#222" stroke-width="0.5" />
<line x1="46.2" y1="96.5" x2="46.2" y2="97.8" stroke="#222" stroke-width="0.5" />
<line x1="56.2" y1="96.5" x2="56.2" y2="97.8" stroke="#222" stroke-width="0.5" />
<line x1="59.2" y1="96.5" x2="59.2" y2="97.8" stroke="#222" stroke-width="0.5" />
<line x1="62.2" y1="96.5" x2="62.2" y2="97.8" stroke="#222" stroke-width="0.5" />
<line x1="70.2" y1="96.5" x2="70.2" y2="97.8" stroke="#222" stroke-width="0.5" />
<line x1="73.2" y1="96.5" x2="73.2" y2="97.8" stroke="#222" stroke-width="0.5" />
<line x1="76.2" y1="96.5" x2="76.2" y2="97.8" stroke="#222" stroke-width="0.5" />
<line x1="79.2" y1="96.5" x2="79.2" y2="97.8" stroke="#222" stroke-width="0.5" />
<line x1="86.2" y1="96.5" x2="86.2" y2="97.8" stroke="#222" stroke-width="0.5" />
<line x1="89.2" y1="96.5" x2="89.2" y2="97.8" stroke="#222" stroke-width="0.5" />
<line x1="92.2" y1="96.5" x2="92.2" y2="97.8" stroke="#222" stroke-width="0.5" />
<line x1="95.2" y1="96.5" x2="95.2" y2="97.8" stroke="#222" stroke-width="0.5" />
<line x1="101.2" y1="96.5" x2="101.2" y2="97.8" stroke="#222" stroke-width="0.5" />
<line x1="104.2" y1="96.5" x2="104.2" y2="97.8" stroke="#222" stroke-width="0.5" />
<rect x="41.1" y="30.2" width="66.6" height="65.9" fill="none" stroke="#c8202f" stroke-width="1.8"/>
<text x="51.9" y="105" font-size="5.4" text-anchor="middle" fill="#333">0</text>
<text x="66" y="105" font-size="5.4" text-anchor="middle" fill="#333">10<tspan font-size="3.35" dy="-1.6">2</tspan></text>
<text x="82.7" y="105" font-size="5.4" text-anchor="middle" fill="#333">10<tspan font-size="3.35" dy="-1.6">3</tspan></text>
<text x="98" y="105" font-size="5.4" text-anchor="middle" fill="#333">10<tspan font-size="3.35" dy="-1.6">4</tspan></text>
<text x="73.4" y="115.2" font-size="9" text-anchor="middle" fill="#333" textLength="12.8" lengthAdjust="spacingAndGlyphs">ZsG</text>
<line x1="110.8" y1="40.4" x2="112.9" y2="40.4" stroke="#222" stroke-width="0.8" />
<line x1="110.8" y1="56.5" x2="112.9" y2="56.5" stroke="#222" stroke-width="0.8" />
<line x1="110.8" y1="74.2" x2="112.9" y2="74.2" stroke="#222" stroke-width="0.8" />
<line x1="110.8" y1="86" x2="112.9" y2="86" stroke="#222" stroke-width="0.8" />
<line x1="111.6" y1="33" x2="112.9" y2="33" stroke="#222" stroke-width="0.5" />
<line x1="111.6" y1="36" x2="112.9" y2="36" stroke="#222" stroke-width="0.5" />
<line x1="111.6" y1="38" x2="112.9" y2="38" stroke="#222" stroke-width="0.5" />
<line x1="111.6" y1="44" x2="112.9" y2="44" stroke="#222" stroke-width="0.5" />
<line x1="111.6" y1="47" x2="112.9" y2="47" stroke="#222" stroke-width="0.5" />
<line x1="111.6" y1="50" x2="112.9" y2="50" stroke="#222" stroke-width="0.5" />
<line x1="111.6" y1="53" x2="112.9" y2="53" stroke="#222" stroke-width="0.5" />
<line x1="111.6" y1="60" x2="112.9" y2="60" stroke="#222" stroke-width="0.5" />
<line x1="111.6" y1="63" x2="112.9" y2="63" stroke="#222" stroke-width="0.5" />
<line x1="111.6" y1="66" x2="112.9" y2="66" stroke="#222" stroke-width="0.5" />
<line x1="111.6" y1="69" x2="112.9" y2="69" stroke="#222" stroke-width="0.5" />
<line x1="111.6" y1="78" x2="112.9" y2="78" stroke="#222" stroke-width="0.5" />
<line x1="111.6" y1="81" x2="112.9" y2="81" stroke="#222" stroke-width="0.5" />
<line x1="111.6" y1="90" x2="112.9" y2="90" stroke="#222" stroke-width="0.5" />
<line x1="111.6" y1="93" x2="112.9" y2="93" stroke="#222" stroke-width="0.5" />
<line x1="124.1" y1="96.5" x2="124.1" y2="98.6" stroke="#222" stroke-width="0.8" />
<line x1="138.2" y1="96.5" x2="138.2" y2="98.6" stroke="#222" stroke-width="0.8" />
<line x1="154.9" y1="96.5" x2="154.9" y2="98.6" stroke="#222" stroke-width="0.8" />
<line x1="170.2" y1="96.5" x2="170.2" y2="98.6" stroke="#222" stroke-width="0.8" />
<line x1="115.4" y1="96.5" x2="115.4" y2="97.8" stroke="#222" stroke-width="0.5" />
<line x1="118.4" y1="96.5" x2="118.4" y2="97.8" stroke="#222" stroke-width="0.5" />
<line x1="128.4" y1="96.5" x2="128.4" y2="97.8" stroke="#222" stroke-width="0.5" />
<line x1="131.4" y1="96.5" x2="131.4" y2="97.8" stroke="#222" stroke-width="0.5" />
<line x1="134.4" y1="96.5" x2="134.4" y2="97.8" stroke="#222" stroke-width="0.5" />
<line x1="142.4" y1="96.5" x2="142.4" y2="97.8" stroke="#222" stroke-width="0.5" />
<line x1="145.4" y1="96.5" x2="145.4" y2="97.8" stroke="#222" stroke-width="0.5" />
<line x1="148.4" y1="96.5" x2="148.4" y2="97.8" stroke="#222" stroke-width="0.5" />
<line x1="151.4" y1="96.5" x2="151.4" y2="97.8" stroke="#222" stroke-width="0.5" />
<line x1="158.4" y1="96.5" x2="158.4" y2="97.8" stroke="#222" stroke-width="0.5" />
<line x1="161.4" y1="96.5" x2="161.4" y2="97.8" stroke="#222" stroke-width="0.5" />
<line x1="164.4" y1="96.5" x2="164.4" y2="97.8" stroke="#222" stroke-width="0.5" />
<line x1="167.4" y1="96.5" x2="167.4" y2="97.8" stroke="#222" stroke-width="0.5" />
<line x1="173.4" y1="96.5" x2="173.4" y2="97.8" stroke="#222" stroke-width="0.5" />
<line x1="176.4" y1="96.5" x2="176.4" y2="97.8" stroke="#222" stroke-width="0.5" />
<rect x="113.3" y="30.3" width="66.7" height="65.8" fill="none" stroke="#1f5a8e" stroke-width="1.8"/>
<text x="124.1" y="105" font-size="5.4" text-anchor="middle" fill="#333">0</text>
<text x="138.2" y="105" font-size="5.4" text-anchor="middle" fill="#333">10<tspan font-size="3.35" dy="-1.6">2</tspan></text>
<text x="154.9" y="105" font-size="5.4" text-anchor="middle" fill="#333">10<tspan font-size="3.35" dy="-1.6">3</tspan></text>
<text x="170.2" y="105" font-size="5.4" text-anchor="middle" fill="#333">10<tspan font-size="3.35" dy="-1.6">4</tspan></text>
<text x="145.65" y="115.2" font-size="9" text-anchor="middle" fill="#333" textLength="12.8" lengthAdjust="spacingAndGlyphs">ZsG</text>
<line x1="182.9" y1="40.4" x2="185" y2="40.4" stroke="#222" stroke-width="0.8" />
<line x1="182.9" y1="56.5" x2="185" y2="56.5" stroke="#222" stroke-width="0.8" />
<line x1="182.9" y1="74.2" x2="185" y2="74.2" stroke="#222" stroke-width="0.8" />
<line x1="182.9" y1="86" x2="185" y2="86" stroke="#222" stroke-width="0.8" />
<line x1="183.7" y1="33" x2="185" y2="33" stroke="#222" stroke-width="0.5" />
<line x1="183.7" y1="36" x2="185" y2="36" stroke="#222" stroke-width="0.5" />
<line x1="183.7" y1="38" x2="185" y2="38" stroke="#222" stroke-width="0.5" />
<line x1="183.7" y1="44" x2="185" y2="44" stroke="#222" stroke-width="0.5" />
<line x1="183.7" y1="47" x2="185" y2="47" stroke="#222" stroke-width="0.5" />
<line x1="183.7" y1="50" x2="185" y2="50" stroke="#222" stroke-width="0.5" />
<line x1="183.7" y1="53" x2="185" y2="53" stroke="#222" stroke-width="0.5" />
<line x1="183.7" y1="60" x2="185" y2="60" stroke="#222" stroke-width="0.5" />
<line x1="183.7" y1="63" x2="185" y2="63" stroke="#222" stroke-width="0.5" />
<line x1="183.7" y1="66" x2="185" y2="66" stroke="#222" stroke-width="0.5" />
<line x1="183.7" y1="69" x2="185" y2="69" stroke="#222" stroke-width="0.5" />
<line x1="183.7" y1="78" x2="185" y2="78" stroke="#222" stroke-width="0.5" />
<line x1="183.7" y1="81" x2="185" y2="81" stroke="#222" stroke-width="0.5" />
<line x1="183.7" y1="90" x2="185" y2="90" stroke="#222" stroke-width="0.5" />
<line x1="183.7" y1="93" x2="185" y2="93" stroke="#222" stroke-width="0.5" />
<line x1="196.2" y1="96.4" x2="196.2" y2="98.5" stroke="#222" stroke-width="0.8" />
<line x1="210.3" y1="96.4" x2="210.3" y2="98.5" stroke="#222" stroke-width="0.8" />
<line x1="227" y1="96.4" x2="227" y2="98.5" stroke="#222" stroke-width="0.8" />
<line x1="242.3" y1="96.4" x2="242.3" y2="98.5" stroke="#222" stroke-width="0.8" />
<line x1="187.5" y1="96.4" x2="187.5" y2="97.7" stroke="#222" stroke-width="0.5" />
<line x1="190.5" y1="96.4" x2="190.5" y2="97.7" stroke="#222" stroke-width="0.5" />
<line x1="200.5" y1="96.4" x2="200.5" y2="97.7" stroke="#222" stroke-width="0.5" />
<line x1="203.5" y1="96.4" x2="203.5" y2="97.7" stroke="#222" stroke-width="0.5" />
<line x1="206.5" y1="96.4" x2="206.5" y2="97.7" stroke="#222" stroke-width="0.5" />
<line x1="214.5" y1="96.4" x2="214.5" y2="97.7" stroke="#222" stroke-width="0.5" />
<line x1="217.5" y1="96.4" x2="217.5" y2="97.7" stroke="#222" stroke-width="0.5" />
<line x1="220.5" y1="96.4" x2="220.5" y2="97.7" stroke="#222" stroke-width="0.5" />
<line x1="223.5" y1="96.4" x2="223.5" y2="97.7" stroke="#222" stroke-width="0.5" />
<line x1="230.5" y1="96.4" x2="230.5" y2="97.7" stroke="#222" stroke-width="0.5" />
<line x1="233.5" y1="96.4" x2="233.5" y2="97.7" stroke="#222" stroke-width="0.5" />
<line x1="236.5" y1="96.4" x2="236.5" y2="97.7" stroke="#222" stroke-width="0.5" />
<line x1="239.5" y1="96.4" x2="239.5" y2="97.7" stroke="#222" stroke-width="0.5" />
<line x1="245.5" y1="96.4" x2="245.5" y2="97.7" stroke="#222" stroke-width="0.5" />
<line x1="248.5" y1="96.4" x2="248.5" y2="97.7" stroke="#222" stroke-width="0.5" />
<rect x="185.4" y="30.1" width="66.6" height="65.9" fill="none" stroke="#f7941d" stroke-width="1.8"/>
<text x="196.2" y="105" font-size="5.4" text-anchor="middle" fill="#333">0</text>
<text x="210.3" y="105" font-size="5.4" text-anchor="middle" fill="#333">10<tspan font-size="3.35" dy="-1.6">2</tspan></text>
<text x="227" y="105" font-size="5.4" text-anchor="middle" fill="#333">10<tspan font-size="3.35" dy="-1.6">3</tspan></text>
<text x="242.3" y="105" font-size="5.4" text-anchor="middle" fill="#333">10<tspan font-size="3.35" dy="-1.6">4</tspan></text>
<text x="217.7" y="115.2" font-size="9" text-anchor="middle" fill="#333" textLength="12.8" lengthAdjust="spacingAndGlyphs">ZsG</text>
<text x="37.8" y="42.3" font-size="5.6" text-anchor="end" fill="#333">10<tspan font-size="3.47" dy="-1.6">4</tspan></text>
<text x="37.8" y="58.4" font-size="5.6" text-anchor="end" fill="#333">10<tspan font-size="3.47" dy="-1.6">3</tspan></text>
<text x="37.8" y="76.1" font-size="5.6" text-anchor="end" fill="#333">10<tspan font-size="3.47" dy="-1.6">2</tspan></text>
<text x="37.4" y="88" font-size="5.6" text-anchor="end" fill="#333">0</text>
<text transform="translate(25.4 63.8) rotate(-90)" x="0" y="0" font-size="8.8" text-anchor="middle" fill="#444" textLength="10.2" lengthAdjust="spacingAndGlyphs">PE</text>
<path d="M63.2 96 L71.5 71 L89.6 53 L104.2 53 L104.2 96" fill="none" stroke="#354a68" stroke-width="1.4"/>
<path d="M135.4 96 L143.7 71 L161.8 53 L176.4 53 L176.4 96" fill="none" stroke="#354a68" stroke-width="1.4"/>
<text x="102.5" y="94.3" font-size="6.3" text-anchor="end" fill="#333" textLength="22" lengthAdjust="spacingAndGlyphs">0.027%</text>
<text x="174.6" y="94.3" font-size="6.3" text-anchor="end" fill="#333" textLength="18" lengthAdjust="spacingAndGlyphs">0.17%</text>
<path d="M188.3 67 L216.9 67 L216.2 71.2 L207.4 95.8 L188.3 95.8 Z" fill="none" stroke="#6a2d8c" stroke-width="1.4"/>
<path d="M207.2 95.8 L216 71.2 L233.6 52.9 L248.2 52.9 L248.2 95.8 L207.2 95.8" fill="none" stroke="#3cb44a" stroke-width="1.4"/>
<text x="189.6" y="64.2" font-size="6.3" fill="#6a2d8c" textLength="18.2" lengthAdjust="spacingAndGlyphs">96.1%</text>
<text x="248.6" y="50.2" font-size="6.3" text-anchor="end" fill="#3cb44a" textLength="17.5" lengthAdjust="spacingAndGlyphs">3.55%</text>
<text x="75.2" y="24.6" font-size="8" text-anchor="middle" fill="#333" textLength="37.5" lengthAdjust="spacingAndGlyphs">Untreated</text>
<text x="171.6" y="14.6" font-size="7.6" text-anchor="end" fill="#333" textLength="38.4" lengthAdjust="spacingAndGlyphs">sgAAVS1 /</text>
<text x="172.2" y="24.2" font-size="7.6" text-anchor="end" fill="#333" font-style="italic" textLength="54" lengthAdjust="spacingAndGlyphs">rAAV6 HLF-ZE</text>
<text x="244.2" y="14.6" font-size="7.6" text-anchor="end" fill="#333" textLength="28" lengthAdjust="spacingAndGlyphs">sgHLF /</text>
<text x="245.6" y="24.2" font-size="7.6" text-anchor="end" fill="#333" font-style="italic" textLength="53.3" lengthAdjust="spacingAndGlyphs">rAAV6 HLF-ZE</text>
<rect x="396.3" y="19.6" width="5.6" height="12.9" fill="#cf3b4f"/>
<rect x="347.3" y="34.2" width="54.6" height="13.3" fill="#3a6e9c"/>
<rect x="347.3" y="49.5" width="54.6" height="13.1" fill="#f6a545"/>
<rect x="347.3" y="65.2" width="52.3" height="13.3" fill="#6e4387"/>
<rect x="399.6" y="80.3" width="2.3" height="13.3" fill="#4cb55a"/>
<text x="344.8" y="27.6" font-size="5.6" text-anchor="end" fill="#333" textLength="25" lengthAdjust="spacingAndGlyphs">Untreated</text>
<text x="344.8" y="37.8" font-size="5.6" text-anchor="end" fill="#333" textLength="25.5" lengthAdjust="spacingAndGlyphs">sgAAVS1 /</text>
<text x="344.8" y="44.8" font-size="5.6" text-anchor="end" fill="#333" font-style="italic" textLength="34" lengthAdjust="spacingAndGlyphs">rAAV6 HLF-ZE</text>
<text x="326.6" y="59.3" font-size="9.2" fill="#222" textLength="18.2" lengthAdjust="spacingAndGlyphs">Total</text>
<text x="326.6" y="75.2" font-size="9.2" fill="#222" textLength="17.8" lengthAdjust="spacingAndGlyphs">ZsG<tspan font-size="5.7" dy="-3.31">−</tspan></text>
<text x="326.6" y="90.4" font-size="9.2" fill="#222" textLength="17.8" lengthAdjust="spacingAndGlyphs">ZsG<tspan font-size="5.7" dy="-3.31">+</tspan></text>
<line x1="323.2" y1="51.3" x2="323.2" y2="90.6" stroke="#666" stroke-width="1.1" />
<text transform="translate(313.4 54.2) rotate(-90)" x="0" y="0" font-size="5.9" text-anchor="end" fill="#333" textLength="19.6" lengthAdjust="spacingAndGlyphs">sgHLF /</text>
<text transform="translate(319.4 54.2) rotate(-90)" x="0" y="0" font-size="5.9" text-anchor="end" fill="#333" font-style="italic" textLength="35.8" lengthAdjust="spacingAndGlyphs">rAAV6 HLF-ZE</text>
<text x="370.8" y="28.4" font-size="6.6" text-anchor="middle" fill="#333">2.6*10<tspan font-size="4.2" dy="-2.2">4</tspan><tspan dy="2.2">c</tspan></text>
<text x="370.8" y="43.4" font-size="6.6" text-anchor="middle" fill="#fff">2.6*10<tspan font-size="4.2" dy="-2.2">5</tspan><tspan dy="2.2">c</tspan></text>
<text x="370.8" y="58.4" font-size="6.6" text-anchor="middle" fill="#333">2.6*10<tspan font-size="4.2" dy="-2.2">5</tspan><tspan dy="2.2">c</tspan></text>
<text x="370.8" y="74" font-size="6.6" text-anchor="middle" fill="#fff">2.5*10<tspan font-size="4.2" dy="-2.2">5</tspan><tspan dy="2.2">c</tspan></text>
<text x="371.2" y="89.4" font-size="6.6" text-anchor="middle" fill="#333">1*10<tspan font-size="4.2" dy="-2.2">4</tspan><tspan dy="2.2">c</tspan></text>
<line x1="404.2" y1="25.8" x2="418.5" y2="25.8" stroke="#333" stroke-width="0.7" />
<path d="M417.3 24.5 L420.6 25.8 L417.3 27.1 Z" fill="#333"/>
<g transform="translate(426 19.6)">
<path d="M2 10.3 C-3 10.6 -10 9.4 -11.6 11.2 C-12.6 12.8 -7.5 13.8 -5.2 15.8" fill="none" stroke="#d2b09a" stroke-width="1"/>
<path d="M1.2 11 C-0.2 5.5 3.5 0.2 10 0.3 C13.5 0.4 15.6 1.6 17 3 L21.8 7.2 C22.2 8 21.4 9 20.4 9.4 L17.6 10.3 L16.5 11.6 L3.5 11.9 Z" fill="#fbfbfb" stroke="#777" stroke-width="0.6"/>
<path d="M3 10.5 C2.5 7 4 5 6 4.5 C5 7 5 9 7 11 Z" fill="#e4e4e4"/>
<path d="M10 9 C12 7 14 8 15.5 10.5 L12 11.4 Z" fill="#e6e6e6"/>
<ellipse cx="14.6" cy="2.6" rx="1.5" ry="2.1" fill="#e6c0aa" stroke="#8a8a8a" stroke-width="0.4"/>
<circle cx="18.6" cy="5.4" r="0.75" fill="#333"/>
<circle cx="21.7" cy="7.8" r="0.45" fill="#caa"/>
<path d="M6 11.6 L8 12.1 M15 11.4 L17 11.9" stroke="#444" stroke-width="0.9"/>
</g>
<text x="451" y="30.4" font-size="6" fill="#444" textLength="12.6" lengthAdjust="spacingAndGlyphs">n = 4</text>
<line x1="404.2" y1="41" x2="418.5" y2="41" stroke="#333" stroke-width="0.7" />
<path d="M417.3 39.7 L420.6 41 L417.3 42.3 Z" fill="#333"/>
<g transform="translate(426 34.8)">
<path d="M2 10.3 C-3 10.6 -10 9.4 -11.6 11.2 C-12.6 12.8 -7.5 13.8 -5.2 15.8" fill="none" stroke="#d2b09a" stroke-width="1"/>
<path d="M1.2 11 C-0.2 5.5 3.5 0.2 10 0.3 C13.5 0.4 15.6 1.6 17 3 L21.8 7.2 C22.2 8 21.4 9 20.4 9.4 L17.6 10.3 L16.5 11.6 L3.5 11.9 Z" fill="#fbfbfb" stroke="#777" stroke-width="0.6"/>
<path d="M3 10.5 C2.5 7 4 5 6 4.5 C5 7 5 9 7 11 Z" fill="#e4e4e4"/>
<path d="M10 9 C12 7 14 8 15.5 10.5 L12 11.4 Z" fill="#e6e6e6"/>
<ellipse cx="14.6" cy="2.6" rx="1.5" ry="2.1" fill="#e6c0aa" stroke="#8a8a8a" stroke-width="0.4"/>
<circle cx="18.6" cy="5.4" r="0.75" fill="#333"/>
<circle cx="21.7" cy="7.8" r="0.45" fill="#caa"/>
<path d="M6 11.6 L8 12.1 M15 11.4 L17 11.9" stroke="#444" stroke-width="0.9"/>
</g>
<text x="451" y="45.6" font-size="6" fill="#444" textLength="12.6" lengthAdjust="spacingAndGlyphs">n = 3</text>
<line x1="404.2" y1="56.2" x2="418.5" y2="56.2" stroke="#333" stroke-width="0.7" />
<path d="M417.3 54.9 L420.6 56.2 L417.3 57.5 Z" fill="#333"/>
<g transform="translate(426 50)">
<path d="M2 10.3 C-3 10.6 -10 9.4 -11.6 11.2 C-12.6 12.8 -7.5 13.8 -5.2 15.8" fill="none" stroke="#d2b09a" stroke-width="1"/>
<path d="M1.2 11 C-0.2 5.5 3.5 0.2 10 0.3 C13.5 0.4 15.6 1.6 17 3 L21.8 7.2 C22.2 8 21.4 9 20.4 9.4 L17.6 10.3 L16.5 11.6 L3.5 11.9 Z" fill="#fbfbfb" stroke="#777" stroke-width="0.6"/>
<path d="M3 10.5 C2.5 7 4 5 6 4.5 C5 7 5 9 7 11 Z" fill="#e4e4e4"/>
<path d="M10 9 C12 7 14 8 15.5 10.5 L12 11.4 Z" fill="#e6e6e6"/>
<ellipse cx="14.6" cy="2.6" rx="1.5" ry="2.1" fill="#e6c0aa" stroke="#8a8a8a" stroke-width="0.4"/>
<circle cx="18.6" cy="5.4" r="0.75" fill="#333"/>
<circle cx="21.7" cy="7.8" r="0.45" fill="#caa"/>
<path d="M6 11.6 L8 12.1 M15 11.4 L17 11.9" stroke="#444" stroke-width="0.9"/>
</g>
<text x="451" y="60.8" font-size="6" fill="#444" textLength="12.6" lengthAdjust="spacingAndGlyphs">n = 7</text>
<line x1="404.2" y1="71.5" x2="418.5" y2="71.5" stroke="#333" stroke-width="0.7" />
<path d="M417.3 70.2 L420.6 71.5 L417.3 72.8 Z" fill="#333"/>
<g transform="translate(426 65.3)">
<path d="M2 10.3 C-3 10.6 -10 9.4 -11.6 11.2 C-12.6 12.8 -7.5 13.8 -5.2 15.8" fill="none" stroke="#d2b09a" stroke-width="1"/>
<path d="M1.2 11 C-0.2 5.5 3.5 0.2 10 0.3 C13.5 0.4 15.6 1.6 17 3 L21.8 7.2 C22.2 8 21.4 9 20.4 9.4 L17.6 10.3 L16.5 11.6 L3.5 11.9 Z" fill="#fbfbfb" stroke="#777" stroke-width="0.6"/>
<path d="M3 10.5 C2.5 7 4 5 6 4.5 C5 7 5 9 7 11 Z" fill="#e4e4e4"/>
<path d="M10 9 C12 7 14 8 15.5 10.5 L12 11.4 Z" fill="#e6e6e6"/>
<ellipse cx="14.6" cy="2.6" rx="1.5" ry="2.1" fill="#e6c0aa" stroke="#8a8a8a" stroke-width="0.4"/>
<circle cx="18.6" cy="5.4" r="0.75" fill="#333"/>
<circle cx="21.7" cy="7.8" r="0.45" fill="#caa"/>
<path d="M6 11.6 L8 12.1 M15 11.4 L17 11.9" stroke="#444" stroke-width="0.9"/>
</g>
<text x="451" y="76.1" font-size="6" fill="#444" textLength="12.6" lengthAdjust="spacingAndGlyphs">n = 8</text>
<line x1="404.2" y1="86.8" x2="418.5" y2="86.8" stroke="#333" stroke-width="0.7" />
<path d="M417.3 85.5 L420.6 86.8 L417.3 88.1 Z" fill="#333"/>
<g transform="translate(426 80.6)">
<path d="M2 10.3 C-3 10.6 -10 9.4 -11.6 11.2 C-12.6 12.8 -7.5 13.8 -5.2 15.8" fill="none" stroke="#d2b09a" stroke-width="1"/>
<path d="M1.2 11 C-0.2 5.5 3.5 0.2 10 0.3 C13.5 0.4 15.6 1.6 17 3 L21.8 7.2 C22.2 8 21.4 9 20.4 9.4 L17.6 10.3 L16.5 11.6 L3.5 11.9 Z" fill="#fbfbfb" stroke="#777" stroke-width="0.6"/>
<path d="M3 10.5 C2.5 7 4 5 6 4.5 C5 7 5 9 7 11 Z" fill="#e4e4e4"/>
<path d="M10 9 C12 7 14 8 15.5 10.5 L12 11.4 Z" fill="#e6e6e6"/>
<ellipse cx="14.6" cy="2.6" rx="1.5" ry="2.1" fill="#e6c0aa" stroke="#8a8a8a" stroke-width="0.4"/>
<circle cx="18.6" cy="5.4" r="0.75" fill="#333"/>
<circle cx="21.7" cy="7.8" r="0.45" fill="#caa"/>
<path d="M6 11.6 L8 12.1 M15 11.4 L17 11.9" stroke="#444" stroke-width="0.9"/>
</g>
<text x="451" y="91.4" font-size="6" fill="#444" textLength="12.6" lengthAdjust="spacingAndGlyphs">n = 8</text>
<rect x="35.3" y="163.72" width="5.3" height="42.27" fill="#c8202f" stroke="#555" stroke-width="0.4"/>
<rect x="41" y="189.98" width="5.3" height="16.02" fill="#c8202f" stroke="#555" stroke-width="0.4"/>
<rect x="46.7" y="171.74" width="5.3" height="34.27" fill="#c8202f" stroke="#555" stroke-width="0.4"/>
<rect x="52.4" y="183.75" width="5.3" height="22.25" fill="#c8202f" stroke="#555" stroke-width="0.4"/>
<rect x="34.6" y="160.5" width="23.8" height="47.7" fill="none" stroke="#333" stroke-width="1"/>
<rect x="62.4" y="162.84" width="5.17" height="43.16" fill="#0f5189" stroke="#555" stroke-width="0.4"/>
<rect x="67.97" y="176.63" width="5.17" height="29.37" fill="#0f5189" stroke="#555" stroke-width="0.4"/>
<rect x="73.53" y="197.99" width="5.17" height="8.01" fill="#0f5189" stroke="#555" stroke-width="0.4"/>
<rect x="61.7" y="160.5" width="17.7" height="47.7" fill="none" stroke="#333" stroke-width="1"/>
<rect x="83.3" y="165.5" width="5.44" height="40.5" fill="#f7941d" stroke="#555" stroke-width="0.4"/>
<rect x="89.14" y="175.3" width="5.44" height="30.7" fill="#f7941d" stroke="#555" stroke-width="0.4"/>
<rect x="94.99" y="198.88" width="5.44" height="7.12" fill="#f7941d" stroke="#555" stroke-width="0.4"/>
<rect x="100.83" y="180.63" width="5.44" height="25.36" fill="#f7941d" stroke="#555" stroke-width="0.4"/>
<rect x="106.67" y="182.86" width="5.44" height="23.14" fill="#f7941d" stroke="#555" stroke-width="0.4"/>
<rect x="112.51" y="184.64" width="5.44" height="21.36" fill="#f7941d" stroke="#555" stroke-width="0.4"/>
<rect x="118.36" y="195.32" width="5.44" height="10.68" fill="#f7941d" stroke="#555" stroke-width="0.4"/>
<rect x="82.6" y="160.5" width="41.9" height="47.7" fill="none" stroke="#333" stroke-width="1"/>
<rect x="127.8" y="170.84" width="5.39" height="35.16" fill="#5e246c" stroke="#555" stroke-width="0.4"/>
<rect x="133.59" y="171.74" width="5.39" height="34.27" fill="#5e246c" stroke="#555" stroke-width="0.4"/>
<rect x="139.38" y="172.18" width="5.39" height="33.82" fill="#5e246c" stroke="#555" stroke-width="0.4"/>
<rect x="145.16" y="200.22" width="5.39" height="5.79" fill="#5e246c" stroke="#555" stroke-width="0.4"/>
<rect x="150.95" y="180.19" width="5.39" height="25.81" fill="#5e246c" stroke="#555" stroke-width="0.4"/>
<rect x="156.74" y="201.55" width="5.39" height="4.45" fill="#5e246c" stroke="#555" stroke-width="0.4"/>
<rect x="162.52" y="203.78" width="5.39" height="2.23" fill="#5e246c" stroke="#555" stroke-width="0.4"/>
<rect x="168.31" y="187.75" width="5.39" height="18.24" fill="#5e246c" stroke="#555" stroke-width="0.4"/>
<rect x="127.1" y="160.5" width="47.3" height="47.7" fill="none" stroke="#333" stroke-width="1"/>
<rect x="178.2" y="196.21" width="5.39" height="9.79" fill="#3cb54a" stroke="#555" stroke-width="0.4"/>
<rect x="183.99" y="193.09" width="5.39" height="12.9" fill="#3cb54a" stroke="#555" stroke-width="0.4"/>
<rect x="189.77" y="170.84" width="5.39" height="35.16" fill="#3cb54a" stroke="#555" stroke-width="0.4"/>
<rect x="195.56" y="182.86" width="5.39" height="23.14" fill="#3cb54a" stroke="#555" stroke-width="0.4"/>
<rect x="201.35" y="185.97" width="5.39" height="20.03" fill="#3cb54a" stroke="#555" stroke-width="0.4"/>
<rect x="207.14" y="188.65" width="5.39" height="17.36" fill="#3cb54a" stroke="#555" stroke-width="0.4"/>
<rect x="212.93" y="193.99" width="5.39" height="12.02" fill="#3cb54a" stroke="#555" stroke-width="0.4"/>
<rect x="218.71" y="200.22" width="5.39" height="5.79" fill="#3cb54a" stroke="#555" stroke-width="0.4"/>
<rect x="177.5" y="160.5" width="47.3" height="47.7" fill="none" stroke="#333" stroke-width="1"/>
<line x1="31.6" y1="161.5" x2="34" y2="161.5" stroke="#333" stroke-width="0.5" />
<text x="31" y="163.2" font-size="4.8" text-anchor="end" fill="#444" textLength="11.8" lengthAdjust="spacingAndGlyphs">100%</text>
<line x1="31.6" y1="172.62" x2="34" y2="172.62" stroke="#333" stroke-width="0.5" />
<text x="31" y="174.32" font-size="4.8" text-anchor="end" fill="#444" textLength="9" lengthAdjust="spacingAndGlyphs">75%</text>
<line x1="31.6" y1="183.75" x2="34" y2="183.75" stroke="#333" stroke-width="0.5" />
<text x="31" y="185.45" font-size="4.8" text-anchor="end" fill="#444" textLength="9" lengthAdjust="spacingAndGlyphs">50%</text>
<line x1="31.6" y1="194.88" x2="34" y2="194.88" stroke="#333" stroke-width="0.5" />
<text x="31" y="196.57" font-size="4.8" text-anchor="end" fill="#444" textLength="9" lengthAdjust="spacingAndGlyphs">25%</text>
<line x1="31.6" y1="206" x2="34" y2="206" stroke="#333" stroke-width="0.5" />
<text x="31" y="207.7" font-size="4.8" text-anchor="end" fill="#444" textLength="6.2" lengthAdjust="spacingAndGlyphs">0%</text>
<rect x="35.3" y="242.67" width="5.3" height="15.13" fill="#c8202f" stroke="#555" stroke-width="0.4"/>
<rect x="41" y="223.54" width="5.3" height="34.27" fill="#c8202f" stroke="#555" stroke-width="0.4"/>
<rect x="46.7" y="256.02" width="5.3" height="1.78" fill="#c8202f" stroke="#555" stroke-width="0.4"/>
<rect x="52.4" y="234.66" width="5.3" height="23.14" fill="#c8202f" stroke="#555" stroke-width="0.4"/>
<rect x="34.6" y="212.6" width="23.8" height="47.4" fill="none" stroke="#333" stroke-width="1"/>
<rect x="62.4" y="240" width="5.17" height="17.8" fill="#0f5189" stroke="#555" stroke-width="0.4"/>
<rect x="67.97" y="253.35" width="5.17" height="4.45" fill="#0f5189" stroke="#555" stroke-width="0.4"/>
<rect x="73.53" y="252.46" width="5.17" height="5.34" fill="#0f5189" stroke="#555" stroke-width="0.4"/>
<rect x="61.7" y="212.6" width="17.7" height="47.4" fill="none" stroke="#333" stroke-width="1"/>
<rect x="83.3" y="249.34" width="5.44" height="8.46" fill="#f7941d" stroke="#555" stroke-width="0.4"/>
<rect x="89.14" y="223.09" width="5.44" height="34.71" fill="#f7941d" stroke="#555" stroke-width="0.4"/>
<rect x="94.99" y="227.99" width="5.44" height="29.82" fill="#f7941d" stroke="#555" stroke-width="0.4"/>
<rect x="100.83" y="251.57" width="5.44" height="6.23" fill="#f7941d" stroke="#555" stroke-width="0.4"/>
<rect x="106.67" y="254.69" width="5.44" height="3.12" fill="#f7941d" stroke="#555" stroke-width="0.4"/>
<rect x="112.51" y="255.13" width="5.44" height="2.67" fill="#f7941d" stroke="#555" stroke-width="0.4"/>
<rect x="118.36" y="245.79" width="5.44" height="12.02" fill="#f7941d" stroke="#555" stroke-width="0.4"/>
<rect x="82.6" y="212.6" width="41.9" height="47.4" fill="none" stroke="#c8c8c8" stroke-width="1"/>
<rect x="83.1" y="258.3" width="40.9" height="1.5" fill="#e2e2e2"/>
<rect x="127.8" y="238.22" width="5.39" height="19.58" fill="#5e246c" stroke="#555" stroke-width="0.4"/>
<rect x="133.59" y="223.54" width="5.39" height="34.27" fill="#5e246c" stroke="#555" stroke-width="0.4"/>
<rect x="139.38" y="246.23" width="5.39" height="11.57" fill="#5e246c" stroke="#555" stroke-width="0.4"/>
<rect x="145.16" y="227.54" width="5.39" height="30.26" fill="#5e246c" stroke="#555" stroke-width="0.4"/>
<rect x="150.95" y="252.91" width="5.39" height="4.9" fill="#5e246c" stroke="#555" stroke-width="0.4"/>
<rect x="156.74" y="233.33" width="5.39" height="24.48" fill="#5e246c" stroke="#555" stroke-width="0.4"/>
<rect x="162.52" y="248.01" width="5.39" height="9.79" fill="#5e246c" stroke="#555" stroke-width="0.4"/>
<rect x="168.31" y="240.89" width="5.39" height="16.91" fill="#5e246c" stroke="#555" stroke-width="0.4"/>
<rect x="127.1" y="212.6" width="47.3" height="47.4" fill="none" stroke="#333" stroke-width="1"/>
<rect x="178.2" y="220.87" width="5.39" height="36.93" fill="#3cb54a" stroke="#555" stroke-width="0.4"/>
<rect x="183.99" y="221.31" width="5.39" height="36.49" fill="#3cb54a" stroke="#555" stroke-width="0.4"/>
<rect x="189.77" y="255.58" width="5.39" height="2.23" fill="#3cb54a" stroke="#555" stroke-width="0.4"/>
<rect x="195.56" y="241.78" width="5.39" height="16.02" fill="#3cb54a" stroke="#555" stroke-width="0.4"/>
<rect x="201.35" y="256.91" width="5.39" height="0.89" fill="#3cb54a" stroke="#555" stroke-width="0.4"/>
<rect x="207.14" y="255.58" width="5.39" height="2.23" fill="#3cb54a" stroke="#555" stroke-width="0.4"/>
<rect x="212.93" y="246.68" width="5.39" height="11.12" fill="#3cb54a" stroke="#555" stroke-width="0.4"/>
<rect x="218.71" y="253.35" width="5.39" height="4.45" fill="#3cb54a" stroke="#555" stroke-width="0.4"/>
<rect x="177.5" y="212.6" width="47.3" height="47.4" fill="none" stroke="#333" stroke-width="1"/>
<line x1="31.6" y1="213.3" x2="34" y2="213.3" stroke="#333" stroke-width="0.5" />
<text x="31" y="215" font-size="4.8" text-anchor="end" fill="#444" textLength="11.8" lengthAdjust="spacingAndGlyphs">100%</text>
<line x1="31.6" y1="224.43" x2="34" y2="224.43" stroke="#333" stroke-width="0.5" />
<text x="31" y="226.12" font-size="4.8" text-anchor="end" fill="#444" textLength="9" lengthAdjust="spacingAndGlyphs">75%</text>
<line x1="31.6" y1="235.55" x2="34" y2="235.55" stroke="#333" stroke-width="0.5" />
<text x="31" y="237.25" font-size="4.8" text-anchor="end" fill="#444" textLength="9" lengthAdjust="spacingAndGlyphs">50%</text>
<line x1="31.6" y1="246.68" x2="34" y2="246.68" stroke="#333" stroke-width="0.5" />
<text x="31" y="248.38" font-size="4.8" text-anchor="end" fill="#444" textLength="9" lengthAdjust="spacingAndGlyphs">25%</text>
<line x1="31.6" y1="257.8" x2="34" y2="257.8" stroke="#333" stroke-width="0.5" />
<text x="31" y="259.5" font-size="4.8" text-anchor="end" fill="#444" textLength="6.2" lengthAdjust="spacingAndGlyphs">0%</text>
<rect x="35.3" y="293.87" width="5.3" height="15.13" fill="#c8202f" stroke="#555" stroke-width="0.4"/>
<rect x="41" y="296.54" width="5.3" height="12.46" fill="#c8202f" stroke="#555" stroke-width="0.4"/>
<rect x="46.7" y="307.22" width="5.3" height="1.78" fill="#c8202f" stroke="#555" stroke-width="0.4"/>
<rect x="52.4" y="289.42" width="5.3" height="19.58" fill="#c8202f" stroke="#555" stroke-width="0.4"/>
<rect x="34.6" y="263.6" width="23.8" height="47.6" fill="none" stroke="#333" stroke-width="1"/>
<rect x="62.4" y="297.88" width="5.17" height="11.12" fill="#0f5189" stroke="#555" stroke-width="0.4"/>
<rect x="73.53" y="303.21" width="5.17" height="5.79" fill="#0f5189" stroke="#555" stroke-width="0.4"/>
<rect x="61.7" y="263.6" width="17.7" height="47.6" fill="none" stroke="#333" stroke-width="1"/>
<rect x="83.3" y="298.32" width="5.44" height="10.68" fill="#f7941d" stroke="#555" stroke-width="0.4"/>
<rect x="89.14" y="300.1" width="5.44" height="8.9" fill="#f7941d" stroke="#555" stroke-width="0.4"/>
<rect x="94.99" y="281.41" width="5.44" height="27.59" fill="#f7941d" stroke="#555" stroke-width="0.4"/>
<rect x="100.83" y="300.99" width="5.44" height="8.01" fill="#f7941d" stroke="#555" stroke-width="0.4"/>
<rect x="106.67" y="299.21" width="5.44" height="9.79" fill="#f7941d" stroke="#555" stroke-width="0.4"/>
<rect x="112.51" y="305.44" width="5.44" height="3.56" fill="#f7941d" stroke="#555" stroke-width="0.4"/>
<rect x="118.36" y="301.44" width="5.44" height="7.57" fill="#f7941d" stroke="#555" stroke-width="0.4"/>
<rect x="82.6" y="263.6" width="41.9" height="47.6" fill="none" stroke="#333" stroke-width="1"/>
<rect x="127.8" y="299.21" width="5.39" height="9.79" fill="#5e246c" stroke="#555" stroke-width="0.4"/>
<rect x="133.59" y="300.1" width="5.39" height="8.9" fill="#5e246c" stroke="#555" stroke-width="0.4"/>
<rect x="139.38" y="300.1" width="5.39" height="8.9" fill="#5e246c" stroke="#555" stroke-width="0.4"/>
<rect x="145.16" y="295.2" width="5.39" height="13.79" fill="#5e246c" stroke="#555" stroke-width="0.4"/>
<rect x="150.95" y="303.66" width="5.39" height="5.34" fill="#5e246c" stroke="#555" stroke-width="0.4"/>
<rect x="156.74" y="303.21" width="5.39" height="5.79" fill="#5e246c" stroke="#555" stroke-width="0.4"/>
<rect x="162.52" y="291.2" width="5.39" height="17.8" fill="#5e246c" stroke="#555" stroke-width="0.4"/>
<rect x="168.31" y="299.21" width="5.39" height="9.79" fill="#5e246c" stroke="#555" stroke-width="0.4"/>
<rect x="127.1" y="263.6" width="47.3" height="47.6" fill="none" stroke="#333" stroke-width="1"/>
<rect x="178.2" y="302.77" width="5.39" height="6.23" fill="#3cb54a" stroke="#555" stroke-width="0.4"/>
<rect x="183.99" y="305.44" width="5.39" height="3.56" fill="#3cb54a" stroke="#555" stroke-width="0.4"/>
<rect x="189.77" y="298.32" width="5.39" height="10.68" fill="#3cb54a" stroke="#555" stroke-width="0.4"/>
<rect x="201.35" y="294.31" width="5.39" height="14.69" fill="#3cb54a" stroke="#555" stroke-width="0.4"/>
<rect x="218.71" y="298.76" width="5.39" height="10.24" fill="#3cb54a" stroke="#555" stroke-width="0.4"/>
<rect x="177.5" y="263.6" width="47.3" height="47.6" fill="none" stroke="#333" stroke-width="1"/>
<line x1="31.6" y1="264.5" x2="34" y2="264.5" stroke="#333" stroke-width="0.5" />
<text x="31" y="266.2" font-size="4.8" text-anchor="end" fill="#444" textLength="11.8" lengthAdjust="spacingAndGlyphs">100%</text>
<line x1="31.6" y1="275.62" x2="34" y2="275.62" stroke="#333" stroke-width="0.5" />
<text x="31" y="277.32" font-size="4.8" text-anchor="end" fill="#444" textLength="9" lengthAdjust="spacingAndGlyphs">75%</text>
<line x1="31.6" y1="286.75" x2="34" y2="286.75" stroke="#333" stroke-width="0.5" />
<text x="31" y="288.45" font-size="4.8" text-anchor="end" fill="#444" textLength="9" lengthAdjust="spacingAndGlyphs">50%</text>
<line x1="31.6" y1="297.88" x2="34" y2="297.88" stroke="#333" stroke-width="0.5" />
<text x="31" y="299.57" font-size="4.8" text-anchor="end" fill="#444" textLength="9" lengthAdjust="spacingAndGlyphs">25%</text>
<line x1="31.6" y1="309" x2="34" y2="309" stroke="#333" stroke-width="0.5" />
<text x="31" y="310.7" font-size="4.8" text-anchor="end" fill="#444" textLength="6.2" lengthAdjust="spacingAndGlyphs">0%</text>
<text transform="translate(200.26 266.3) rotate(-90)" x="0" y="0" font-size="5" text-anchor="end" fill="#444" textLength="43.5" lengthAdjust="spacingAndGlyphs">Donor for 2° transplant</text>
<text transform="translate(211.83 266.3) rotate(-90)" x="0" y="0" font-size="5" text-anchor="end" fill="#444" textLength="43.5" lengthAdjust="spacingAndGlyphs">Donor for 2° transplant</text>
<text transform="translate(217.62 266.3) rotate(-90)" x="0" y="0" font-size="5" text-anchor="end" fill="#444" textLength="43.5" lengthAdjust="spacingAndGlyphs">Donor for 2° transplant</text>
<line x1="37.95" y1="312.2" x2="37.95" y2="313.5" stroke="#333" stroke-width="0.5" />
<text transform="translate(39.7 314.3) rotate(-90)" x="0" y="0" font-size="4.9" text-anchor="end" fill="#444" textLength="11.6" lengthAdjust="spacingAndGlyphs">25938</text>
<line x1="43.65" y1="312.2" x2="43.65" y2="313.5" stroke="#333" stroke-width="0.5" />
<text transform="translate(45.4 314.3) rotate(-90)" x="0" y="0" font-size="4.9" text-anchor="end" fill="#444" textLength="11.6" lengthAdjust="spacingAndGlyphs">25936</text>
<line x1="49.35" y1="312.2" x2="49.35" y2="313.5" stroke="#333" stroke-width="0.5" />
<text transform="translate(51.1 314.3) rotate(-90)" x="0" y="0" font-size="4.9" text-anchor="end" fill="#444" textLength="11.6" lengthAdjust="spacingAndGlyphs">25937</text>
<line x1="55.05" y1="312.2" x2="55.05" y2="313.5" stroke="#333" stroke-width="0.5" />
<text transform="translate(56.8 314.3) rotate(-90)" x="0" y="0" font-size="4.9" text-anchor="end" fill="#444" textLength="11.6" lengthAdjust="spacingAndGlyphs">25935</text>
<line x1="64.98" y1="312.2" x2="64.98" y2="313.5" stroke="#333" stroke-width="0.5" />
<text transform="translate(66.73 314.3) rotate(-90)" x="0" y="0" font-size="4.9" text-anchor="end" fill="#444" textLength="11.6" lengthAdjust="spacingAndGlyphs">25933</text>
<line x1="70.55" y1="312.2" x2="70.55" y2="313.5" stroke="#333" stroke-width="0.5" />
<text transform="translate(72.3 314.3) rotate(-90)" x="0" y="0" font-size="4.9" text-anchor="end" fill="#444" textLength="11.6" lengthAdjust="spacingAndGlyphs">25932</text>
<line x1="76.12" y1="312.2" x2="76.12" y2="313.5" stroke="#333" stroke-width="0.5" />
<text transform="translate(77.87 314.3) rotate(-90)" x="0" y="0" font-size="4.9" text-anchor="end" fill="#444" textLength="11.6" lengthAdjust="spacingAndGlyphs">25934</text>
<line x1="86.02" y1="312.2" x2="86.02" y2="313.5" stroke="#333" stroke-width="0.5" />
<text transform="translate(87.77 314.3) rotate(-90)" x="0" y="0" font-size="4.9" text-anchor="end" fill="#444" textLength="11.6" lengthAdjust="spacingAndGlyphs">25929</text>
<line x1="91.86" y1="312.2" x2="91.86" y2="313.5" stroke="#333" stroke-width="0.5" />
<text transform="translate(93.61 314.3) rotate(-90)" x="0" y="0" font-size="4.9" text-anchor="end" fill="#444" textLength="11.6" lengthAdjust="spacingAndGlyphs">25925</text>
<line x1="97.71" y1="312.2" x2="97.71" y2="313.5" stroke="#333" stroke-width="0.5" />
<text transform="translate(99.46 314.3) rotate(-90)" x="0" y="0" font-size="4.9" text-anchor="end" fill="#444" textLength="11.6" lengthAdjust="spacingAndGlyphs">25930</text>
<line x1="103.55" y1="312.2" x2="103.55" y2="313.5" stroke="#333" stroke-width="0.5" />
<text transform="translate(105.3 314.3) rotate(-90)" x="0" y="0" font-size="4.9" text-anchor="end" fill="#444" textLength="11.6" lengthAdjust="spacingAndGlyphs">25928</text>
<line x1="109.39" y1="312.2" x2="109.39" y2="313.5" stroke="#333" stroke-width="0.5" />
<text transform="translate(111.14 314.3) rotate(-90)" x="0" y="0" font-size="4.9" text-anchor="end" fill="#444" textLength="11.6" lengthAdjust="spacingAndGlyphs">25927</text>
<line x1="115.24" y1="312.2" x2="115.24" y2="313.5" stroke="#333" stroke-width="0.5" />
<text transform="translate(116.99 314.3) rotate(-90)" x="0" y="0" font-size="4.9" text-anchor="end" fill="#444" textLength="11.6" lengthAdjust="spacingAndGlyphs">25931</text>
<line x1="121.08" y1="312.2" x2="121.08" y2="313.5" stroke="#333" stroke-width="0.5" />
<text transform="translate(122.83 314.3) rotate(-90)" x="0" y="0" font-size="4.9" text-anchor="end" fill="#444" textLength="11.6" lengthAdjust="spacingAndGlyphs">25926</text>
<line x1="130.49" y1="312.2" x2="130.49" y2="313.5" stroke="#333" stroke-width="0.5" />
<text transform="translate(132.24 314.3) rotate(-90)" x="0" y="0" font-size="4.9" text-anchor="end" fill="#444" textLength="11.6" lengthAdjust="spacingAndGlyphs">25923</text>
<line x1="136.28" y1="312.2" x2="136.28" y2="313.5" stroke="#333" stroke-width="0.5" />
<text transform="translate(138.03 314.3) rotate(-90)" x="0" y="0" font-size="4.9" text-anchor="end" fill="#444" textLength="11.6" lengthAdjust="spacingAndGlyphs">25924</text>
<line x1="142.07" y1="312.2" x2="142.07" y2="313.5" stroke="#333" stroke-width="0.5" />
<text transform="translate(143.82 314.3) rotate(-90)" x="0" y="0" font-size="4.9" text-anchor="end" fill="#444" textLength="11.6" lengthAdjust="spacingAndGlyphs">25919</text>
<line x1="147.86" y1="312.2" x2="147.86" y2="313.5" stroke="#333" stroke-width="0.5" />
<text transform="translate(149.61 314.3) rotate(-90)" x="0" y="0" font-size="4.9" text-anchor="end" fill="#444" textLength="11.6" lengthAdjust="spacingAndGlyphs">25920</text>
<line x1="153.64" y1="312.2" x2="153.64" y2="313.5" stroke="#333" stroke-width="0.5" />
<text transform="translate(155.39 314.3) rotate(-90)" x="0" y="0" font-size="4.9" text-anchor="end" fill="#444" textLength="11.6" lengthAdjust="spacingAndGlyphs">25918</text>
<line x1="159.43" y1="312.2" x2="159.43" y2="313.5" stroke="#333" stroke-width="0.5" />
<text transform="translate(161.18 314.3) rotate(-90)" x="0" y="0" font-size="4.9" text-anchor="end" fill="#444" textLength="11.6" lengthAdjust="spacingAndGlyphs">25917</text>
<line x1="165.22" y1="312.2" x2="165.22" y2="313.5" stroke="#333" stroke-width="0.5" />
<text transform="translate(166.97 314.3) rotate(-90)" x="0" y="0" font-size="4.9" text-anchor="end" fill="#444" textLength="11.6" lengthAdjust="spacingAndGlyphs">25921</text>
<line x1="171.01" y1="312.2" x2="171.01" y2="313.5" stroke="#333" stroke-width="0.5" />
<text transform="translate(172.76 314.3) rotate(-90)" x="0" y="0" font-size="4.9" text-anchor="end" fill="#444" textLength="11.6" lengthAdjust="spacingAndGlyphs">25922</text>
<line x1="180.89" y1="312.2" x2="180.89" y2="313.5" stroke="#333" stroke-width="0.5" />
<text transform="translate(182.64 314.3) rotate(-90)" x="0" y="0" font-size="4.9" text-anchor="end" fill="#444" textLength="11.6" lengthAdjust="spacingAndGlyphs">25911</text>
<line x1="186.68" y1="312.2" x2="186.68" y2="313.5" stroke="#333" stroke-width="0.5" />
<text transform="translate(188.43 314.3) rotate(-90)" x="0" y="0" font-size="4.9" text-anchor="end" fill="#444" textLength="11.6" lengthAdjust="spacingAndGlyphs">25913</text>
<line x1="192.47" y1="312.2" x2="192.47" y2="313.5" stroke="#333" stroke-width="0.5" />
<text transform="translate(194.22 314.3) rotate(-90)" x="0" y="0" font-size="4.9" text-anchor="end" fill="#444" textLength="11.6" lengthAdjust="spacingAndGlyphs">25910</text>
<line x1="198.26" y1="312.2" x2="198.26" y2="313.5" stroke="#333" stroke-width="0.5" />
<text transform="translate(200.01 314.3) rotate(-90)" x="0" y="0" font-size="4.9" text-anchor="end" fill="#444" textLength="11.6" lengthAdjust="spacingAndGlyphs">25912</text>
<line x1="204.04" y1="312.2" x2="204.04" y2="313.5" stroke="#333" stroke-width="0.5" />
<text transform="translate(205.79 314.3) rotate(-90)" x="0" y="0" font-size="4.9" text-anchor="end" fill="#444" textLength="11.6" lengthAdjust="spacingAndGlyphs">25909</text>
<line x1="209.83" y1="312.2" x2="209.83" y2="313.5" stroke="#333" stroke-width="0.5" />
<text transform="translate(211.58 314.3) rotate(-90)" x="0" y="0" font-size="4.9" text-anchor="end" fill="#444" textLength="11.6" lengthAdjust="spacingAndGlyphs">25914</text>
<line x1="215.62" y1="312.2" x2="215.62" y2="313.5" stroke="#333" stroke-width="0.5" />
<text transform="translate(217.37 314.3) rotate(-90)" x="0" y="0" font-size="4.9" text-anchor="end" fill="#444" textLength="11.6" lengthAdjust="spacingAndGlyphs">25916</text>
<line x1="221.41" y1="312.2" x2="221.41" y2="313.5" stroke="#333" stroke-width="0.5" />
<text transform="translate(223.16 314.3) rotate(-90)" x="0" y="0" font-size="4.9" text-anchor="end" fill="#444" textLength="11.6" lengthAdjust="spacingAndGlyphs">25915</text>
<text transform="translate(14 232.4) rotate(-90)" x="0" y="0" font-size="7" text-anchor="middle" fill="#444" textLength="75.7" lengthAdjust="spacingAndGlyphs">Human chimerism (marrow)</text>
<text transform="translate(233.8 185.1) rotate(-90)" x="0" y="0" font-size="8.4" text-anchor="middle" fill="#333" textLength="25" lengthAdjust="spacingAndGlyphs">Week 3</text>
<text transform="translate(233.8 236.8) rotate(-90)" x="0" y="0" font-size="8.4" text-anchor="middle" fill="#333" textLength="24.3" lengthAdjust="spacingAndGlyphs">Week 9</text>
<text transform="translate(233.8 286.3) rotate(-90)" x="0" y="0" font-size="8.4" text-anchor="middle" fill="#333" textLength="28.8" lengthAdjust="spacingAndGlyphs">Week 16</text>
<text transform="translate(41.2 157.3) rotate(-45)" x="0" y="0" font-size="7.3" fill="#333" textLength="35" lengthAdjust="spacingAndGlyphs">Untreated</text>
<text transform="translate(65 154) rotate(-45)" x="0" y="0" font-size="7" fill="#333" textLength="36.5" lengthAdjust="spacingAndGlyphs">sgAAVS1 /</text>
<text transform="translate(72.8 159.6) rotate(-45)" x="0" y="0" font-size="7" fill="#333" textLength="44.5" lengthAdjust="spacingAndGlyphs">AAV6 HLF-ZE</text>
<text x="145.2" y="146.8" font-size="7" text-anchor="middle" fill="#333" textLength="75" lengthAdjust="spacingAndGlyphs">sgHLF / <tspan font-style="italic">rAAV6 HLF-ZE</tspan></text>
<line x1="87.3" y1="150.6" x2="223" y2="150.6" stroke="#555" stroke-width="0.9" />
<text x="100.9" y="158.6" font-size="8.4" text-anchor="middle" fill="#333" textLength="16.8" lengthAdjust="spacingAndGlyphs">Total</text>
<text x="149.6" y="158.4" font-size="8.4" text-anchor="middle" fill="#333" textLength="16.6" lengthAdjust="spacingAndGlyphs">ZsG<tspan font-size="5.21" dy="-3.02">−</tspan></text>
<text x="200.1" y="158.4" font-size="8.4" text-anchor="middle" fill="#333" textLength="16.4" lengthAdjust="spacingAndGlyphs">ZsG<tspan font-size="5.21" dy="-3.02">+</tspan></text>
<rect x="282.65" y="161.9" width="5.12" height="1.35" fill="#c8202f"/>
<rect x="282.65" y="163.25" width="5.12" height="43.75" fill="#0f4f84"/>
<rect x="288.48" y="161.9" width="5.12" height="9.02" fill="#c8202f"/>
<rect x="288.48" y="170.92" width="5.12" height="36.08" fill="#0f4f84"/>
<rect x="294.3" y="161.9" width="5.12" height="12.18" fill="#c8202f"/>
<rect x="294.3" y="174.08" width="5.12" height="32.92" fill="#0f4f84"/>
<rect x="300.12" y="161.9" width="5.12" height="2.25" fill="#c8202f"/>
<rect x="300.12" y="164.16" width="5.12" height="42.84" fill="#0f4f84"/>
<rect x="282.15" y="160.45" width="23.6" height="48.7" fill="none" stroke="#333" stroke-width="0.9"/>
<rect x="309.85" y="161.9" width="4.97" height="3.61" fill="#c8202f"/>
<rect x="309.85" y="165.51" width="4.97" height="41.49" fill="#0f4f84"/>
<rect x="315.52" y="161.9" width="4.97" height="1.8" fill="#c8202f"/>
<rect x="315.52" y="163.7" width="4.97" height="43.3" fill="#0f4f84"/>
<rect x="321.18" y="161.9" width="4.97" height="3.16" fill="#c8202f"/>
<rect x="321.18" y="165.06" width="4.97" height="41.94" fill="#0f4f84"/>
<rect x="309.35" y="160.45" width="17.3" height="48.7" fill="none" stroke="#333" stroke-width="0.9"/>
<rect x="330.85" y="161.9" width="5.13" height="2.25" fill="#c8202f"/>
<rect x="330.85" y="164.16" width="5.13" height="42.84" fill="#0f4f84"/>
<rect x="336.68" y="161.9" width="5.13" height="7.67" fill="#c8202f"/>
<rect x="336.68" y="169.57" width="5.13" height="37.43" fill="#0f4f84"/>
<rect x="342.51" y="161.9" width="5.13" height="10.37" fill="#c8202f"/>
<rect x="342.51" y="172.27" width="5.13" height="34.73" fill="#0f4f84"/>
<rect x="348.34" y="161.9" width="5.13" height="8.57" fill="#c8202f"/>
<rect x="348.34" y="170.47" width="5.13" height="36.53" fill="#0f4f84"/>
<rect x="354.16" y="161.9" width="5.13" height="1.35" fill="#c8202f"/>
<rect x="354.16" y="163.25" width="5.13" height="43.75" fill="#0f4f84"/>
<rect x="359.99" y="161.9" width="5.13" height="1.35" fill="#c8202f"/>
<rect x="359.99" y="163.25" width="5.13" height="43.75" fill="#0f4f84"/>
<rect x="365.82" y="161.9" width="5.13" height="9.02" fill="#c8202f"/>
<rect x="365.82" y="170.92" width="5.13" height="36.08" fill="#0f4f84"/>
<rect x="330.35" y="160.45" width="41.1" height="48.7" fill="none" stroke="#333" stroke-width="0.9"/>
<rect x="375.35" y="161.9" width="5.12" height="1.8" fill="#c8202f"/>
<rect x="375.35" y="163.7" width="5.12" height="43.3" fill="#0f4f84"/>
<rect x="381.18" y="161.9" width="5.12" height="5.86" fill="#c8202f"/>
<rect x="381.18" y="167.76" width="5.12" height="39.24" fill="#0f4f84"/>
<rect x="387" y="161.9" width="5.12" height="1.8" fill="#c8202f"/>
<rect x="387" y="163.7" width="5.12" height="43.3" fill="#0f4f84"/>
<rect x="392.82" y="161.9" width="5.12" height="7.67" fill="#c8202f"/>
<rect x="392.82" y="169.57" width="5.12" height="37.43" fill="#0f4f84"/>
<rect x="398.65" y="161.9" width="5.12" height="2.25" fill="#c8202f"/>
<rect x="398.65" y="164.16" width="5.12" height="42.84" fill="#0f4f84"/>
<rect x="404.48" y="161.9" width="5.12" height="11.28" fill="#c8202f"/>
<rect x="404.48" y="173.18" width="5.12" height="33.82" fill="#0f4f84"/>
<rect x="410.3" y="161.9" width="5.12" height="7.67" fill="#c8202f"/>
<rect x="410.3" y="169.57" width="5.12" height="37.43" fill="#0f4f84"/>
<rect x="416.12" y="161.9" width="5.12" height="11.73" fill="#c8202f"/>
<rect x="416.12" y="173.63" width="5.12" height="33.37" fill="#0f4f84"/>
<rect x="374.85" y="160.45" width="46.9" height="48.7" fill="none" stroke="#333" stroke-width="0.9"/>
<rect x="425.75" y="161.9" width="5.02" height="19.39" fill="#c8202f"/>
<rect x="425.75" y="181.29" width="5.02" height="25.71" fill="#0f4f84"/>
<rect x="431.48" y="161.9" width="5.02" height="1.8" fill="#c8202f"/>
<rect x="431.48" y="163.7" width="5.02" height="43.3" fill="#0f4f84"/>
<rect x="437.2" y="161.9" width="5.02" height="0.45" fill="#c8202f"/>
<rect x="437.2" y="162.35" width="5.02" height="44.65" fill="#0f4f84"/>
<rect x="442.93" y="161.9" width="5.02" height="0.45" fill="#c8202f"/>
<rect x="442.93" y="162.35" width="5.02" height="44.65" fill="#0f4f84"/>
<rect x="448.65" y="161.9" width="5.02" height="0.45" fill="#c8202f"/>
<rect x="448.65" y="162.35" width="5.02" height="44.65" fill="#0f4f84"/>
<rect x="454.38" y="161.9" width="5.02" height="2.25" fill="#c8202f"/>
<rect x="454.38" y="164.16" width="5.02" height="42.84" fill="#0f4f84"/>
<rect x="460.1" y="161.9" width="5.02" height="0.45" fill="#c8202f"/>
<rect x="460.1" y="162.35" width="5.02" height="44.65" fill="#0f4f84"/>
<rect x="465.83" y="161.9" width="5.02" height="0.45" fill="#c8202f"/>
<rect x="465.83" y="162.35" width="5.02" height="44.65" fill="#0f4f84"/>
<rect x="425.25" y="160.45" width="46.1" height="48.7" fill="none" stroke="#333" stroke-width="0.9"/>
<line x1="279.2" y1="161.9" x2="281.7" y2="161.9" stroke="#333" stroke-width="0.5" />
<text x="278.6" y="163.6" font-size="4.8" text-anchor="end" fill="#444" textLength="12" lengthAdjust="spacingAndGlyphs">100%</text>
<line x1="279.2" y1="173.18" x2="281.7" y2="173.18" stroke="#333" stroke-width="0.5" />
<text x="278.6" y="174.88" font-size="4.8" text-anchor="end" fill="#444" textLength="9" lengthAdjust="spacingAndGlyphs">75%</text>
<line x1="279.2" y1="184.45" x2="281.7" y2="184.45" stroke="#333" stroke-width="0.5" />
<text x="278.6" y="186.15" font-size="4.8" text-anchor="end" fill="#444" textLength="9" lengthAdjust="spacingAndGlyphs">50%</text>
<line x1="279.2" y1="195.72" x2="281.7" y2="195.72" stroke="#333" stroke-width="0.5" />
<text x="278.6" y="197.42" font-size="4.8" text-anchor="end" fill="#444" textLength="9" lengthAdjust="spacingAndGlyphs">25%</text>
<line x1="279.2" y1="207" x2="281.7" y2="207" stroke="#333" stroke-width="0.5" />
<text x="278.6" y="208.7" font-size="4.8" text-anchor="end" fill="#444" textLength="6.2" lengthAdjust="spacingAndGlyphs">0%</text>
<rect x="282.65" y="214.7" width="5.12" height="15.82" fill="#c8202f"/>
<rect x="282.65" y="230.52" width="5.12" height="28.48" fill="#0f4f84"/>
<rect x="282.65" y="259" width="5.12" height="0.9" fill="#3cb44a"/>
<rect x="288.48" y="214.7" width="5.12" height="22.6" fill="#c8202f"/>
<rect x="288.48" y="237.3" width="5.12" height="22.15" fill="#0f4f84"/>
<rect x="288.48" y="259.45" width="5.12" height="0.45" fill="#3cb44a"/>
<rect x="294.3" y="214.7" width="5.12" height="20.34" fill="#c8202f"/>
<rect x="294.3" y="235.04" width="5.12" height="24.41" fill="#0f4f84"/>
<rect x="294.3" y="259.45" width="5.12" height="0.45" fill="#3cb44a"/>
<rect x="300.12" y="214.7" width="5.12" height="6.78" fill="#c8202f"/>
<rect x="300.12" y="221.48" width="5.12" height="37.97" fill="#0f4f84"/>
<rect x="300.12" y="259.45" width="5.12" height="0.45" fill="#3cb44a"/>
<rect x="282.15" y="213.25" width="23.6" height="48.9" fill="none" stroke="#333" stroke-width="0.9"/>
<rect x="309.85" y="214.7" width="4.97" height="28.48" fill="#c8202f"/>
<rect x="309.85" y="243.18" width="4.97" height="14.46" fill="#0f4f84"/>
<rect x="309.85" y="257.64" width="4.97" height="2.26" fill="#3cb44a"/>
<rect x="315.52" y="214.7" width="4.97" height="28.93" fill="#c8202f"/>
<rect x="315.52" y="243.63" width="4.97" height="16.27" fill="#0f4f84"/>
<rect x="321.18" y="214.7" width="4.97" height="28.93" fill="#c8202f"/>
<rect x="321.18" y="243.63" width="4.97" height="16.27" fill="#0f4f84"/>
<rect x="309.35" y="213.25" width="17.3" height="48.9" fill="none" stroke="#333" stroke-width="0.9"/>
<rect x="330.85" y="214.7" width="5.13" height="10.4" fill="#c8202f"/>
<rect x="330.85" y="225.1" width="5.13" height="29.83" fill="#0f4f84"/>
<rect x="330.85" y="254.93" width="5.13" height="4.97" fill="#3cb44a"/>
<rect x="336.68" y="214.7" width="5.13" height="8.59" fill="#c8202f"/>
<rect x="336.68" y="223.29" width="5.13" height="34.8" fill="#0f4f84"/>
<rect x="336.68" y="258.09" width="5.13" height="1.81" fill="#3cb44a"/>
<rect x="342.51" y="214.7" width="5.13" height="9.04" fill="#c8202f"/>
<rect x="342.51" y="223.74" width="5.13" height="32.54" fill="#0f4f84"/>
<rect x="342.51" y="256.28" width="5.13" height="3.62" fill="#3cb44a"/>
<rect x="348.34" y="214.7" width="5.13" height="22.15" fill="#c8202f"/>
<rect x="348.34" y="236.85" width="5.13" height="22.6" fill="#0f4f84"/>
<rect x="348.34" y="259.45" width="5.13" height="0.45" fill="#3cb44a"/>
<rect x="354.16" y="214.7" width="5.13" height="9.04" fill="#c8202f"/>
<rect x="354.16" y="223.74" width="5.13" height="35.71" fill="#0f4f84"/>
<rect x="354.16" y="259.45" width="5.13" height="0.45" fill="#3cb44a"/>
<rect x="359.99" y="214.7" width="5.13" height="31.19" fill="#c8202f"/>
<rect x="359.99" y="245.89" width="5.13" height="13.56" fill="#0f4f84"/>
<rect x="359.99" y="259.45" width="5.13" height="0.45" fill="#3cb44a"/>
<rect x="365.82" y="214.7" width="5.13" height="4.97" fill="#c8202f"/>
<rect x="365.82" y="219.67" width="5.13" height="39.78" fill="#0f4f84"/>
<rect x="365.82" y="259.45" width="5.13" height="0.45" fill="#3cb44a"/>
<rect x="330.35" y="213.25" width="41.1" height="48.9" fill="none" stroke="#333" stroke-width="0.9"/>
<rect x="375.35" y="214.7" width="5.12" height="10.4" fill="#c8202f"/>
<rect x="375.35" y="225.1" width="5.12" height="34.35" fill="#0f4f84"/>
<rect x="375.35" y="259.45" width="5.12" height="0.45" fill="#3cb44a"/>
<rect x="381.18" y="214.7" width="5.12" height="23.05" fill="#c8202f"/>
<rect x="381.18" y="237.75" width="5.12" height="21.7" fill="#0f4f84"/>
<rect x="381.18" y="259.45" width="5.12" height="0.45" fill="#3cb44a"/>
<rect x="387" y="214.7" width="5.12" height="16.27" fill="#c8202f"/>
<rect x="387" y="230.97" width="5.12" height="28.48" fill="#0f4f84"/>
<rect x="387" y="259.45" width="5.12" height="0.45" fill="#3cb44a"/>
<rect x="392.82" y="214.7" width="5.12" height="4.52" fill="#c8202f"/>
<rect x="392.82" y="219.22" width="5.12" height="40.23" fill="#0f4f84"/>
<rect x="392.82" y="259.45" width="5.12" height="0.45" fill="#3cb44a"/>
<rect x="398.65" y="214.7" width="5.12" height="9.04" fill="#c8202f"/>
<rect x="398.65" y="223.74" width="5.12" height="28.48" fill="#0f4f84"/>
<rect x="398.65" y="252.22" width="5.12" height="7.68" fill="#3cb44a"/>
<rect x="404.48" y="214.7" width="5.12" height="12.66" fill="#c8202f"/>
<rect x="404.48" y="227.36" width="5.12" height="28.93" fill="#0f4f84"/>
<rect x="404.48" y="256.28" width="5.12" height="3.62" fill="#3cb44a"/>
<rect x="410.3" y="214.7" width="5.12" height="12.66" fill="#c8202f"/>
<rect x="410.3" y="227.36" width="5.12" height="32.09" fill="#0f4f84"/>
<rect x="410.3" y="259.45" width="5.12" height="0.45" fill="#3cb44a"/>
<rect x="416.12" y="214.7" width="5.12" height="20.34" fill="#c8202f"/>
<rect x="416.12" y="235.04" width="5.12" height="24.41" fill="#0f4f84"/>
<rect x="416.12" y="259.45" width="5.12" height="0.45" fill="#3cb44a"/>
<rect x="374.85" y="213.25" width="46.9" height="48.9" fill="none" stroke="#333" stroke-width="0.9"/>
<rect x="425.75" y="214.7" width="5.02" height="22.15" fill="#c8202f"/>
<rect x="425.75" y="236.85" width="5.02" height="23.05" fill="#0f4f84"/>
<rect x="431.48" y="214.7" width="5.02" height="35.71" fill="#c8202f"/>
<rect x="431.48" y="250.41" width="5.02" height="9.49" fill="#0f4f84"/>
<rect x="437.2" y="214.7" width="5.02" height="15.37" fill="#c8202f"/>
<rect x="437.2" y="230.07" width="5.02" height="25.76" fill="#0f4f84"/>
<rect x="437.2" y="255.83" width="5.02" height="4.07" fill="#3cb44a"/>
<rect x="442.93" y="214.7" width="5.02" height="0.9" fill="#c8202f"/>
<rect x="442.93" y="215.6" width="5.02" height="44.3" fill="#0f4f84"/>
<rect x="448.65" y="214.7" width="5.02" height="34.35" fill="#c8202f"/>
<rect x="448.65" y="249.05" width="5.02" height="10.85" fill="#0f4f84"/>
<rect x="454.38" y="214.7" width="5.02" height="21.7" fill="#c8202f"/>
<rect x="454.38" y="236.4" width="5.02" height="23.5" fill="#0f4f84"/>
<rect x="460.1" y="214.7" width="5.02" height="4.97" fill="#c8202f"/>
<rect x="460.1" y="219.67" width="5.02" height="40.23" fill="#0f4f84"/>
<rect x="465.83" y="214.7" width="5.02" height="28.48" fill="#c8202f"/>
<rect x="465.83" y="243.18" width="5.02" height="16.72" fill="#0f4f84"/>
<rect x="425.25" y="213.25" width="46.1" height="48.9" fill="none" stroke="#333" stroke-width="0.9"/>
<line x1="279.2" y1="214.7" x2="281.7" y2="214.7" stroke="#333" stroke-width="0.5" />
<text x="278.6" y="216.4" font-size="4.8" text-anchor="end" fill="#444" textLength="12" lengthAdjust="spacingAndGlyphs">100%</text>
<line x1="279.2" y1="226" x2="281.7" y2="226" stroke="#333" stroke-width="0.5" />
<text x="278.6" y="227.7" font-size="4.8" text-anchor="end" fill="#444" textLength="9" lengthAdjust="spacingAndGlyphs">75%</text>
<line x1="279.2" y1="237.3" x2="281.7" y2="237.3" stroke="#333" stroke-width="0.5" />
<text x="278.6" y="239" font-size="4.8" text-anchor="end" fill="#444" textLength="9" lengthAdjust="spacingAndGlyphs">50%</text>
<line x1="279.2" y1="248.6" x2="281.7" y2="248.6" stroke="#333" stroke-width="0.5" />
<text x="278.6" y="250.3" font-size="4.8" text-anchor="end" fill="#444" textLength="9" lengthAdjust="spacingAndGlyphs">25%</text>
<line x1="279.2" y1="259.9" x2="281.7" y2="259.9" stroke="#333" stroke-width="0.5" />
<text x="278.6" y="261.6" font-size="4.8" text-anchor="end" fill="#444" textLength="6.2" lengthAdjust="spacingAndGlyphs">0%</text>
<rect x="282.65" y="267.1" width="5.12" height="10.4" fill="#c8202f"/>
<rect x="282.65" y="277.5" width="5.12" height="28.93" fill="#0f4f84"/>
<rect x="282.65" y="306.42" width="5.12" height="5.88" fill="#3cb44a"/>
<rect x="288.48" y="267.1" width="5.12" height="1.81" fill="#c8202f"/>
<rect x="288.48" y="268.91" width="5.12" height="37.52" fill="#0f4f84"/>
<rect x="288.48" y="306.42" width="5.12" height="5.88" fill="#3cb44a"/>
<rect x="294.3" y="267.1" width="5.12" height="11.3" fill="#c8202f"/>
<rect x="294.3" y="278.4" width="5.12" height="33.9" fill="#0f4f84"/>
<rect x="300.12" y="267.1" width="5.12" height="8.14" fill="#c8202f"/>
<rect x="300.12" y="275.24" width="5.12" height="30.74" fill="#0f4f84"/>
<rect x="300.12" y="305.97" width="5.12" height="6.33" fill="#3cb44a"/>
<rect x="282.15" y="265.55" width="23.6" height="48.6" fill="none" stroke="#333" stroke-width="0.9"/>
<rect x="309.85" y="267.1" width="4.97" height="6.33" fill="#c8202f"/>
<rect x="309.85" y="273.43" width="4.97" height="25.31" fill="#0f4f84"/>
<rect x="309.85" y="298.74" width="4.97" height="13.56" fill="#3cb44a"/>
<rect x="315.52" y="267.1" width="4.97" height="15.37" fill="#c8202f"/>
<rect x="315.52" y="282.47" width="4.97" height="29.83" fill="#0f4f84"/>
<rect x="321.18" y="267.1" width="4.97" height="20.79" fill="#c8202f"/>
<rect x="321.18" y="287.89" width="4.97" height="6.78" fill="#0f4f84"/>
<rect x="321.18" y="294.67" width="4.97" height="17.63" fill="#3cb44a"/>
<rect x="309.35" y="265.55" width="17.3" height="48.6" fill="none" stroke="#333" stroke-width="0.9"/>
<rect x="330.85" y="267.1" width="5.13" height="2.71" fill="#c8202f"/>
<rect x="330.85" y="269.81" width="5.13" height="1.81" fill="#0f4f84"/>
<rect x="330.85" y="271.62" width="5.13" height="40.68" fill="#3cb44a"/>
<rect x="336.68" y="267.1" width="5.13" height="1.36" fill="#c8202f"/>
<rect x="336.68" y="268.46" width="5.13" height="19.89" fill="#0f4f84"/>
<rect x="336.68" y="288.34" width="5.13" height="23.96" fill="#3cb44a"/>
<rect x="342.51" y="267.1" width="5.13" height="4.52" fill="#c8202f"/>
<rect x="342.51" y="271.62" width="5.13" height="25.31" fill="#0f4f84"/>
<rect x="342.51" y="296.93" width="5.13" height="15.37" fill="#3cb44a"/>
<rect x="348.34" y="267.1" width="5.13" height="3.16" fill="#c8202f"/>
<rect x="348.34" y="270.26" width="5.13" height="6.33" fill="#0f4f84"/>
<rect x="348.34" y="276.59" width="5.13" height="35.71" fill="#3cb44a"/>
<rect x="354.16" y="267.1" width="5.13" height="1.81" fill="#c8202f"/>
<rect x="354.16" y="268.91" width="5.13" height="20.79" fill="#0f4f84"/>
<rect x="354.16" y="289.7" width="5.13" height="22.6" fill="#3cb44a"/>
<rect x="359.99" y="267.1" width="5.13" height="1.81" fill="#c8202f"/>
<rect x="359.99" y="268.91" width="5.13" height="31.64" fill="#0f4f84"/>
<rect x="359.99" y="300.55" width="5.13" height="11.75" fill="#3cb44a"/>
<rect x="365.82" y="267.1" width="5.13" height="10.4" fill="#c8202f"/>
<rect x="365.82" y="277.5" width="5.13" height="11.75" fill="#0f4f84"/>
<rect x="365.82" y="289.25" width="5.13" height="23.05" fill="#3cb44a"/>
<rect x="330.35" y="265.55" width="41.1" height="48.6" fill="none" stroke="#333" stroke-width="0.9"/>
<rect x="375.35" y="267.1" width="5.12" height="15.37" fill="#c8202f"/>
<rect x="375.35" y="282.47" width="5.12" height="29.83" fill="#0f4f84"/>
<rect x="381.18" y="267.1" width="5.12" height="2.26" fill="#c8202f"/>
<rect x="381.18" y="269.36" width="5.12" height="11.75" fill="#0f4f84"/>
<rect x="381.18" y="281.11" width="5.12" height="31.19" fill="#3cb44a"/>
<rect x="387" y="267.1" width="5.12" height="1.36" fill="#c8202f"/>
<rect x="387" y="268.46" width="5.12" height="13.11" fill="#0f4f84"/>
<rect x="387" y="281.56" width="5.12" height="30.74" fill="#3cb44a"/>
<rect x="392.82" y="267.1" width="5.12" height="3.16" fill="#c8202f"/>
<rect x="392.82" y="270.26" width="5.12" height="21.24" fill="#0f4f84"/>
<rect x="392.82" y="291.51" width="5.12" height="20.79" fill="#3cb44a"/>
<rect x="398.65" y="267.1" width="5.12" height="9.49" fill="#c8202f"/>
<rect x="398.65" y="276.59" width="5.12" height="26.22" fill="#0f4f84"/>
<rect x="398.65" y="302.81" width="5.12" height="9.49" fill="#3cb44a"/>
<rect x="404.48" y="267.1" width="5.12" height="3.16" fill="#c8202f"/>
<rect x="404.48" y="270.26" width="5.12" height="14.46" fill="#0f4f84"/>
<rect x="404.48" y="284.73" width="5.12" height="27.57" fill="#3cb44a"/>
<rect x="410.3" y="267.1" width="5.12" height="10.85" fill="#c8202f"/>
<rect x="410.3" y="277.95" width="5.12" height="34.35" fill="#0f4f84"/>
<rect x="416.12" y="267.1" width="5.12" height="17.63" fill="#c8202f"/>
<rect x="416.12" y="284.73" width="5.12" height="27.57" fill="#0f4f84"/>
<rect x="374.85" y="265.55" width="46.9" height="48.6" fill="none" stroke="#333" stroke-width="0.9"/>
<rect x="425.75" y="267.1" width="5.02" height="6.33" fill="#c8202f"/>
<rect x="425.75" y="273.43" width="5.02" height="31.19" fill="#0f4f84"/>
<rect x="425.75" y="304.62" width="5.02" height="7.68" fill="#3cb44a"/>
<rect x="431.48" y="267.1" width="5.02" height="1.36" fill="#c8202f"/>
<rect x="431.48" y="268.46" width="5.02" height="19.89" fill="#0f4f84"/>
<rect x="431.48" y="288.34" width="5.02" height="23.96" fill="#3cb44a"/>
<rect x="437.2" y="267.1" width="5.02" height="2.71" fill="#c8202f"/>
<rect x="437.2" y="269.81" width="5.02" height="8.14" fill="#0f4f84"/>
<rect x="437.2" y="277.95" width="5.02" height="34.35" fill="#3cb44a"/>
<rect x="448.65" y="267.1" width="5.02" height="24.86" fill="#c8202f"/>
<rect x="448.65" y="291.96" width="5.02" height="20.34" fill="#0f4f84"/>
<rect x="465.83" y="267.1" width="5.02" height="2.71" fill="#c8202f"/>
<rect x="465.83" y="269.81" width="5.02" height="33" fill="#0f4f84"/>
<rect x="465.83" y="302.81" width="5.02" height="9.49" fill="#3cb44a"/>
<rect x="425.25" y="265.55" width="46.1" height="48.6" fill="none" stroke="#333" stroke-width="0.9"/>
<line x1="279.2" y1="267.1" x2="281.7" y2="267.1" stroke="#333" stroke-width="0.5" />
<text x="278.6" y="268.8" font-size="4.8" text-anchor="end" fill="#444" textLength="12" lengthAdjust="spacingAndGlyphs">100%</text>
<line x1="279.2" y1="278.4" x2="281.7" y2="278.4" stroke="#333" stroke-width="0.5" />
<text x="278.6" y="280.1" font-size="4.8" text-anchor="end" fill="#444" textLength="9" lengthAdjust="spacingAndGlyphs">75%</text>
<line x1="279.2" y1="289.7" x2="281.7" y2="289.7" stroke="#333" stroke-width="0.5" />
<text x="278.6" y="291.4" font-size="4.8" text-anchor="end" fill="#444" textLength="9" lengthAdjust="spacingAndGlyphs">50%</text>
<line x1="279.2" y1="301" x2="281.7" y2="301" stroke="#333" stroke-width="0.5" />
<text x="278.6" y="302.7" font-size="4.8" text-anchor="end" fill="#444" textLength="9" lengthAdjust="spacingAndGlyphs">25%</text>
<line x1="279.2" y1="312.3" x2="281.7" y2="312.3" stroke="#333" stroke-width="0.5" />
<text x="278.6" y="314" font-size="4.8" text-anchor="end" fill="#444" textLength="6.2" lengthAdjust="spacingAndGlyphs">0%</text>
<text transform="translate(447.49 268) rotate(-90)" x="0" y="0" font-size="5" text-anchor="end" fill="#444" textLength="43.5" lengthAdjust="spacingAndGlyphs">donor for 2° transplant</text>
<text transform="translate(458.74 268) rotate(-90)" x="0" y="0" font-size="5" text-anchor="end" fill="#444" textLength="43.5" lengthAdjust="spacingAndGlyphs">donor for 2° transplant</text>
<text transform="translate(464.36 268) rotate(-90)" x="0" y="0" font-size="5" text-anchor="end" fill="#444" textLength="43.5" lengthAdjust="spacingAndGlyphs">donor for 2° transplant</text>
<line x1="285.51" y1="314.6" x2="285.51" y2="315.9" stroke="#333" stroke-width="0.5" />
<text transform="translate(287.26 316.7) rotate(-90)" x="0" y="0" font-size="4.9" text-anchor="end" fill="#444" textLength="11.6" lengthAdjust="spacingAndGlyphs">25938</text>
<line x1="291.14" y1="314.6" x2="291.14" y2="315.9" stroke="#333" stroke-width="0.5" />
<text transform="translate(292.89 316.7) rotate(-90)" x="0" y="0" font-size="4.9" text-anchor="end" fill="#444" textLength="11.6" lengthAdjust="spacingAndGlyphs">25936</text>
<line x1="296.76" y1="314.6" x2="296.76" y2="315.9" stroke="#333" stroke-width="0.5" />
<text transform="translate(298.51 316.7) rotate(-90)" x="0" y="0" font-size="4.9" text-anchor="end" fill="#444" textLength="11.6" lengthAdjust="spacingAndGlyphs">25937</text>
<line x1="302.39" y1="314.6" x2="302.39" y2="315.9" stroke="#333" stroke-width="0.5" />
<text transform="translate(304.14 316.7) rotate(-90)" x="0" y="0" font-size="4.9" text-anchor="end" fill="#444" textLength="11.6" lengthAdjust="spacingAndGlyphs">25935</text>
<line x1="312.6" y1="314.6" x2="312.6" y2="315.9" stroke="#333" stroke-width="0.5" />
<text transform="translate(314.35 316.7) rotate(-90)" x="0" y="0" font-size="4.9" text-anchor="end" fill="#444" textLength="11.6" lengthAdjust="spacingAndGlyphs">25933</text>
<line x1="318" y1="314.6" x2="318" y2="315.9" stroke="#333" stroke-width="0.5" />
<text transform="translate(319.75 316.7) rotate(-90)" x="0" y="0" font-size="4.9" text-anchor="end" fill="#444" textLength="11.6" lengthAdjust="spacingAndGlyphs">25932</text>
<line x1="323.4" y1="314.6" x2="323.4" y2="315.9" stroke="#333" stroke-width="0.5" />
<text transform="translate(325.15 316.7) rotate(-90)" x="0" y="0" font-size="4.9" text-anchor="end" fill="#444" textLength="11.6" lengthAdjust="spacingAndGlyphs">25934</text>
<line x1="333.76" y1="314.6" x2="333.76" y2="315.9" stroke="#333" stroke-width="0.5" />
<text transform="translate(335.51 316.7) rotate(-90)" x="0" y="0" font-size="4.9" text-anchor="end" fill="#444" textLength="11.6" lengthAdjust="spacingAndGlyphs">25929</text>
<line x1="339.47" y1="314.6" x2="339.47" y2="315.9" stroke="#333" stroke-width="0.5" />
<text transform="translate(341.22 316.7) rotate(-90)" x="0" y="0" font-size="4.9" text-anchor="end" fill="#444" textLength="11.6" lengthAdjust="spacingAndGlyphs">25925</text>
<line x1="345.19" y1="314.6" x2="345.19" y2="315.9" stroke="#333" stroke-width="0.5" />
<text transform="translate(346.94 316.7) rotate(-90)" x="0" y="0" font-size="4.9" text-anchor="end" fill="#444" textLength="11.6" lengthAdjust="spacingAndGlyphs">25930</text>
<line x1="350.9" y1="314.6" x2="350.9" y2="315.9" stroke="#333" stroke-width="0.5" />
<text transform="translate(352.65 316.7) rotate(-90)" x="0" y="0" font-size="4.9" text-anchor="end" fill="#444" textLength="11.6" lengthAdjust="spacingAndGlyphs">25928</text>
<line x1="356.61" y1="314.6" x2="356.61" y2="315.9" stroke="#333" stroke-width="0.5" />
<text transform="translate(358.36 316.7) rotate(-90)" x="0" y="0" font-size="4.9" text-anchor="end" fill="#444" textLength="11.6" lengthAdjust="spacingAndGlyphs">25927</text>
<line x1="362.33" y1="314.6" x2="362.33" y2="315.9" stroke="#333" stroke-width="0.5" />
<text transform="translate(364.08 316.7) rotate(-90)" x="0" y="0" font-size="4.9" text-anchor="end" fill="#444" textLength="11.6" lengthAdjust="spacingAndGlyphs">25931</text>
<line x1="368.04" y1="314.6" x2="368.04" y2="315.9" stroke="#333" stroke-width="0.5" />
<text transform="translate(369.79 316.7) rotate(-90)" x="0" y="0" font-size="4.9" text-anchor="end" fill="#444" textLength="11.6" lengthAdjust="spacingAndGlyphs">25926</text>
<line x1="378.26" y1="314.6" x2="378.26" y2="315.9" stroke="#333" stroke-width="0.5" />
<text transform="translate(380.01 316.7) rotate(-90)" x="0" y="0" font-size="4.9" text-anchor="end" fill="#444" textLength="11.6" lengthAdjust="spacingAndGlyphs">25923</text>
<line x1="383.99" y1="314.6" x2="383.99" y2="315.9" stroke="#333" stroke-width="0.5" />
<text transform="translate(385.74 316.7) rotate(-90)" x="0" y="0" font-size="4.9" text-anchor="end" fill="#444" textLength="11.6" lengthAdjust="spacingAndGlyphs">25924</text>
<line x1="389.71" y1="314.6" x2="389.71" y2="315.9" stroke="#333" stroke-width="0.5" />
<text transform="translate(391.46 316.7) rotate(-90)" x="0" y="0" font-size="4.9" text-anchor="end" fill="#444" textLength="11.6" lengthAdjust="spacingAndGlyphs">25919</text>
<line x1="395.44" y1="314.6" x2="395.44" y2="315.9" stroke="#333" stroke-width="0.5" />
<text transform="translate(397.19 316.7) rotate(-90)" x="0" y="0" font-size="4.9" text-anchor="end" fill="#444" textLength="11.6" lengthAdjust="spacingAndGlyphs">25920</text>
<line x1="401.16" y1="314.6" x2="401.16" y2="315.9" stroke="#333" stroke-width="0.5" />
<text transform="translate(402.91 316.7) rotate(-90)" x="0" y="0" font-size="4.9" text-anchor="end" fill="#444" textLength="11.6" lengthAdjust="spacingAndGlyphs">25918</text>
<line x1="406.89" y1="314.6" x2="406.89" y2="315.9" stroke="#333" stroke-width="0.5" />
<text transform="translate(408.64 316.7) rotate(-90)" x="0" y="0" font-size="4.9" text-anchor="end" fill="#444" textLength="11.6" lengthAdjust="spacingAndGlyphs">25917</text>
<line x1="412.61" y1="314.6" x2="412.61" y2="315.9" stroke="#333" stroke-width="0.5" />
<text transform="translate(414.36 316.7) rotate(-90)" x="0" y="0" font-size="4.9" text-anchor="end" fill="#444" textLength="11.6" lengthAdjust="spacingAndGlyphs">25921</text>
<line x1="418.34" y1="314.6" x2="418.34" y2="315.9" stroke="#333" stroke-width="0.5" />
<text transform="translate(420.09 316.7) rotate(-90)" x="0" y="0" font-size="4.9" text-anchor="end" fill="#444" textLength="11.6" lengthAdjust="spacingAndGlyphs">25922</text>
<line x1="428.61" y1="314.6" x2="428.61" y2="315.9" stroke="#333" stroke-width="0.5" />
<text transform="translate(430.36 316.7) rotate(-90)" x="0" y="0" font-size="4.9" text-anchor="end" fill="#444" textLength="11.6" lengthAdjust="spacingAndGlyphs">25911</text>
<line x1="434.24" y1="314.6" x2="434.24" y2="315.9" stroke="#333" stroke-width="0.5" />
<text transform="translate(435.99 316.7) rotate(-90)" x="0" y="0" font-size="4.9" text-anchor="end" fill="#444" textLength="11.6" lengthAdjust="spacingAndGlyphs">25913</text>
<line x1="439.86" y1="314.6" x2="439.86" y2="315.9" stroke="#333" stroke-width="0.5" />
<text transform="translate(441.61 316.7) rotate(-90)" x="0" y="0" font-size="4.9" text-anchor="end" fill="#444" textLength="11.6" lengthAdjust="spacingAndGlyphs">25910</text>
<line x1="445.49" y1="314.6" x2="445.49" y2="315.9" stroke="#333" stroke-width="0.5" />
<text transform="translate(447.24 316.7) rotate(-90)" x="0" y="0" font-size="4.9" text-anchor="end" fill="#444" textLength="11.6" lengthAdjust="spacingAndGlyphs">25912</text>
<line x1="451.11" y1="314.6" x2="451.11" y2="315.9" stroke="#333" stroke-width="0.5" />
<text transform="translate(452.86 316.7) rotate(-90)" x="0" y="0" font-size="4.9" text-anchor="end" fill="#444" textLength="11.6" lengthAdjust="spacingAndGlyphs">25909</text>
<line x1="456.74" y1="314.6" x2="456.74" y2="315.9" stroke="#333" stroke-width="0.5" />
<text transform="translate(458.49 316.7) rotate(-90)" x="0" y="0" font-size="4.9" text-anchor="end" fill="#444" textLength="11.6" lengthAdjust="spacingAndGlyphs">25914</text>
<line x1="462.36" y1="314.6" x2="462.36" y2="315.9" stroke="#333" stroke-width="0.5" />
<text transform="translate(464.11 316.7) rotate(-90)" x="0" y="0" font-size="4.9" text-anchor="end" fill="#444" textLength="11.6" lengthAdjust="spacingAndGlyphs">25916</text>
<line x1="467.99" y1="314.6" x2="467.99" y2="315.9" stroke="#333" stroke-width="0.5" />
<text transform="translate(469.74 316.7) rotate(-90)" x="0" y="0" font-size="4.9" text-anchor="end" fill="#444" textLength="11.6" lengthAdjust="spacingAndGlyphs">25915</text>
<rect x="489.8" y="227.3" width="7.2" height="7.6" fill="#c8202f"/>
<rect x="489.8" y="234.9" width="7.2" height="8" fill="#0f4f84"/>
<rect x="489.8" y="242.9" width="7.2" height="7.3" fill="#3cb44a"/>
<text x="499.3" y="233" font-size="5.4" fill="#444" textLength="13.6" lengthAdjust="spacingAndGlyphs">CD19</text>
<text x="499.3" y="240.8" font-size="5.4" fill="#444" textLength="13.6" lengthAdjust="spacingAndGlyphs">CD33</text>
<text x="499.3" y="248.7" font-size="5.4" fill="#444" textLength="10.5" lengthAdjust="spacingAndGlyphs">CD3</text>
<text transform="translate(262 233.5) rotate(-90)" x="0" y="0" font-size="8" text-anchor="middle" fill="#444" textLength="113.8" lengthAdjust="spacingAndGlyphs">lineage proportion (normalized)</text>
<text transform="translate(481.1 185.1) rotate(-90)" x="0" y="0" font-size="8.4" text-anchor="middle" fill="#333" textLength="26" lengthAdjust="spacingAndGlyphs">Week 3</text>
<text transform="translate(481.1 235.6) rotate(-90)" x="0" y="0" font-size="8.4" text-anchor="middle" fill="#333" textLength="25.2" lengthAdjust="spacingAndGlyphs">Week 9</text>
<text transform="translate(481.1 290.2) rotate(-90)" x="0" y="0" font-size="8.4" text-anchor="middle" fill="#333" textLength="30.3" lengthAdjust="spacingAndGlyphs">Week 16</text>
<text transform="translate(290.3 158.8) rotate(-45)" x="0" y="0" font-size="7.2" fill="#333" textLength="36.5" lengthAdjust="spacingAndGlyphs">Untreated</text>
<text transform="translate(312.4 153) rotate(-45)" x="0" y="0" font-size="7.2" fill="#333" textLength="38.5" lengthAdjust="spacingAndGlyphs">sgAAVS1 /</text>
<text transform="translate(319.1 159.4) rotate(-45)" x="0" y="0" font-size="7.2" fill="#333" font-style="italic" textLength="50" lengthAdjust="spacingAndGlyphs">rAAV6 HLF-ZE</text>
<text x="402.5" y="146.5" font-size="7" text-anchor="middle" fill="#333" textLength="80" lengthAdjust="spacingAndGlyphs">sgHLF / <tspan font-style="italic">rAAV6 HLF-ZE</tspan></text>
<line x1="334.8" y1="150.9" x2="470.5" y2="150.9" stroke="#9a9a9a" stroke-width="1.6" />
<text x="348.9" y="158.7" font-size="8.4" text-anchor="middle" fill="#333" textLength="16.4" lengthAdjust="spacingAndGlyphs">Total</text>
<text x="398.3" y="158.4" font-size="8.4" text-anchor="middle" fill="#333" textLength="16.6" lengthAdjust="spacingAndGlyphs">ZsG<tspan font-size="5.21" dy="-3.02">−</tspan></text>
<text x="448.2" y="158.4" font-size="8.4" text-anchor="middle" fill="#333" textLength="16.4" lengthAdjust="spacingAndGlyphs">ZsG<tspan font-size="5.21" dy="-3.02">+</tspan></text>
<path d="M94.6 412h.01M100 413.5h.01M96.6 411.7h.01M91.9 412h.01M100 413h.01M85.9 413.5h.01M92 411.9h.01M93.8 410.8h.01M84.2 411.8h.01M99.6 411.2h.01M97 411.1h.01M86.4 410.6h.01M94.5 411.9h.01M98.8 411.9h.01M87.6 411.4h.01M98.8 409.4h.01M88.9 410.8h.01M95.5 412.2h.01M87.5 410.6h.01M100.4 412.4h.01M99.2 412.2h.01M86.8 411.1h.01M86.5 411.2h.01M94.3 411.6h.01M84.1 412.3h.01M89.3 412.6h.01M97.9 412.7h.01M92.2 411.8h.01M96 409.7h.01M84.4 411.1h.01M96.7 411.8h.01M97.4 412.1h.01M90.2 412h.01M84.8 412h.01M87.1 411.4h.01M96.8 412.1h.01M99.8 411.2h.01M90 412.2h.01M92.9 411.8h.01M96.7 412.3h.01M97.6 411.8h.01M100.1 412.1h.01M85.6 412.6h.01M99.6 410.9h.01M89.8 410.9h.01M89.3 412.4h.01M89.4 411.8h.01M86.5 411.6h.01M95.7 411.4h.01M84.8 411.9h.01M100.8 412.8h.01M88 412.1h.01M94.1 411.5h.01M91.2 412.8h.01M84.9 411.7h.01M92.4 412h.01M98.3 410.9h.01M100.1 410.9h.01M94.7 411.8h.01M91.4 412.3h.01M86.5 411.5h.01M91.7 412.5h.01M101 410.5h.01M91.7 413.9h.01M92.3 412h.01M88.9 412.9h.01M90.9 411.4h.01M100.8 411.2h.01M100.3 412.6h.01M89.8 412.7h.01M85.5 412.1h.01M98.7 410.4h.01M90.1 411.6h.01M95.8 413.4h.01M95.3 411.9h.01M96 412.8h.01M88.8 413.4h.01M95.7 411.8h.01M89 410.7h.01M93.9 412.3h.01M84.2 412.6h.01M95.4 412.1h.01M91.9 411.4h.01M97.6 413.1h.01M89.9 412.8h.01M98.1 413.1h.01M90 410.9h.01M95.7 413.4h.01M100.6 410.9h.01M93 412.2h.01M86.8 410.8h.01M92.1 413.7h.01M95.8 412.2h.01M86.9 413.3h.01M97.3 413.1h.01M91.2 412.6h.01M94.6 411.7h.01M96.2 413.2h.01M84.5 411.4h.01M95.1 411.1h.01M87.7 412.4h.01M84.7 413.1h.01M92 411.9h.01M86.3 411.6h.01M89.4 411.7h.01M84.6 411.4h.01M91.9 412.8h.01M94 411.1h.01M88 411.9h.01M90.9 411.9h.01M88.7 412.3h.01M98.1 411.7h.01M90.4 410.7h.01M85.6 411.6h.01M93.3 412.5h.01M100.3 410.9h.01M97.9 413.3h.01M94.9 411.1h.01M90.3 411.2h.01M93.6 411h.01M100.3 410.7h.01M90 412.2h.01M99.2 411.5h.01M93.6 411.9h.01M94.5 411.1h.01M99.2 410.9h.01M90.4 412.5h.01M89 411.7h.01M100.5 413.6h.01M99.5 410.4h.01M94.1 412.1h.01M92.4 409.4h.01M91.1 413h.01M92.4 409.6h.01M88.9 412.4h.01M94.6 411.8h.01M91.5 412.3h.01M98.1 410.4h.01M84.2 412.6h.01M99.9 412.1h.01M97.3 411.9h.01M86.6 411.2h.01M100.8 412.2h.01M92.1 410.7h.01M95 413.1h.01M86 412.8h.01M96.9 412.3h.01M89.7 410.9h.01M89 412.9h.01M90.1 412.1h.01M96.7 412.1h.01M88.3 412h.01M91.7 410.3h.01M93.3 412.8h.01M84.2 411.7h.01M93.8 412.8h.01M96 412.6h.01M99.5 412.7h.01M90.6 413.3h.01M87.3 410.8h.01M89 411.8h.01M98.2 412.2h.01M95.8 412.6h.01M97.3 411.6h.01M99.5 411.3h.01M93.3 411.1h.01M92.5 412.2h.01M94 411.5h.01M97.8 411.3h.01M97.9 411.6h.01M97.5 412h.01M96.3 412.1h.01M100.6 410.5h.01M84.8 411.9h.01M98.3 411.7h.01M100.2 410.7h.01M96.1 411.4h.01M99.6 411.4h.01M86.5 412.6h.01M86.7 412.5h.01M94.6 411.5h.01M90.4 411.8h.01M85.2 410.8h.01M96.6 411.5h.01M98.9 411.3h.01M89.3 411.2h.01M94.2 414h.01M90.4 411.8h.01M84.9 412.1h.01M94.7 412.4h.01M92.6 411h.01M94.6 412.5h.01M88.5 412.6h.01M96.8 412.1h.01M92.8 411.5h.01M90.3 411.4h.01M96.5 411.3h.01M95.1 410.6h.01M85.4 412.1h.01M86.1 412.3h.01M94.1 411.8h.01M92.2 410.1h.01M89.5 411.9h.01M96.3 412.1h.01M84.9 410.6h.01M95.6 410.1h.01M87.8 410.1h.01M95.3 410.3h.01M98 411.1h.01M90 411h.01M88 412.5h.01M89.9 410.9h.01M90.6 410.8h.01M95 410.6h.01M97.7 413.5h.01M92.8 411.2h.01M94.1 413.2h.01M90.7 412.6h.01M85.6 411.3h.01M84.7 411.8h.01M99.1 413.4h.01M84 411.7h.01M92 411h.01M91.3 412.7h.01M91.9 411.5h.01M86.7 411.6h.01M90.4 413.3h.01M86.6 410.7h.01M88.3 412h.01M88.9 411.4h.01M88 412.1h.01M99.7 411.9h.01M90.3 410.7h.01M95.5 412.4h.01M92 411.5h.01M95.4 412.1h.01M88.9 412.6h.01M86.8 413.2h.01M87.4 411.3h.01M85.3 411.8h.01M90.8 411.1h.01M89.3 412.1h.01M92 412.2h.01M96.2 410.5h.01M86.8 411.8h.01M100 410.6h.01M95 414.1h.01M84.1 410.9h.01M85 411.7h.01M84.8 412.8h.01M93.3 410.8h.01M90 412h.01M85.6 410.2h.01M92.3 411.1h.01M99.9 411.3h.01M84.9 411.7h.01M90.8 411.3h.01M90.9 411.7h.01M89.2 411.7h.01M100.5 411.8h.01M109.5 412.8h.01M115.5 412h.01M107.9 412.1h.01M115.7 411.5h.01M122.2 413.3h.01M110.1 412.9h.01M106.8 412.9h.01M116.2 412.2h.01M112.9 412.9h.01M122 412.9h.01M111.7 413.5h.01M110.3 411.4h.01M108.5 412.1h.01M119.6 411.6h.01M120.4 412.1h.01M107.9 411.5h.01M110.7 411.1h.01M116.3 411.4h.01M110.7 410.6h.01M107.3 411.4h.01M109.9 412.1h.01M108.2 411.1h.01M113.6 412.5h.01M116 410.5h.01M121.7 412.8h.01M116.3 413.2h.01M114 411.4h.01M122.7 413.1h.01M118.9 412.1h.01M120.3 412.6h.01M113 411.7h.01M109.4 411.7h.01M111 412.2h.01M107.6 412.6h.01M119.5 412.1h.01M107.4 412h.01M108.7 413h.01M122.6 410.5h.01M116.9 411.8h.01M112.7 411h.01M112.1 410.7h.01M120.6 411.8h.01M118.9 411h.01M109.4 411.3h.01M118.6 413.9h.01M120 411.2h.01M108.5 412.7h.01M114.3 410.1h.01M113.9 413.3h.01M122.4 411.4h.01M115.6 410.7h.01M108.3 412.1h.01M120.3 412.2h.01M123.1 411.8h.01M107.1 412.8h.01M121.5 412.4h.01M113.2 411.8h.01M109.9 411.2h.01M116.1 412.8h.01M110.6 410.8h.01M112.5 411.9h.01M120.8 409.4h.01M120.9 412.6h.01M108.9 412.5h.01M120.6 412.2h.01M109.4 411.9h.01M108.2 412.3h.01M109.9 413.8h.01M120 412.5h.01M121.2 410.7h.01M117.1 411.6h.01M106.7 412.7h.01M115.2 412.4h.01M113.1 412.2h.01M111.9 411.2h.01M113 411.8h.01M114.6 412.2h.01M123.2 412.8h.01M120.4 410.7h.01M117.9 412.5h.01M115.6 411.7h.01M116.6 412.7h.01M118.1 412.6h.01M107.8 412h.01M108 412.6h.01M119.4 411h.01M118.6 412.6h.01M111.2 410h.01M118.7 410.6h.01M117.9 411.3h.01M122.8 410.8h.01M120.8 412.7h.01M119.1 412.4h.01M115.3 412.3h.01M121.7 411.7h.01M115.7 409.5h.01M113.2 411h.01M109.5 411.9h.01M117.6 410.3h.01M116.9 413.1h.01M113.1 410.9h.01M115.9 411.1h.01M118.7 413.2h.01M110.1 410.6h.01M111.7 412.1h.01M121.8 410.7h.01M109.3 412.9h.01M110.3 413h.01M107.6 413.4h.01M121.4 412.6h.01M118.9 412.7h.01M115.5 411.4h.01M121.9 412.1h.01M116.8 411.2h.01M122.9 411.8h.01M108.5 411.7h.01M116.1 412.4h.01M109.7 412.3h.01M116.6 412.7h.01M118.9 413h.01M107.5 413.6h.01M122.8 411.8h.01M111.9 411.2h.01M122.3 412.9h.01M110.4 412.5h.01M114.6 413.5h.01M108.2 411.7h.01M108.1 411.4h.01M109.1 412.2h.01M119.4 412.2h.01M119 411.3h.01M118.6 413.4h.01M122.2 410.7h.01M122.9 412.2h.01M108.3 411.7h.01M110 411.7h.01M112.9 413.2h.01M119.1 411.6h.01M107.9 412.8h.01M112.9 411.3h.01M108.5 412.6h.01M118.1 412.4h.01M114.9 409.8h.01M107.7 412.4h.01M119.4 412h.01M108.5 412.6h.01M114.6 412.8h.01M122.1 410.8h.01M113 412.2h.01M118.3 410.9h.01M119.9 412.6h.01M112.2 412.3h.01M120.9 412.2h.01M113.7 411.9h.01M110.5 412.1h.01M111.1 412.2h.01M108.1 414.5h.01M115.7 411.6h.01M113.1 411.6h.01M112.5 412.1h.01M120.3 410.4h.01M112.6 411.9h.01M106.8 411.9h.01M113 410.9h.01M115.3 411.3h.01M123.1 411.7h.01M114 412.3h.01M111.2 411.8h.01M122.7 412.3h.01M107.4 412.9h.01M113.2 411.7h.01M116.6 412.8h.01M121.8 412.7h.01M107.1 412.9h.01M106.9 411.8h.01M121.4 412.8h.01M120.5 411.2h.01M123.5 412.4h.01M119.4 411.5h.01M119.8 412.2h.01M140.2 411.9h.01M139.8 411.8h.01M136.1 412.1h.01M135.2 411.5h.01M143.1 411.5h.01M141.1 411.8h.01M137.9 410.2h.01M133.7 412.3h.01M131.9 412.4h.01M127.7 412.6h.01M139.4 412.9h.01M135.6 412.6h.01M139.3 411.6h.01M133.5 413.1h.01M134.6 412.8h.01M138.5 411.3h.01M141 411.7h.01M129.9 411.8h.01M139.8 411.9h.01M129.2 412.8h.01M140.3 411.7h.01M135.1 412.1h.01M140.2 411.9h.01M139.8 413.1h.01M137.3 413.1h.01M139 411.2h.01M127.8 412.9h.01M141.7 411.3h.01M128.6 412h.01M132.9 411.2h.01M128.9 411.4h.01M131 411h.01M132.3 411.9h.01M139.2 412.3h.01M142.8 411.6h.01M141.8 412.1h.01M133.9 412.5h.01M134.7 412.1h.01M134.8 411.8h.01M139.8 412.5h.01M138.4 413.6h.01M139.7 410.6h.01M140.2 413.4h.01M134.2 412.6h.01M141.6 413h.01M138.9 412.5h.01M132.7 411.7h.01M131.5 412.5h.01M130.6 413.3h.01M136 411.5h.01M129 412.6h.01M137.2 412.2h.01M132.1 411.5h.01M127.6 411.4h.01M129.2 411.2h.01M127.6 414h.01M140.8 412.6h.01M132.7 411.6h.01M129.9 412.1h.01M127.6 410.8h.01M139.6 411.5h.01M135.1 411.6h.01M142.2 412.8h.01M137.2 412.4h.01M134.3 412h.01M134.5 411.6h.01M132.2 412.5h.01M140.6 410.9h.01M131 411.4h.01M138.1 412.2h.01M139.2 412.1h.01M134 412.7h.01M140 410.3h.01M132.5 412.1h.01M135.8 412.3h.01M128.8 413.2h.01M137.7 413.4h.01M128.2 412.9h.01M134.6 412h.01M129.9 412.1h.01M128.6 411h.01M138.3 411.9h.01M129 411.2h.01M132.3 411.2h.01M129 412.2h.01M133 411.6h.01M133 412h.01M130.8 412.3h.01M129.1 412.8h.01M141.3 412.6h.01M134.7 410.7h.01M141.4 411.3h.01M132.1 411.7h.01M131.7 411.5h.01M133 412.9h.01M135.6 411.3h.01M134.7 412.9h.01M138 412.6h.01M134.3 412.5h.01M129.6 413.6h.01M132.4 411.2h.01M133.3 412.9h.01M130.3 412.6h.01M134.6 411.9h.01M129.2 412.2h.01M139.6 411.6h.01M128.8 412.1h.01M137.5 412.2h.01M128 410.6h.01M134.8 411.5h.01M138.6 411.2h.01M135.7 410.9h.01M137.4 413.3h.01M141.1 411.5h.01M132.6 411h.01M137.5 410.5h.01M133.4 410.7h.01M140 409.9h.01M133.7 412.7h.01M141.2 411.4h.01M139.5 411.9h.01M139.1 412.6h.01M130.3 411.7h.01M134.1 411.1h.01M131.6 412.3h.01M137.4 413h.01M134.8 411.4h.01M132.1 410.3h.01M138 411.6h.01M131.4 413.1h.01M135.6 411.9h.01M141.9 411.8h.01M132.9 412.7h.01M137.3 410.8h.01M128.2 410.1h.01M135.5 412.1h.01M128.2 410.8h.01M131.1 410.4h.01M131 412h.01M134.8 411.5h.01M130.6 411.8h.01M143.2 412.2h.01M128.5 411.3h.01M129.3 410.5h.01M142.2 412h.01M140.9 411.8h.01M130.2 412.6h.01M131.8 411.4h.01M139 411.7h.01M135.4 411.2h.01M141.1 411.9h.01M141.1 412.1h.01M142.1 413.3h.01M136.4 412.8h.01M132 411.1h.01M128.1 412h.01M129.4 410.9h.01M128.8 411.9h.01M142.8 411.1h.01M135.3 411.2h.01M137 413.2h.01M132.7 412.5h.01M137.6 411.4h.01M141.2 411.7h.01M129.9 412.6h.01M127.6 412.5h.01M127.6 412.2h.01M132.3 411.8h.01M138.1 411.3h.01M136.8 412.2h.01M153.8 413.1h.01M160.3 409.8h.01M157.2 413.1h.01M153.8 412.4h.01M150.7 411h.01M159.3 411.2h.01M165.5 413.2h.01M165.7 413.1h.01M157.6 412.8h.01M155.6 411.4h.01M162 412.3h.01M165.2 412.1h.01M158.1 411.9h.01M159.2 413h.01M158.9 411.6h.01M161.5 411.6h.01M155.2 410.8h.01M161.8 410.7h.01M162 412.3h.01M162 411.6h.01M153 412.6h.01M154 413.1h.01M149.5 413.2h.01M159.1 412.8h.01M165.6 411.7h.01M156.6 410.5h.01M159 412.1h.01M158.5 411.3h.01M159.5 410.9h.01M157.7 412.6h.01M160.2 412.5h.01M153.9 412.6h.01M160.7 412.1h.01M152.3 411.8h.01M155.4 412.4h.01M157.5 413.1h.01M162.9 412.3h.01M161.8 411.2h.01M160.6 413.6h.01M149.9 411.1h.01M158.3 410.8h.01M152.7 413.3h.01M162.7 413.9h.01M154.9 412.3h.01M160.4 413.6h.01M155.1 414h.01M155.9 411h.01M150.7 411h.01M163.4 411.6h.01M165.1 411.5h.01M157.7 411.9h.01M153.5 412.7h.01M155.5 411.3h.01M164.3 412h.01M164 412.2h.01M161.5 412.5h.01M164.3 412.4h.01M159.5 412.3h.01M165.2 412.3h.01M152.8 412.2h.01M117 407.2h.01M139 407.7h.01M151.5 403.2h.01M159.5 403.2h.01" stroke="#000" stroke-width="1.9" stroke-linecap="round" fill="none" opacity="0.95"/>
<path d="M113.7 389.7h.01M113.7 372.5h.01M114.5 372.8h.01M109.4 373.2h.01M107.8 369.6h.01M109.8 374.5h.01M120.6 377.3h.01M110.5 376.6h.01M122.4 371.7h.01M111 370.8h.01M112.8 371.2h.01M123.1 370.8h.01M108 373.4h.01M112.8 373.7h.01M116.4 375.4h.01M111 370.2h.01M118.9 375h.01M106.6 372.1h.01M113.6 374.7h.01M107.5 374.3h.01M107.2 372.6h.01M111.6 372.1h.01M117.6 379.2h.01M118.6 379.5h.01M122.6 385.2h.01M122.3 371.5h.01M114.1 374.1h.01M122.2 372.7h.01M115.9 371.4h.01M114.9 371.2h.01M110 371.7h.01M112.3 372.2h.01M122.9 372.9h.01M119.1 369.5h.01M120.6 374.2h.01M110.7 370.9h.01M121.4 371.6h.01M108.8 373h.01M119.1 371.9h.01M120.5 372.4h.01M121.3 373.1h.01M118.8 372.9h.01M116.9 371.6h.01M107.6 372.7h.01M108.1 374.8h.01M121.7 371.8h.01M107.7 371.9h.01M119.3 373.1h.01M111.6 372.3h.01M121.8 374.4h.01M109.1 372.8h.01M110 368.4h.01M112.5 374.5h.01M117.6 371.4h.01M108.9 373.1h.01M116.2 380h.01M109 374.5h.01M121.8 372.3h.01M117.8 371.7h.01M111.5 375.5h.01M110.9 371.4h.01M117.2 373.3h.01M122.8 372.2h.01M108.3 373.9h.01M120.9 368.1h.01M113 371h.01M118.8 373.7h.01M108.1 371.6h.01M118.7 372h.01M111.6 372.9h.01M122.5 370.8h.01M108.3 373.6h.01M110.3 373.7h.01M108.3 373h.01M122.4 377.3h.01M119.6 372.2h.01M115.6 370.3h.01M113.9 372.6h.01M115.9 389h.01M115.2 376.6h.01M113 371.1h.01M120.3 373.1h.01M108.9 370.7h.01M114 377.1h.01M116.3 373h.01M110.9 369.7h.01M119.4 371.7h.01M118.3 371.6h.01M108.2 387.1h.01M108 371.7h.01M117 371.1h.01M108.3 370.2h.01M110.8 369.9h.01M108.6 371.5h.01M112.2 373.7h.01M121.4 379.5h.01M111.3 371.8h.01M113.6 373h.01M123.1 374h.01M118.9 374.8h.01M122.5 370.9h.01M113.7 374.4h.01M118 372.6h.01M118.6 374.4h.01M120 372.5h.01M130.8 382.9h.01M129.4 373.2h.01M135.3 375h.01M137.6 371.5h.01M135 371.9h.01M129 373.5h.01M135.9 370.8h.01M132.3 374.3h.01M132.5 373.9h.01M135 373h.01M134.6 373.1h.01M130.6 372.1h.01M135.5 372.6h.01M128 371.5h.01M142.1 371h.01M133.1 372.7h.01M131.2 372.7h.01M141.8 372.5h.01M135.3 370.5h.01M138.2 374.5h.01M139.8 376h.01M137.3 374.9h.01M132.8 372.5h.01M133.4 374.3h.01M142.3 374.1h.01M138.9 372.1h.01M137.4 370.1h.01M139.6 374.5h.01M139.1 372.3h.01M135 381.1h.01M143.4 371.7h.01M138.9 382.5h.01M137.9 370.9h.01M140.1 371.2h.01M137.3 370.9h.01M142.8 372.1h.01M134.3 376.7h.01M142.6 373.9h.01M136 369.9h.01M137.7 373.4h.01M135.4 376.8h.01M138 368.4h.01M132.6 371.1h.01M128.2 371.2h.01M132.3 373h.01M131.4 375.7h.01M135.1 373.9h.01M131.6 371.6h.01M129.9 372.4h.01M139.8 377.4h.01M132.2 371.4h.01M135.2 373.7h.01M129.8 372.6h.01M129.2 372.2h.01M141.5 374.5h.01M142.6 371h.01M127.5 373.5h.01M143.3 372.7h.01M127.6 375.5h.01M135 377.4h.01M143.3 372.9h.01M132.4 374.2h.01M134.8 371.5h.01M142.7 373.4h.01M131.4 369.7h.01M129.2 370.1h.01M135.9 372.5h.01M138.3 373h.01M128 371.7h.01M134 373.1h.01M131.2 373.8h.01M135.4 371.3h.01M128.6 374h.01M141.7 373.1h.01M128.2 382.6h.01M142.5 370.7h.01M140.9 371.9h.01M130.8 370.5h.01M130.4 371.6h.01M141.8 383.7h.01M129.6 375.5h.01M141.3 371.4h.01M143.2 373.3h.01M142.3 369.9h.01M128.7 373.5h.01M138 375.7h.01M133.1 372.8h.01M130.2 374h.01M131.8 372.6h.01M142.7 372.4h.01M128 386.5h.01M129 372.6h.01M137.3 375.2h.01M139.1 372h.01M129.3 371.3h.01M142.7 378h.01M132 371h.01M135.4 369.5h.01M128.2 375h.01M131 373.3h.01M132.3 371.3h.01M135.6 373.2h.01M142.6 374.1h.01M140.2 379.8h.01M140.1 374h.01M130.6 372.2h.01M138.5 372.1h.01M131.6 369.9h.01M133.2 372.1h.01M138.3 376.1h.01M143.3 373.5h.01M136.8 373.2h.01M137.3 369h.01M129.7 373h.01M139.3 370.1h.01M159.8 370.8h.01M153.7 372.4h.01M150.7 373.1h.01M159 373.7h.01M162.4 373.8h.01M163 374.1h.01M151.4 372.3h.01M164.2 372.6h.01M163.5 373h.01M162 371.8h.01M157.2 375h.01M157.1 369.4h.01M165.7 386.1h.01M161.5 371.4h.01M157.3 372.7h.01M152.8 370.2h.01M158.4 371.7h.01M164.5 373h.01M155.1 374.3h.01M155.4 368.1h.01M165.5 371.7h.01M152.2 370.8h.01M155 373.3h.01M154.3 374.3h.01M151.8 373h.01M158.1 372.2h.01M162.2 369.9h.01M164.7 375.6h.01M164.7 371h.01M158.4 373.7h.01M161.9 370.5h.01M156.5 374.2h.01M153.9 373.9h.01M149.6 370.8h.01M164.1 377.9h.01M159.4 396h.01M162.5 376.4h.01M158.5 372.3h.01M154.5 376.4h.01M165.9 385h.01M165.1 371h.01M163.1 371.7h.01M153.7 372.4h.01M151.9 371.5h.01M152.7 373.1h.01M163.2 373h.01M163.9 372.6h.01M156.4 373.7h.01M155.9 383.2h.01M159.8 371.2h.01M153 372.1h.01M153.6 373.6h.01M157 370.4h.01M154.1 373.5h.01M157.8 372.9h.01M160.3 372h.01M164.2 374h.01M158.6 371h.01M158.4 371.8h.01M163.2 370.7h.01M154.9 373.9h.01M154.4 374h.01M156.2 371.2h.01M158.3 373.5h.01M160.4 372.3h.01M151.9 368.6h.01M153.8 373.6h.01M152.4 376.2h.01M150.1 372.5h.01M152.7 374h.01M165.6 372.9h.01M165.9 374h.01M164.2 371.2h.01M161.1 371.1h.01M150.9 394.9h.01M150.5 373.5h.01M165.7 372.8h.01M159.9 380.3h.01M157.7 369.9h.01M161.1 384.7h.01M151.9 373.1h.01M157.1 374h.01M162 372.7h.01M157.5 374.2h.01M157.1 376.6h.01M162.6 371.6h.01M160.5 374.4h.01M164.9 369.5h.01M159.8 374.5h.01M163.6 372h.01M164.1 371.9h.01M152.5 374h.01M159 370.9h.01M160.6 389.9h.01M154.9 373.7h.01M158.3 376.2h.01M160.9 373.4h.01M155.5 374.5h.01M155.7 374.8h.01M154.4 370.4h.01M154.9 368.5h.01M156.3 376.3h.01M164 372.4h.01M157.7 371h.01M153 371.7h.01M159.4 371.8h.01M164.5 377h.01M162 373.6h.01M163.8 373.4h.01M161 375h.01M155.1 375.3h.01M150.1 369.3h.01M154.6 371.7h.01M151.2 373.2h.01M155.1 374.7h.01M157.9 371.7h.01M156.2 369.8h.01M151.1 373.2h.01M162.3 372.4h.01M151.9 375.2h.01M152.8 372.5h.01M154.5 375.5h.01M161.5 377.3h.01M151.6 380.3h.01M164.1 383.7h.01M156.7 371.3h.01M164.7 371.3h.01M157.7 379.9h.01M151.6 371h.01M162.3 392.8h.01M162.2 372.4h.01M153.1 374.5h.01M164.7 370.1h.01M165.8 371.9h.01M157.6 374h.01M157.5 380.1h.01M164 372.8h.01M152.7 375.1h.01M153.9 371.3h.01M162.9 372.8h.01M156.1 371.3h.01M161.1 370.2h.01M159.3 374h.01M162.3 374.9h.01M158.9 372.6h.01M150.7 370.7h.01M165.2 374.8h.01M163.7 373.4h.01M156.5 368.3h.01M152 373.2h.01M160 372.9h.01M161.7 373.7h.01M159.1 369h.01M162 374.8h.01M161.3 373.9h.01M157.2 372.9h.01M150.7 372.3h.01M154.9 371.4h.01M149.9 401.1h.01M156.4 371.2h.01M156.5 370.4h.01M149.6 371.7h.01M161.2 371.7h.01M165 370.9h.01M151.4 371.4h.01M160.4 378.5h.01M159.7 373.9h.01M157.4 372.2h.01M165.5 375.5h.01M157.8 372.6h.01M160.5 372h.01M157.5 370.8h.01M155.4 379.8h.01M157 372.5h.01M157.7 373.6h.01M160.7 373.1h.01M161.1 373.1h.01M157.5 373.3h.01M149.7 375.2h.01M162.8 371.7h.01M162.7 376h.01M151.8 371.5h.01M152.6 370h.01M152.9 369.6h.01M159.2 370.3h.01M158.2 371.9h.01M158 370.9h.01M154.9 375.4h.01M157.2 373.7h.01M161.7 373.9h.01M161.5 373.8h.01M160 370.1h.01M163.8 373.5h.01M163.1 372.6h.01M161.7 374.6h.01M157.1 372.7h.01M162.6 376.3h.01M157.2 372.3h.01M156.7 372.2h.01M159 383.6h.01M152.7 374.6h.01M156.5 374.4h.01M155.8 370h.01M163.3 372.9h.01M156.5 371.1h.01M156.1 374.7h.01M161.5 372.5h.01M160.8 371.1h.01M164.9 375.9h.01M151.8 372.1h.01M165.7 371.9h.01M149.9 371.7h.01M156.3 372.2h.01M154.5 372.7h.01M153.8 372.5h.01M156.9 370.9h.01M165.7 370h.01M154.2 369.7h.01M154.5 381h.01M151 373.3h.01M161 372.7h.01M150.5 370.8h.01M163 373.4h.01M161.2 372.2h.01M155.8 372.6h.01M160 371.8h.01M150.4 370.9h.01M156.2 373.7h.01M154.2 370.3h.01M165.4 373.7h.01M150.6 372.8h.01M150.8 376.3h.01M164.2 368.3h.01M152.2 370.1h.01M153.2 370.6h.01M162.2 372.1h.01M157.6 371.6h.01M163.8 376h.01M151.8 369.8h.01M154.4 378.7h.01M154.2 373.7h.01M157.6 372.4h.01M152.1 375h.01M155.1 372.9h.01M152.8 372.2h.01M152.6 369.5h.01M150.6 373.6h.01M151.5 376h.01M154.6 375h.01M161.7 380.7h.01M158.4 373h.01M160.7 372.4h.01M164.5 374.2h.01M154.3 374.8h.01M152.2 378.1h.01M165.6 372.5h.01M153 374.1h.01M163.9 374.1h.01M154.1 371.7h.01M157.3 369.9h.01M151.5 375.7h.01M162.6 374.1h.01M158.8 373.2h.01M164.3 371h.01M159.7 370.4h.01M162.6 377.1h.01M156.4 385.5h.01M160.7 371.6h.01M156.8 371.9h.01M152.5 373.5h.01M163.9 374.3h.01M154.6 373h.01M154.1 373.2h.01M165.3 371.9h.01M151.2 372.6h.01M152 376h.01M153.7 372.4h.01M149.6 372.1h.01M165.1 372.4h.01M160 371.9h.01M152.5 372.8h.01M158.7 373.9h.01M158.7 369h.01M158.9 374.2h.01M156 374.7h.01M156.8 373.7h.01M161.4 373.1h.01M152.9 371.4h.01M154.6 368.8h.01M157.2 371.3h.01M151.2 371.9h.01M151 373.7h.01M162.1 371h.01M164.5 371.8h.01M150.9 371.6h.01M160.9 374.1h.01M163.2 372.9h.01M162.4 376.2h.01M156 399.5h.01M157.8 375.5h.01M163.8 370.9h.01M151.7 370.7h.01M158.8 374.3h.01M165.1 374.9h.01M165.1 374.1h.01M165.5 370.1h.01M162.6 373.3h.01M164.9 370.3h.01M151.5 374h.01M162.5 373.1h.01M151.8 372.3h.01M157.6 374.8h.01M165.8 372.9h.01M164.9 369.5h.01M155.8 373.5h.01M162.4 374.3h.01M158.3 372.3h.01M151.1 373.2h.01M150.3 371.8h.01M153.8 370.7h.01M159.6 376.8h.01M152 373.6h.01M152.7 368.2h.01M165.3 372.1h.01M163.2 371.5h.01M151.4 369.1h.01M160.5 372.3h.01M159.8 371.5h.01M159.4 369.8h.01M165.6 371.9h.01M158.9 371.5h.01M151.1 373.2h.01M156.8 371.3h.01M158.3 368.7h.01M161.8 369.6h.01M153.7 373.9h.01M150.1 370.2h.01M165.5 372.8h.01M163.7 370.8h.01M157.8 373.3h.01M165.1 374.4h.01M152.4 373.5h.01M154.4 373.7h.01M161.3 371.4h.01M165 372.5h.01M160.9 370.1h.01M151.8 373.5h.01M164.5 373.4h.01M161.1 368.8h.01M165.3 375.1h.01M163.2 386.2h.01M160.4 385.6h.01M150 373.4h.01M151.8 374h.01M157.7 370.2h.01M152.2 374h.01M159.3 385.4h.01M150.4 372.8h.01M152 369.7h.01M159.6 370.9h.01M165 372.7h.01M158.5 374.8h.01M150 373.1h.01M156.9 374h.01M155.8 371.4h.01M153.3 375.4h.01M157.2 371.5h.01M153.5 371.9h.01M162.3 373.8h.01M158.3 373.5h.01M155.1 377h.01M151.5 373h.01M156.8 374.2h.01M164.4 373.8h.01M163.6 371.2h.01M157.9 371.8h.01M159 386.7h.01M158.9 370.9h.01M160.9 370.1h.01M162.5 370.7h.01M162.8 373.4h.01M154.4 374.6h.01M153.7 375.4h.01M152.3 373.1h.01M154.5 372.1h.01M152.1 371.7h.01M165.5 372.3h.01M157.9 374.2h.01M165 369.6h.01M163.7 373.1h.01M165.7 374.3h.01M156.8 378.1h.01M165.6 378.9h.01M161 370.8h.01M164.1 371.4h.01M160.7 377.9h.01M165.9 371.3h.01M155.4 374.3h.01M151.2 373.2h.01M152.8 372.1h.01M151.7 372.6h.01M156.5 367.8h.01M158.4 380.3h.01M163.8 375.8h.01M163.9 373.6h.01M164.7 373.4h.01M165.9 373.9h.01M158.9 370.1h.01M151.6 371.9h.01M163.2 370.5h.01M157.3 370.3h.01M160.5 373.3h.01M161.2 371.7h.01M162 371h.01M157.9 370.2h.01M165.5 373.4h.01M163.8 374.4h.01M152.3 373.4h.01M150 380.5h.01M156.8 371.1h.01M161.6 373.2h.01M165 373.3h.01M164.5 369.5h.01M152.8 368.6h.01M153.8 371.5h.01M164.1 375.8h.01M160 370.9h.01M160 372.4h.01M154.7 374.1h.01M155.8 372.1h.01M160.1 371.2h.01M160.5 371.4h.01M156.3 374h.01M157.4 379.8h.01M155.5 371.5h.01M152.7 372.2h.01M152.4 370.5h.01M157.5 373.5h.01M154.1 372.6h.01M149.9 374.2h.01M150.1 370.6h.01M158 372.1h.01M154.4 383h.01M158.3 377.4h.01M161 371.8h.01M151.2 371.7h.01M159.5 371.1h.01M157 371.7h.01M164.1 372.6h.01M154.1 369.3h.01M158.3 373.7h.01M162.6 372.7h.01M162.3 370.6h.01M164 372.3h.01M153.6 373.6h.01M154.2 370.3h.01M165.9 371.4h.01M154.9 371.3h.01M157.6 371.1h.01M152.5 374.7h.01" stroke="#d8101e" stroke-width="1.7" stroke-linecap="round" fill="none" opacity="0.88"/>
<rect x="80.3" y="365.4" width="90.2" height="51.1" fill="none" stroke="#333" stroke-width="0.8"/>
<line x1="77.8" y1="413.1" x2="79.9" y2="413.1" stroke="#333" stroke-width="0.5" />
<text x="76.8" y="415.1" font-size="5.8" text-anchor="end" fill="#444">1</text>
<line x1="77.8" y1="403.23" x2="79.9" y2="403.23" stroke="#333" stroke-width="0.5" />
<text x="76.8" y="405.23" font-size="5.8" text-anchor="end" fill="#444">2</text>
<line x1="77.8" y1="393.35" x2="79.9" y2="393.35" stroke="#333" stroke-width="0.5" />
<text x="76.8" y="395.35" font-size="5.8" text-anchor="end" fill="#444">3</text>
<line x1="77.8" y1="383.48" x2="79.9" y2="383.48" stroke="#333" stroke-width="0.5" />
<text x="76.8" y="385.48" font-size="5.8" text-anchor="end" fill="#444">4</text>
<line x1="77.8" y1="373.6" x2="79.9" y2="373.6" stroke="#333" stroke-width="0.5" />
<text x="76.8" y="375.6" font-size="5.8" text-anchor="end" fill="#444">5</text>
<line x1="106.4" y1="362.9" x2="166.8" y2="362.9" stroke="#777" stroke-width="1.5" />
<text x="136.9" y="353.3" font-size="6.8" text-anchor="middle" fill="#333" textLength="23.7" lengthAdjust="spacingAndGlyphs">sgHLF /</text>
<text x="133.1" y="361" font-size="6.8" text-anchor="middle" fill="#333" font-style="italic" textLength="41.3" lengthAdjust="spacingAndGlyphs">rAAV6 HLF-ZE</text>
<text transform="translate(60.6 391.3) rotate(-90)" x="0" y="0" font-size="6.8" text-anchor="middle" fill="#444" textLength="45" lengthAdjust="spacingAndGlyphs">targeted channel</text>
<text transform="translate(68.8 391.3) rotate(-90)" x="0" y="0" font-size="6.8" text-anchor="middle" fill="#444" textLength="32" lengthAdjust="spacingAndGlyphs">(HEX; x10<tspan font-size="4" dy="-2">3</tspan><tspan dy="2">)</tspan></text>
<circle cx="178.5" cy="373.4" r="2.6" fill="#666"/>
<circle cx="178.5" cy="380.8" r="2.6" fill="#e0707c"/>
<text x="183.2" y="375.5" font-size="6.2" fill="#333" textLength="30" lengthAdjust="spacingAndGlyphs">Untargeted</text>
<text x="183.2" y="382.9" font-size="6.2" fill="#333" textLength="24" lengthAdjust="spacingAndGlyphs">Targeted</text>
<line x1="80" y1="420.8" x2="80" y2="468.9" stroke="#333" stroke-width="0.9" />
<line x1="79.6" y1="468.7" x2="170.6" y2="468.7" stroke="#333" stroke-width="0.9" />
<line x1="170.2" y1="421.2" x2="170.2" y2="469" stroke="#555" stroke-width="0.9" />
<line x1="77.8" y1="421.9" x2="80" y2="421.9" stroke="#333" stroke-width="0.5" />
<text x="77.2" y="423.7" font-size="5.2" text-anchor="end" fill="#444" textLength="12.5" lengthAdjust="spacingAndGlyphs">100%</text>
<line x1="77.8" y1="433.25" x2="80" y2="433.25" stroke="#333" stroke-width="0.5" />
<text x="77.2" y="435.05" font-size="5.2" text-anchor="end" fill="#444" textLength="9.4" lengthAdjust="spacingAndGlyphs">75%</text>
<line x1="77.8" y1="444.6" x2="80" y2="444.6" stroke="#333" stroke-width="0.5" />
<text x="77.2" y="446.4" font-size="5.2" text-anchor="end" fill="#444" textLength="9.4" lengthAdjust="spacingAndGlyphs">50%</text>
<line x1="77.8" y1="455.95" x2="80" y2="455.95" stroke="#333" stroke-width="0.5" />
<text x="77.2" y="457.75" font-size="5.2" text-anchor="end" fill="#444" textLength="9.4" lengthAdjust="spacingAndGlyphs">25%</text>
<line x1="77.8" y1="467.3" x2="80" y2="467.3" stroke="#333" stroke-width="0.5" />
<text x="77.2" y="469.1" font-size="5.2" text-anchor="end" fill="#444" textLength="6.5" lengthAdjust="spacingAndGlyphs">0%</text>
<rect x="104.9" y="454.86" width="18.8" height="12.54" fill="#f7941d" stroke="#333" stroke-width="0.8"/>
<text x="114.3" y="452.66" font-size="6.2" text-anchor="middle" fill="#333" textLength="16.2" lengthAdjust="spacingAndGlyphs">27.4%</text>
<rect x="126.5" y="456.13" width="18.8" height="11.27" fill="#5e246c" stroke="#333" stroke-width="0.8"/>
<text x="135.9" y="453.93" font-size="6.2" text-anchor="middle" fill="#333" textLength="16.2" lengthAdjust="spacingAndGlyphs">24.6%</text>
<rect x="148.2" y="427.12" width="18.7" height="40.28" fill="#3cb54a" stroke="#333" stroke-width="0.8"/>
<text x="157.55" y="424.92" font-size="6.2" text-anchor="middle" fill="#333" textLength="16.2" lengthAdjust="spacingAndGlyphs">88.5%</text>
<line x1="92.3" y1="468.7" x2="92.3" y2="470.6" stroke="#333" stroke-width="0.5" />
<text x="92.3" y="477.4" font-size="5.8" text-anchor="middle" fill="#333" textLength="24.6" lengthAdjust="spacingAndGlyphs">Untreated</text>
<line x1="113.6" y1="468.7" x2="113.6" y2="470.6" stroke="#333" stroke-width="0.5" />
<text x="113.6" y="477.4" font-size="5.8" text-anchor="middle" fill="#333" textLength="11.4" lengthAdjust="spacingAndGlyphs">Total</text>
<line x1="135.6" y1="468.7" x2="135.6" y2="470.6" stroke="#333" stroke-width="0.5" />
<text x="135.6" y="477.4" font-size="5.8" text-anchor="middle" fill="#333" textLength="10.4" lengthAdjust="spacingAndGlyphs">ZsG-</text>
<line x1="156.3" y1="468.7" x2="156.3" y2="470.6" stroke="#333" stroke-width="0.5" />
<text x="156.3" y="477.4" font-size="5.8" text-anchor="middle" fill="#333" textLength="12.5" lengthAdjust="spacingAndGlyphs">ZsG+</text>
<text transform="translate(61.6 444.6) rotate(-90)" x="0" y="0" font-size="7" text-anchor="middle" fill="#444" textLength="31" lengthAdjust="spacingAndGlyphs">HDR alleles</text>
<ellipse cx="427.87" cy="385.94" rx="1.9" ry="4.2" fill="#d81c18" opacity="0.8"/>
<ellipse cx="433.42" cy="385.94" rx="1.9" ry="4.2" fill="#d81c18" opacity="0.8"/>
<ellipse cx="438.97" cy="385.94" rx="1.9" ry="4.2" fill="#d81c18" opacity="0.8"/>
<ellipse cx="444.52" cy="385.94" rx="1.9" ry="4.2" fill="#d81c18" opacity="0.8"/>
<ellipse cx="450.07" cy="385.94" rx="1.9" ry="4.2" fill="#d81c18" opacity="0.8"/>
<ellipse cx="455.62" cy="385.94" rx="1.9" ry="4.2" fill="#d81c18" opacity="0.8"/>
<ellipse cx="461.18" cy="385.94" rx="1.9" ry="4.2" fill="#d81c18" opacity="0.8"/>
<ellipse cx="466.73" cy="385.94" rx="1.9" ry="4.2" fill="#d81c18" opacity="0.8"/>
<path d="M428 389.5h.01M428.3 393.8h.01M426.4 387.3h.01M427 389h.01M427 384.1h.01M429.4 386.2h.01M427 389.5h.01M427.9 389.2h.01M428.5 387.2h.01M427.8 387.2h.01M427.5 382.8h.01M429 381.9h.01M428.5 385.8h.01M427.4 387.1h.01M428.4 390.4h.01M428.7 384.4h.01M427.5 387.8h.01M427.6 383.9h.01M427.5 387.7h.01M428.2 387.7h.01M427.8 385.7h.01M427.4 383.1h.01M427.9 387h.01M427.4 386.8h.01M427.8 387.3h.01M428.3 391h.01M428.8 383.6h.01M427.8 387h.01M428.4 388.7h.01M426.6 384.9h.01M427.8 389.3h.01M428.6 382h.01M427.4 386.2h.01M427 385.1h.01M428.1 390.3h.01M428.5 386.6h.01M426.8 389.7h.01M428.2 383.8h.01M428.4 385.7h.01M428.1 383.7h.01M433 385.6h.01M434.1 388h.01M434.4 384.7h.01M434.6 384h.01M432.8 383.5h.01M431.9 385.5h.01M432.4 381.4h.01M432.8 381.4h.01M433.5 384.2h.01M432.7 389.3h.01M434.8 383.5h.01M433.1 385.2h.01M433 397.3h.01M433 384.7h.01M433.7 387.5h.01M432.8 385.5h.01M433.5 384h.01M433.6 383h.01M434.4 382.2h.01M432.9 384.2h.01M434.2 386.2h.01M432.3 385.8h.01M434.2 386.4h.01M433.5 388.1h.01M433.5 386.9h.01M432.8 389.8h.01M431.2 387.2h.01M433.5 386.5h.01M433 388.9h.01M433.9 389.9h.01M432.7 385.3h.01M434.4 389.2h.01M433.6 388.5h.01M432.8 389.2h.01M432.7 386.3h.01M432.2 385.5h.01M434.7 391.9h.01M433.7 384.6h.01M438.4 387.1h.01M439.3 387.3h.01M439.4 383h.01M440 383h.01M439.1 382.7h.01M439.3 388.8h.01M439.7 393.9h.01M439.5 387.7h.01M438.4 388h.01M440.2 385.7h.01M438.4 387.9h.01M438.5 388.9h.01M439 387.7h.01M439.5 387.3h.01M439.1 384.9h.01M438 389.5h.01M439.5 384.2h.01M439.6 389.5h.01M438.1 387.2h.01M439.9 386.2h.01M439.9 385.5h.01M438.8 389.7h.01M439.6 387h.01M439.9 394.4h.01M439 391.1h.01M438.8 387.6h.01M439.8 400.7h.01M438.1 386.9h.01M439.8 388.1h.01M439.8 389.5h.01M439.3 386.6h.01M437.8 385.3h.01M439.3 386.7h.01M439.2 387.9h.01M444 384.7h.01M444 388.1h.01M444.9 387.3h.01M445.1 387h.01M444.1 384.3h.01M444.6 384.8h.01M445.4 388.1h.01M443.9 387.8h.01M444.4 388.5h.01M443.8 389.9h.01M444.6 388.3h.01M444.2 385.6h.01M443.5 385.8h.01M444.2 391.5h.01M445.1 391h.01M445.1 391.3h.01M445.1 386.6h.01M443.8 389.2h.01M443.5 383h.01M444.4 383.7h.01M444.4 392.3h.01M445 389.4h.01M445 384.8h.01M444.5 385.3h.01M444.3 386.3h.01M445.1 384.2h.01M444.9 389.7h.01M445.2 389.2h.01M445.4 388.4h.01M444.5 384.6h.01M445.5 387.7h.01M445 384.9h.01M445.3 393.1h.01M445.7 387h.01M444.9 387.1h.01M444.7 386.2h.01M445.3 384.9h.01M443.4 383.7h.01M445.6 384.4h.01M444.3 384.6h.01M450.8 385.8h.01M449.2 384h.01M450.7 386.2h.01M450.7 390.6h.01M451 400.5h.01M450.3 396.5h.01M451 385.1h.01M449 397.2h.01M449.3 386.9h.01M450.8 391.9h.01M449 385.1h.01M450.4 386.8h.01M449.9 386.9h.01M449.9 394.2h.01M450.8 388.4h.01M450.5 389.9h.01M451.2 387.5h.01M450.7 381.8h.01M450.4 388h.01M450.8 388h.01M450 387h.01M450.6 385.8h.01M451.4 387.4h.01M450.3 390.2h.01M451 387.6h.01M449.8 390h.01M449.8 384.7h.01M450 383.6h.01M450.7 395.7h.01M449.3 386.3h.01M450.6 386.3h.01M449.3 388.3h.01M451.8 387.9h.01M449.8 389.7h.01M449.5 392h.01M450.8 386.1h.01M449.1 387.7h.01M449.4 387.2h.01M450.7 386.9h.01M448.2 389.7h.01M456 383.1h.01M456.1 388.9h.01M455.1 385.8h.01M456.5 384.9h.01M455.4 386.8h.01M455 392.1h.01M455.4 387.4h.01M454.9 385.2h.01M456 385.6h.01M455 387.9h.01M455.5 384.3h.01M456.4 385.5h.01M456 384.8h.01M456.3 388.8h.01M454.9 385.6h.01M454.9 386.6h.01M455.5 383.6h.01M456.3 388h.01M456 384.5h.01M454.5 384.8h.01M454.9 385.6h.01M456 382.5h.01M456.4 386.6h.01M454.9 385.6h.01M455.1 382.8h.01M457 389.3h.01M456.2 390.5h.01M455.1 386.2h.01M455.6 385.4h.01M454.3 388.9h.01M455.9 397.8h.01M456.1 390.4h.01M455.2 386.1h.01M455.4 384.9h.01M455.3 392.2h.01M455.7 391.2h.01M462.2 384.5h.01M460.6 388.8h.01M460.5 391.1h.01M461.7 383.8h.01M461.1 381.4h.01M460.7 385.5h.01M461.6 387.9h.01M461.3 389.6h.01M461.1 387.5h.01M460.9 395.3h.01M460.1 387.3h.01M460.9 392.3h.01M461.5 382.7h.01M460.8 386.6h.01M461.3 386h.01M460.6 385h.01M459.3 384.7h.01M460 387.7h.01M461.8 387.8h.01M462 386.3h.01M460.8 385.3h.01M461.6 386h.01M460.4 388.3h.01M461.9 392h.01M462.7 386.6h.01M461.4 386.4h.01M460.8 387.2h.01M460.8 391h.01M460.7 391.4h.01M461.6 384.9h.01M461 384.5h.01M462.4 385.2h.01M460.7 385.1h.01M460.8 385h.01M460.5 388.3h.01M460.7 387.5h.01M467.1 389.3h.01M466.1 384.4h.01M466.9 391.8h.01M467 392.3h.01M466.9 388.8h.01M466.9 389.7h.01M467.7 388.2h.01M467.7 384.7h.01M466 387.2h.01M466.6 392.5h.01M465.9 386.8h.01M466.9 387h.01M465.6 384.9h.01M466 393.3h.01M466.7 385.4h.01M466.2 390.1h.01M466.1 385.8h.01M465.8 385.4h.01M466.7 386.3h.01M467.5 383.4h.01M466.5 386.5h.01M465.2 388.1h.01M466.3 388h.01M466.8 385.9h.01M466.2 384.3h.01M467.5 384h.01M467.9 391.6h.01M466.7 383.4h.01M467.7 388.6h.01M466 388.6h.01M466.4 389.2h.01M467.3 387.7h.01M467.6 386.5h.01M467.7 387.4h.01M466.7 385.1h.01M466.1 388h.01M465.7 388.8h.01M465.9 387h.01M334.4 384.5h.01M333.4 385.1h.01M333.7 384.7h.01M333.9 385.7h.01M333.7 386.4h.01M333.1 387h.01M334.1 387.3h.01M333.2 387.8h.01M333.3 389.1h.01M332.8 390.3h.01M334.4 393.2h.01M339.6 383.9h.01M338.5 384h.01M339.3 385.1h.01M338.7 385.6h.01M339.3 386.4h.01M338.6 387.3h.01M338.6 388.1h.01M339 388.6h.01M339 401.2h.01M344.8 385.1h.01M345 385.7h.01M345 386.6h.01M345.2 386.7h.01M344.6 387.8h.01M345.1 388.6h.01M345.4 389.3h.01M344.6 389.5h.01M351 384.8h.01M350.7 386h.01M350.9 386.8h.01M350.1 388h.01M351.4 388.3h.01M357.4 386.3h.01M362.5 386.6h.01M362 387.1h.01M362.3 388.5h.01M368.4 383.9h.01M368.5 384.7h.01M368.7 385.8h.01M367.4 386.1h.01M368.2 386.9h.01M368.2 388.3h.01M367.6 388.3h.01M367.6 389.6h.01M369 389.8h.01M369.1 390.5h.01M368.1 391.7h.01M368.2 392.2h.01M367.2 399.6h.01M384.2 384.5h.01M383.9 384.8h.01M389.7 385.1h.01M389.7 386h.01M400.6 386.5h.01M407.3 384h.01M412.5 384h.01M417.9 390h.01" stroke="#e0281f" stroke-width="2.0" stroke-linecap="round" fill="none" opacity="0.7"/>
<ellipse cx="286.32" cy="418.31" rx="2.4" ry="2.6" fill="#000"/>
<ellipse cx="291.75" cy="418.12" rx="2.4" ry="2.6" fill="#000"/>
<ellipse cx="297.6" cy="418.27" rx="2.4" ry="2.6" fill="#000"/>
<ellipse cx="302.8" cy="418.46" rx="2.4" ry="2.6" fill="#000"/>
<ellipse cx="313.36" cy="418.03" rx="2.4" ry="2.6" fill="#000"/>
<ellipse cx="318.68" cy="418.02" rx="2.4" ry="2.6" fill="#000"/>
<ellipse cx="323.66" cy="417.96" rx="2.4" ry="2.6" fill="#000"/>
<ellipse cx="334.22" cy="418.27" rx="2.4" ry="2.6" fill="#000"/>
<ellipse cx="339.6" cy="418.39" rx="2.4" ry="2.6" fill="#000"/>
<ellipse cx="345.55" cy="418.25" rx="2.4" ry="2.6" fill="#000"/>
<ellipse cx="351.06" cy="418.19" rx="2.4" ry="2.6" fill="#000"/>
<ellipse cx="356.7" cy="418.49" rx="2.4" ry="2.6" fill="#000"/>
<ellipse cx="362.26" cy="418.38" rx="2.4" ry="2.6" fill="#000"/>
<ellipse cx="367.81" cy="417.91" rx="2.4" ry="2.6" fill="#000"/>
<ellipse cx="378.34" cy="418.48" rx="2.4" ry="2.6" fill="#000"/>
<ellipse cx="383.99" cy="417.98" rx="2.4" ry="2.6" fill="#000"/>
<ellipse cx="389.5" cy="417.93" rx="2.4" ry="2.6" fill="#000"/>
<ellipse cx="394.9" cy="418.33" rx="2.4" ry="2.6" fill="#000"/>
<ellipse cx="400.58" cy="418.23" rx="2.4" ry="2.6" fill="#000"/>
<ellipse cx="406.14" cy="418.24" rx="2.4" ry="2.6" fill="#000"/>
<ellipse cx="411.5" cy="418.39" rx="2.4" ry="2.6" fill="#000"/>
<ellipse cx="417.19" cy="418.04" rx="2.4" ry="2.6" fill="#000"/>
<ellipse cx="433.5" cy="418.29" rx="2.26" ry="2.44" fill="#000"/>
<ellipse cx="439.03" cy="417.99" rx="2.26" ry="2.44" fill="#000"/>
<ellipse cx="455.8" cy="418.28" rx="2.11" ry="2.29" fill="#000"/>
<ellipse cx="461.28" cy="417.99" rx="2.4" ry="2.6" fill="#000"/>
<ellipse cx="466.59" cy="417.91" rx="2.26" ry="2.44" fill="#000"/>
<path d="M285.7 417.5h.01M286.8 419.6h.01M286.9 417.3h.01M285.7 418.2h.01M291.6 418h.01M292.1 417.6h.01M292 418.4h.01M293.6 418.2h.01M298.3 418.4h.01M297 418.2h.01M298.4 418h.01M298.5 419.4h.01M301.7 418.5h.01M302.3 419h.01M303.1 418.4h.01M303.4 417.8h.01M315.3 417.9h.01M313.3 416.8h.01M311.8 417.6h.01M314.1 418.8h.01M320.4 417.4h.01M317.7 418.6h.01M317.6 418.4h.01M319.5 418.2h.01M323.2 415.7h.01M322.7 418.2h.01M322.3 417.8h.01M324.1 419.3h.01M334.5 418.6h.01M332.9 419.7h.01M333.4 419.1h.01M334 418.6h.01M339.9 417.4h.01M339.2 417.1h.01M341.8 417h.01M337.3 419.5h.01M346.2 417.6h.01M344.8 418.6h.01M345.8 417.9h.01M347 418.8h.01M351.1 418h.01M350.9 418.9h.01M350.4 418.4h.01M351.8 418.5h.01M356.5 417.3h.01M356.5 420.2h.01M354.9 418h.01M357.2 418.3h.01M363.1 417.5h.01M360.9 418.7h.01M362.6 417.6h.01M361.3 418.1h.01M366.7 416.4h.01M369 418.4h.01M366.5 417h.01M367 417.9h.01M378.8 418h.01M378.7 418.4h.01M379.4 418.3h.01M379.6 419.4h.01M383.1 418h.01M383.2 418.2h.01M384.2 418.6h.01M382.8 419.1h.01M389 416.6h.01M389.7 416.8h.01M390.6 418.2h.01M391 418.7h.01M395 419.4h.01M394.9 418.4h.01M394.4 418.6h.01M395.7 417.8h.01M401 418.1h.01M399.6 417.6h.01M400.3 416.1h.01M400 419.4h.01M407.8 418.8h.01M407.1 418.1h.01M404.8 420.5h.01M406.4 418.4h.01M411.7 417.3h.01M411.5 418.1h.01M411 417.5h.01M410.7 418.1h.01M418.2 418.5h.01M417.3 419.4h.01M417.9 417h.01M416.5 418.4h.01M433.7 418.5h.01M434.6 417.8h.01M432.1 418.9h.01M433.3 417.2h.01M439.4 417.7h.01M438.6 417.6h.01M439.1 418.7h.01M437.4 418.2h.01M456.4 417.5h.01M453.8 417.3h.01M456.5 418.5h.01M455 418.7h.01M461.5 417.4h.01M463.7 417.8h.01M460.1 418.2h.01M461.3 418.8h.01M465.7 417.6h.01M466.9 417.8h.01M466.2 417.4h.01M464.9 418h.01" stroke="#000" stroke-width="1.2" stroke-linecap="round" fill="none" opacity="0.8"/>
<path d="" stroke="#666" stroke-width="1.3" stroke-linecap="round" fill="none" opacity="0.8"/>
<rect x="283.25" y="378.25" width="22.9" height="44.3" fill="none" stroke="#111" stroke-width="1.5"/>
<rect x="310.15" y="378.25" width="16.8" height="44.3" fill="none" stroke="#111" stroke-width="1.5"/>
<rect x="330.95" y="378.25" width="40" height="44.3" fill="none" stroke="#111" stroke-width="1.5"/>
<rect x="375.15" y="378.25" width="45.3" height="44.3" fill="none" stroke="#111" stroke-width="1.5"/>
<rect x="424.65" y="378.25" width="45.3" height="44.3" fill="none" stroke="#111" stroke-width="1.5"/>
<line x1="280.6" y1="419" x2="282.5" y2="419" stroke="#333" stroke-width="0.5" />
<text x="279.8" y="421" font-size="5.7" text-anchor="end" fill="#444">1</text>
<line x1="280.6" y1="411.4" x2="282.5" y2="411.4" stroke="#333" stroke-width="0.5" />
<text x="279.8" y="413.4" font-size="5.7" text-anchor="end" fill="#444">2</text>
<line x1="280.6" y1="403.8" x2="282.5" y2="403.8" stroke="#333" stroke-width="0.5" />
<text x="279.8" y="405.8" font-size="5.7" text-anchor="end" fill="#444">3</text>
<line x1="280.6" y1="396.2" x2="282.5" y2="396.2" stroke="#333" stroke-width="0.5" />
<text x="279.8" y="398.2" font-size="5.7" text-anchor="end" fill="#444">4</text>
<line x1="280.6" y1="388.6" x2="282.5" y2="388.6" stroke="#333" stroke-width="0.5" />
<text x="279.8" y="390.6" font-size="5.7" text-anchor="end" fill="#444">5</text>
<line x1="280.6" y1="381" x2="282.5" y2="381" stroke="#333" stroke-width="0.5" />
<text x="279.8" y="383" font-size="5.7" text-anchor="end" fill="#444">6</text>
<ellipse cx="427.87" cy="433.82" rx="1.9" ry="3.6" fill="#d81c18" opacity="0.8"/>
<ellipse cx="433.42" cy="433.82" rx="1.9" ry="3.6" fill="#d81c18" opacity="0.8"/>
<ellipse cx="438.97" cy="433.82" rx="1.9" ry="3.6" fill="#d81c18" opacity="0.8"/>
<ellipse cx="444.52" cy="433.82" rx="1.9" ry="3.6" fill="#d81c18" opacity="0.8"/>
<ellipse cx="450.07" cy="433.82" rx="1.9" ry="3.6" fill="#d81c18" opacity="0.8"/>
<ellipse cx="455.62" cy="433.82" rx="1.9" ry="3.6" fill="#d81c18" opacity="0.8"/>
<ellipse cx="461.18" cy="433.82" rx="1.9" ry="3.6" fill="#d81c18" opacity="0.8"/>
<ellipse cx="466.73" cy="433.82" rx="1.9" ry="3.6" fill="#d81c18" opacity="0.8"/>
<path d="M428.9 439.9h.01M427.4 439.3h.01M427.6 435.2h.01M427.3 439.6h.01M426.3 431.6h.01M428.1 440.6h.01M427.8 441.8h.01M427.6 434.5h.01M428.7 432.6h.01M427.5 433.5h.01M427.2 438.5h.01M427.6 434.8h.01M428.2 446.3h.01M427.9 443.4h.01M427.4 434.4h.01M425.6 442.4h.01M428.5 437.8h.01M428.8 432.6h.01M428.1 444.6h.01M428.6 438h.01M427.7 432.1h.01M426.4 433.3h.01M428.2 445h.01M427.6 438.5h.01M428.1 434.6h.01M428.1 441.3h.01M427.6 432.8h.01M427.6 434.5h.01M427.8 434.6h.01M427.5 433.9h.01M434.4 437.6h.01M432.4 434.6h.01M433.2 440.1h.01M432.7 455h.01M434.1 435.4h.01M432.5 435.3h.01M433.3 442.3h.01M433 437.8h.01M432.7 432.4h.01M432.6 431.7h.01M432.1 435.8h.01M433.1 431.4h.01M432.3 436.6h.01M431.8 437.3h.01M433.5 439.6h.01M433.9 429.1h.01M432.8 449.1h.01M433.4 434.7h.01M433.6 434.9h.01M433.4 435.6h.01M433.8 432h.01M433.8 449.4h.01M432.2 441.7h.01M433.5 432.8h.01M434.2 435.9h.01M433.8 434.6h.01M440.1 444.6h.01M439.9 433h.01M439.2 443.6h.01M438.9 458.7h.01M439 436.5h.01M438.8 436.1h.01M438.2 432.8h.01M439.4 438.2h.01M438.4 434.7h.01M437.4 438.8h.01M438.5 455.9h.01M440.1 433.5h.01M439.3 432.1h.01M438.4 442.6h.01M439.8 432.7h.01M438.7 438h.01M437.8 430.6h.01M439.6 436h.01M440 432.5h.01M439.1 431.9h.01M443.7 442.8h.01M444.1 435.4h.01M444.9 434.8h.01M444.5 433.2h.01M443.4 441.7h.01M444.1 434.9h.01M445 439.1h.01M444.6 431.1h.01M444.3 434.8h.01M443.6 434.9h.01M444.5 433.5h.01M444.8 437.1h.01M445.4 433.5h.01M444.3 437.5h.01M444.2 435.7h.01M444 434.2h.01M445.3 440.2h.01M444 440.2h.01M445.7 435h.01M443.6 432.3h.01M444.4 443.5h.01M444.6 434.9h.01M444.8 433.9h.01M444.2 430.8h.01M444.2 436.2h.01M445.9 434.5h.01M444.8 447h.01M443.2 433.6h.01M445.5 451.4h.01M445 432.3h.01M449.7 439h.01M450.7 434.2h.01M450.1 443.4h.01M448.9 439.1h.01M450.3 433.4h.01M450.1 435.2h.01M450.3 434h.01M450.3 450.7h.01M450.3 434.9h.01M449.6 439.5h.01M448.9 438h.01M449 460.9h.01M450.8 433.2h.01M450.2 438.5h.01M449.6 433.5h.01M450.2 440.5h.01M450 434.7h.01M450.8 438.7h.01M449.1 432.2h.01M449.1 433.6h.01M450.3 435.4h.01M450 436.7h.01M451.4 445.6h.01M450.6 431.7h.01M450.1 436.9h.01M449.9 439.4h.01M449.9 441.2h.01M450.1 434.8h.01M454.8 435.9h.01M454.2 436.4h.01M455.9 449.4h.01M456 436.5h.01M455.4 435.1h.01M456.2 446.3h.01M455.7 433.1h.01M455.9 435.3h.01M456.9 433.7h.01M455.3 434.2h.01M454.2 438.9h.01M455.5 431.8h.01M455.3 433.6h.01M455.2 434.8h.01M455.6 435.7h.01M455.9 433.9h.01M454.7 444.4h.01M455.2 431.6h.01M455.7 432h.01M454.1 437.5h.01M456.8 436.1h.01M455.4 434h.01M453.6 437.3h.01M455 435.5h.01M455.4 445.9h.01M455.4 443.1h.01M455.6 432.1h.01M455.5 436.1h.01M456.4 434.6h.01M454 438.3h.01M461.3 439.5h.01M461 433.2h.01M462 431.7h.01M461.7 435.1h.01M461.9 435.2h.01M461.2 432.6h.01M460.4 435.9h.01M461.8 454.1h.01M461.1 447.8h.01M461.7 437.9h.01M461.2 435h.01M460.5 430.1h.01M460.5 434.9h.01M460.4 432.9h.01M459.9 439.1h.01M460.7 437.7h.01M461.1 433.6h.01M461.3 443.9h.01M459.8 432.7h.01M460.8 437.5h.01M461.7 436h.01M461.7 434.9h.01M461.8 433.4h.01M460.7 433h.01M460.9 437.5h.01M460.9 433.3h.01M460.5 437.9h.01M460.8 438.5h.01M460.5 446.8h.01M461.6 445h.01M467.3 439.2h.01M467.3 436h.01M467.5 434.3h.01M467.2 440.4h.01M465.5 440.4h.01M466.7 443.9h.01M465.7 434.5h.01M466 430.7h.01M466.3 436.1h.01M467.8 435.3h.01M466.6 437.6h.01M466.9 439.4h.01M467.6 438.9h.01M465.8 435.8h.01M465.7 438.6h.01M467 450.1h.01M466.7 434.1h.01M465.2 433.7h.01M466.7 437.4h.01M467.4 445.2h.01M466.9 433.4h.01M466.9 435.3h.01M466.1 439.9h.01M467.4 438.4h.01M466.1 439.7h.01M466.7 444.5h.01M466.5 438h.01M466.9 438.2h.01M466.7 435.5h.01M467.1 436.1h.01M333.6 432.4h.01M339.7 430h.01M338.9 430.4h.01M339.2 430.5h.01M340.6 431.3h.01M339.3 431.5h.01M339.3 431.3h.01M339 432.4h.01M339.4 436.8h.01M345 432.7h.01M344.4 433.3h.01M356.4 431.6h.01M357.4 434.6h.01M361.9 431.2h.01M362.3 431.2h.01M369 430.6h.01M367.9 431.3h.01M367.6 430.9h.01M376.5 438h.01M400 430.2h.01M407.4 429.7h.01" stroke="#e0281f" stroke-width="2.0" stroke-linecap="round" fill="none" opacity="0.7"/>
<ellipse cx="286.41" cy="467.5" rx="2.4" ry="2.6" fill="#000"/>
<ellipse cx="291.82" cy="467.22" rx="2.4" ry="2.6" fill="#000"/>
<ellipse cx="297.36" cy="467.2" rx="2.4" ry="2.6" fill="#000"/>
<ellipse cx="302.75" cy="467.02" rx="2.4" ry="2.6" fill="#000"/>
<ellipse cx="313.06" cy="467.31" rx="2.4" ry="2.6" fill="#000"/>
<ellipse cx="318.64" cy="467.27" rx="2.4" ry="2.6" fill="#000"/>
<ellipse cx="324" cy="467.37" rx="2.4" ry="2.6" fill="#000"/>
<ellipse cx="334.28" cy="467.25" rx="2.4" ry="2.6" fill="#000"/>
<ellipse cx="339.8" cy="467.27" rx="2.4" ry="2.6" fill="#000"/>
<ellipse cx="345.2" cy="467.3" rx="2.4" ry="2.6" fill="#000"/>
<ellipse cx="350.96" cy="467.18" rx="2.4" ry="2.6" fill="#000"/>
<ellipse cx="356.58" cy="467.28" rx="2.4" ry="2.6" fill="#000"/>
<ellipse cx="362.06" cy="467.36" rx="2.4" ry="2.6" fill="#000"/>
<ellipse cx="367.54" cy="467.2" rx="2.4" ry="2.6" fill="#000"/>
<ellipse cx="378.29" cy="467.27" rx="2.4" ry="2.6" fill="#000"/>
<ellipse cx="384.12" cy="467.28" rx="2.4" ry="2.6" fill="#000"/>
<ellipse cx="389.62" cy="467.53" rx="2.4" ry="2.6" fill="#000"/>
<ellipse cx="395.01" cy="467.6" rx="2.4" ry="2.6" fill="#000"/>
<ellipse cx="400.44" cy="467.04" rx="2.4" ry="2.6" fill="#000"/>
<ellipse cx="406.15" cy="467.06" rx="2.4" ry="2.6" fill="#000"/>
<ellipse cx="411.79" cy="467.34" rx="2.4" ry="2.6" fill="#000"/>
<ellipse cx="417.03" cy="467.58" rx="2.4" ry="2.6" fill="#000"/>
<ellipse cx="427.86" cy="467.11" rx="2.18" ry="2.37" fill="#000"/>
<ellipse cx="433.48" cy="467.25" rx="2.18" ry="2.37" fill="#000"/>
<ellipse cx="439.07" cy="467.6" rx="2.26" ry="2.44" fill="#000"/>
<path d="M285.6 467.5h.01M286 467.7h.01M283.9 467.3h.01M285 466.6h.01M291.1 466.9h.01M294 467.4h.01M293 468.2h.01M292.8 467.2h.01M294.8 466.7h.01M297.9 467.8h.01M298.1 466.9h.01M296.7 466.2h.01M303.1 465.5h.01M302.6 466.5h.01M303.9 467.9h.01M303.6 467.8h.01M312.4 467.4h.01M313.3 467.6h.01M313.8 467.4h.01M313.5 467.3h.01M317.8 466.9h.01M320.4 467.1h.01M317.7 467.8h.01M319.1 467.1h.01M322.7 466.9h.01M323.5 467.1h.01M323.9 468h.01M323.9 467.6h.01M334.1 466.5h.01M334.9 467.1h.01M333.1 467.2h.01M334.3 466.9h.01M339.3 466.9h.01M337 466.7h.01M341.9 468.6h.01M340.8 467.1h.01M345.4 467.3h.01M345.4 465.9h.01M346.4 468h.01M345.6 467.6h.01M350.3 466.5h.01M351.2 469.1h.01M352.7 467.4h.01M350.5 469h.01M357 468.8h.01M358.1 465.7h.01M354.6 466.3h.01M357.7 466.6h.01M361.1 468.5h.01M360.2 466.8h.01M363.4 466.5h.01M362.4 468h.01M368.2 467.9h.01M367.8 466.9h.01M369.7 466.4h.01M367.8 466.7h.01M376.7 466.1h.01M378.8 467.3h.01M378.5 467.1h.01M378.9 467h.01M382.5 466.4h.01M384.4 466.6h.01M382.2 467.6h.01M383.9 468h.01M389.9 466.7h.01M389.2 467.6h.01M389.6 467.1h.01M389.6 467.5h.01M395.7 467.6h.01M394.8 468.5h.01M394.6 467.7h.01M394.3 465.7h.01M398.6 468.3h.01M401.1 467.5h.01M399.5 466.2h.01M400.3 467.4h.01M406.4 467.4h.01M406.6 467.2h.01M404.3 467.5h.01M406.4 468.1h.01M412.1 468.2h.01M413.5 467.3h.01M411.9 467.3h.01M412.8 467.6h.01M416.9 468.3h.01M418 466.7h.01M417.3 466.8h.01M415.7 467.7h.01M428.5 466.7h.01M428.6 466.9h.01M428.1 466.9h.01M426.8 465.5h.01M431.9 468.3h.01M431.8 468.3h.01M434 466.4h.01M434.1 467.7h.01M438.8 466.9h.01M438.4 466h.01M437.6 467h.01M439.7 466.6h.01" stroke="#000" stroke-width="1.2" stroke-linecap="round" fill="none" opacity="0.8"/>
<path d="M444.5 467.4h.01M444.9 467.4h.01M450 467.2h.01M449.6 466.7h.01M455.9 467.6h.01M455.7 467.7h.01M461.4 467.2h.01M461.3 466.8h.01" stroke="#666" stroke-width="1.3" stroke-linecap="round" fill="none" opacity="0.8"/>
<rect x="283.25" y="426.95" width="22.9" height="44.6" fill="none" stroke="#111" stroke-width="1.5"/>
<rect x="310.15" y="426.95" width="16.8" height="44.6" fill="none" stroke="#111" stroke-width="1.5"/>
<rect x="330.95" y="426.95" width="40" height="44.6" fill="none" stroke="#111" stroke-width="1.5"/>
<rect x="375.15" y="426.95" width="45.3" height="44.6" fill="none" stroke="#111" stroke-width="1.5"/>
<rect x="424.65" y="426.95" width="45.3" height="44.6" fill="none" stroke="#111" stroke-width="1.5"/>
<line x1="280.6" y1="468.1" x2="282.5" y2="468.1" stroke="#333" stroke-width="0.5" />
<text x="279.8" y="470.1" font-size="5.7" text-anchor="end" fill="#444">1</text>
<line x1="280.6" y1="460.22" x2="282.5" y2="460.22" stroke="#333" stroke-width="0.5" />
<text x="279.8" y="462.22" font-size="5.7" text-anchor="end" fill="#444">2</text>
<line x1="280.6" y1="452.34" x2="282.5" y2="452.34" stroke="#333" stroke-width="0.5" />
<text x="279.8" y="454.34" font-size="5.7" text-anchor="end" fill="#444">3</text>
<line x1="280.6" y1="444.46" x2="282.5" y2="444.46" stroke="#333" stroke-width="0.5" />
<text x="279.8" y="446.46" font-size="5.7" text-anchor="end" fill="#444">4</text>
<line x1="280.6" y1="436.58" x2="282.5" y2="436.58" stroke="#333" stroke-width="0.5" />
<text x="279.8" y="438.58" font-size="5.7" text-anchor="end" fill="#444">5</text>
<line x1="280.6" y1="428.7" x2="282.5" y2="428.7" stroke="#333" stroke-width="0.5" />
<text x="279.8" y="430.7" font-size="5.7" text-anchor="end" fill="#444">6</text>
<ellipse cx="427.87" cy="483.77" rx="1.9" ry="4.2" fill="#d81c18" opacity="0.8"/>
<ellipse cx="433.42" cy="483.77" rx="1.9" ry="4.2" fill="#d81c18" opacity="0.8"/>
<ellipse cx="438.97" cy="483.77" rx="1.9" ry="4.2" fill="#d81c18" opacity="0.8"/>
<ellipse cx="450.07" cy="483.77" rx="1.9" ry="4.2" fill="#d81c18" opacity="0.8"/>
<ellipse cx="466.73" cy="483.77" rx="1.9" ry="4.2" fill="#d81c18" opacity="0.8"/>
<path d="M427.5 479.7h.01M429.8 487.2h.01M427.8 484.3h.01M427 486.3h.01M428.6 483.8h.01M428.7 484.7h.01M426.9 481.5h.01M428.8 486.2h.01M428.4 480.8h.01M428.5 486.7h.01M427.2 480.7h.01M427.2 490.7h.01M427.4 481.5h.01M428.5 487h.01M428.7 480.7h.01M428 480.1h.01M428.6 486.6h.01M428.7 481.9h.01M427.4 486h.01M429.1 480.4h.01M432.1 483.1h.01M432.7 486.3h.01M431.9 487.1h.01M433.2 483.1h.01M433.4 482.4h.01M433.4 482.4h.01M432.9 485.1h.01M433.9 484.2h.01M433.8 487.3h.01M433.9 484.1h.01M433.9 480.9h.01M433.4 483.6h.01M433.1 485.3h.01M433.3 483.5h.01M432.3 486h.01M433.5 486.3h.01M432.6 482.6h.01M432.6 479.8h.01M433.6 482h.01M433.5 487.9h.01M433 487.7h.01M434.1 484.6h.01M433.8 486.6h.01M433.7 481h.01M432.6 483.8h.01M433.3 486.1h.01M434.7 488.6h.01M434.3 485.1h.01M434.5 484.7h.01M432.9 488.9h.01M439.5 486.1h.01M439.6 485.9h.01M439.3 487.7h.01M438.6 490h.01M438.7 482.6h.01M438 484.6h.01M438.9 481.6h.01M439 495.2h.01M438.3 483.2h.01M439.4 487.2h.01M437.4 483.8h.01M439.3 485.2h.01M439.7 499.1h.01M438.1 483.4h.01M450.2 487.6h.01M451 487.1h.01M450.1 482.5h.01M450.9 484.7h.01M450.7 488.9h.01M449.3 484h.01M449.6 483.7h.01M450.7 482.5h.01M449.5 485.2h.01M449.6 486.9h.01M450.3 485.2h.01M450.6 485h.01M450.2 485.1h.01M450.5 486h.01M450 489.1h.01M448.8 482.4h.01M450.1 482.8h.01M449.5 482.4h.01M449.4 487.7h.01M449.9 489.9h.01M450.1 485.8h.01M449.7 482.8h.01M450.1 484.3h.01M450 489.9h.01M450.5 479.4h.01M449.3 487h.01M449.8 483.1h.01M449.8 488h.01M450.4 483.9h.01M450.5 482.8h.01M449.5 484.7h.01M450.4 482.5h.01M451.8 479.5h.01M449.9 483.8h.01M450.3 481.4h.01M449.5 482.8h.01M450.6 486.4h.01M450.9 485.8h.01M450.7 483.5h.01M451.2 487.9h.01M467 481.6h.01M466.4 483.4h.01M467 484.8h.01M464.6 485.9h.01M465.1 485.8h.01M466.4 484.6h.01M467 485.4h.01M467.5 486.4h.01M466.6 487h.01M466.1 484.3h.01M467.2 482.7h.01M466.4 484.5h.01M465.4 484.4h.01M466.4 486.9h.01M466.7 485h.01M468.2 486.9h.01M467 485.4h.01M466.6 483.4h.01M467.4 484.4h.01M467.3 497.8h.01M466.8 482h.01M467.2 483.5h.01M466.1 481.9h.01M467.7 485.1h.01M333.5 482.6h.01M334 483.6h.01M333.3 483.2h.01M333 484.3h.01M334.2 484.8h.01M333.9 484.9h.01M338.7 482.7h.01M339.5 483.1h.01M339.9 484.3h.01M338.7 484h.01M340 485.3h.01M345.1 481.1h.01M344.7 482h.01M345.3 483.3h.01M344.7 484.4h.01M345 486.2h.01M344.9 487.2h.01M344.6 495.2h.01M351.4 481.1h.01M350 482.6h.01M350.6 483.6h.01M350.4 484.3h.01M351.4 485.7h.01M351.4 486.5h.01M350.8 487.7h.01M350.2 488.9h.01M350.6 489.4h.01M351.5 493.8h.01M356.9 482.4h.01M356.7 483h.01M356.4 484.3h.01M356.9 485.9h.01M356.5 486.8h.01M355.9 487.7h.01M362.3 483.3h.01M362.7 484.2h.01M362.1 485h.01M368.1 484.3h.01M367.6 483.8h.01M368 484.9h.01M368.1 485.1h.01M389.2 487.3h.01M395.1 481.8h.01M394.8 483.8h.01M395.6 485.7h.01M400.7 484.5h.01M400 490.8h.01M412.7 484.7h.01M417.1 482.7h.01M417.3 485.2h.01" stroke="#e0281f" stroke-width="2.0" stroke-linecap="round" fill="none" opacity="0.7"/>
<ellipse cx="286.64" cy="516.94" rx="2.4" ry="2.6" fill="#000"/>
<ellipse cx="292.06" cy="516.8" rx="2.4" ry="2.6" fill="#000"/>
<ellipse cx="297.52" cy="517.1" rx="2.4" ry="2.6" fill="#000"/>
<ellipse cx="302.76" cy="516.91" rx="2.4" ry="2.6" fill="#000"/>
<ellipse cx="313.3" cy="516.86" rx="2.4" ry="2.6" fill="#000"/>
<ellipse cx="318.69" cy="516.98" rx="2.4" ry="2.6" fill="#000"/>
<ellipse cx="323.9" cy="516.77" rx="2.4" ry="2.6" fill="#000"/>
<ellipse cx="334" cy="516.87" rx="2.4" ry="2.6" fill="#000"/>
<ellipse cx="339.61" cy="517.01" rx="2.4" ry="2.6" fill="#000"/>
<ellipse cx="345.21" cy="516.69" rx="2.4" ry="2.6" fill="#000"/>
<ellipse cx="351.08" cy="516.67" rx="2.4" ry="2.6" fill="#000"/>
<ellipse cx="356.42" cy="517.04" rx="2.4" ry="2.6" fill="#000"/>
<ellipse cx="362.21" cy="517.18" rx="2.4" ry="2.6" fill="#000"/>
<ellipse cx="367.52" cy="516.65" rx="2.4" ry="2.6" fill="#000"/>
<ellipse cx="378.49" cy="516.83" rx="2.4" ry="2.6" fill="#000"/>
<ellipse cx="383.77" cy="516.95" rx="2.4" ry="2.6" fill="#000"/>
<ellipse cx="389.4" cy="517.11" rx="2.4" ry="2.6" fill="#000"/>
<ellipse cx="394.85" cy="516.99" rx="2.4" ry="2.6" fill="#000"/>
<ellipse cx="400.46" cy="516.84" rx="2.4" ry="2.6" fill="#000"/>
<ellipse cx="406.14" cy="516.9" rx="2.4" ry="2.6" fill="#000"/>
<ellipse cx="411.55" cy="516.83" rx="2.4" ry="2.6" fill="#000"/>
<ellipse cx="417.07" cy="517.03" rx="2.4" ry="2.6" fill="#000"/>
<ellipse cx="427.74" cy="516.87" rx="2.26" ry="2.44" fill="#000"/>
<ellipse cx="433.34" cy="516.85" rx="2.11" ry="2.29" fill="#000"/>
<ellipse cx="439.16" cy="517.06" rx="2.26" ry="2.44" fill="#000"/>
<ellipse cx="466.75" cy="516.76" rx="2.18" ry="2.37" fill="#000"/>
<path d="M286 515.9h.01M287 516.8h.01M285.6 516.6h.01M285.8 517h.01M291.7 518.5h.01M292.6 517h.01M293.3 516.4h.01M292.1 517.3h.01M299.8 516.9h.01M297.5 516.6h.01M297.7 516.1h.01M297.2 516.9h.01M302.5 516.4h.01M303.3 516.8h.01M304.6 515.6h.01M304.5 517.7h.01M312.1 517.3h.01M314.8 516.3h.01M312.2 517.1h.01M313.8 517.8h.01M317.7 516.4h.01M320.5 516.7h.01M317.1 516.8h.01M318.8 516.3h.01M323.9 516.2h.01M325.3 516.6h.01M322.6 516.7h.01M323.2 516.6h.01M333.9 517.8h.01M334.4 517.4h.01M335.2 516.8h.01M334.2 516.5h.01M338.1 517.5h.01M340.9 517h.01M339.2 516.6h.01M339.6 516.4h.01M346.3 517.1h.01M345.5 516.4h.01M345.2 517.6h.01M345.7 518.5h.01M349.8 515.4h.01M352 517h.01M351.8 517h.01M351.7 517.5h.01M356.2 517.1h.01M355.5 516.6h.01M356.4 515.6h.01M356.6 517.7h.01M360.8 516.5h.01M361.6 517.6h.01M361.6 517.8h.01M361.9 517.6h.01M368.3 516.4h.01M368.4 516.8h.01M366.3 518.2h.01M366.3 517.3h.01M378.4 517h.01M379.2 516.1h.01M378.9 514.7h.01M379.3 516.1h.01M383.5 516.9h.01M384.8 517h.01M382.5 518.1h.01M386.2 516.8h.01M388.8 517.4h.01M389.2 516.8h.01M389.3 516.6h.01M388.1 516.2h.01M394.1 516.9h.01M395.2 516.2h.01M395.4 517.7h.01M393.8 518h.01M400.8 516h.01M400.3 517.3h.01M399.8 517.7h.01M401.2 514.1h.01M406.2 516h.01M406.1 518.1h.01M406.5 516.4h.01M406.4 516.7h.01M412.6 516.4h.01M411.3 517.4h.01M410.4 517.1h.01M409.9 515.9h.01M418.6 516.6h.01M416.8 515.5h.01M417.9 516.4h.01M415.4 517.3h.01M428.9 516.7h.01M426.9 517.2h.01M426.2 517.1h.01M428.7 517.5h.01M433.3 516.9h.01M433.1 517.4h.01M435.3 518h.01M433.8 517.5h.01M439.4 516.3h.01M438.5 517.4h.01M439.4 517h.01M439.6 517.1h.01M465.5 517.1h.01M467.5 517.7h.01M466.7 517.3h.01M466.9 517.6h.01" stroke="#000" stroke-width="1.2" stroke-linecap="round" fill="none" opacity="0.8"/>
<path d="" stroke="#666" stroke-width="1.3" stroke-linecap="round" fill="none" opacity="0.8"/>
<rect x="283.25" y="476.55" width="22.9" height="43.7" fill="none" stroke="#111" stroke-width="1.5"/>
<rect x="310.15" y="476.55" width="16.8" height="43.7" fill="none" stroke="#111" stroke-width="1.5"/>
<rect x="330.95" y="476.55" width="40" height="43.7" fill="none" stroke="#111" stroke-width="1.5"/>
<rect x="375.15" y="476.55" width="45.3" height="43.7" fill="none" stroke="#111" stroke-width="1.5"/>
<rect x="424.65" y="476.55" width="45.3" height="43.7" fill="none" stroke="#111" stroke-width="1.5"/>
<line x1="280.6" y1="517.7" x2="282.5" y2="517.7" stroke="#333" stroke-width="0.5" />
<text x="279.8" y="519.7" font-size="5.7" text-anchor="end" fill="#444">1</text>
<line x1="280.6" y1="509.9" x2="282.5" y2="509.9" stroke="#333" stroke-width="0.5" />
<text x="279.8" y="511.9" font-size="5.7" text-anchor="end" fill="#444">2</text>
<line x1="280.6" y1="502.1" x2="282.5" y2="502.1" stroke="#333" stroke-width="0.5" />
<text x="279.8" y="504.1" font-size="5.7" text-anchor="end" fill="#444">3</text>
<line x1="280.6" y1="494.3" x2="282.5" y2="494.3" stroke="#333" stroke-width="0.5" />
<text x="279.8" y="496.3" font-size="5.7" text-anchor="end" fill="#444">4</text>
<line x1="280.6" y1="486.5" x2="282.5" y2="486.5" stroke="#333" stroke-width="0.5" />
<text x="279.8" y="488.5" font-size="5.7" text-anchor="end" fill="#444">5</text>
<line x1="280.6" y1="478.7" x2="282.5" y2="478.7" stroke="#333" stroke-width="0.5" />
<text x="279.8" y="480.7" font-size="5.7" text-anchor="end" fill="#444">6</text>
<text transform="translate(446.5 476.8) rotate(-90)" x="0" y="0" font-size="5" text-anchor="end" fill="#444" textLength="43.5" lengthAdjust="spacingAndGlyphs">Donor for 2° transplant</text>
<text transform="translate(457.7 476.8) rotate(-90)" x="0" y="0" font-size="5" text-anchor="end" fill="#444" textLength="43.5" lengthAdjust="spacingAndGlyphs">Donor for 2° transplant</text>
<text transform="translate(463.3 476.8) rotate(-90)" x="0" y="0" font-size="5" text-anchor="end" fill="#444" textLength="43.5" lengthAdjust="spacingAndGlyphs">Donor for 2° transplant</text>
<line x1="286.3" y1="522" x2="286.3" y2="523.3" stroke="#333" stroke-width="0.5" />
<text transform="translate(288.05 524.1) rotate(-90)" x="0" y="0" font-size="4.9" text-anchor="end" fill="#444" textLength="11.6" lengthAdjust="spacingAndGlyphs">25938</text>
<line x1="291.9" y1="522" x2="291.9" y2="523.3" stroke="#333" stroke-width="0.5" />
<text transform="translate(293.65 524.1) rotate(-90)" x="0" y="0" font-size="4.9" text-anchor="end" fill="#444" textLength="11.6" lengthAdjust="spacingAndGlyphs">25936</text>
<line x1="297.5" y1="522" x2="297.5" y2="523.3" stroke="#333" stroke-width="0.5" />
<text transform="translate(299.25 524.1) rotate(-90)" x="0" y="0" font-size="4.9" text-anchor="end" fill="#444" textLength="11.6" lengthAdjust="spacingAndGlyphs">25937</text>
<line x1="303.1" y1="522" x2="303.1" y2="523.3" stroke="#333" stroke-width="0.5" />
<text transform="translate(304.85 524.1) rotate(-90)" x="0" y="0" font-size="4.9" text-anchor="end" fill="#444" textLength="11.6" lengthAdjust="spacingAndGlyphs">25935</text>
<line x1="313.12" y1="522" x2="313.12" y2="523.3" stroke="#333" stroke-width="0.5" />
<text transform="translate(314.87 524.1) rotate(-90)" x="0" y="0" font-size="4.9" text-anchor="end" fill="#444" textLength="11.6" lengthAdjust="spacingAndGlyphs">25933</text>
<line x1="318.55" y1="522" x2="318.55" y2="523.3" stroke="#333" stroke-width="0.5" />
<text transform="translate(320.3 524.1) rotate(-90)" x="0" y="0" font-size="4.9" text-anchor="end" fill="#444" textLength="11.6" lengthAdjust="spacingAndGlyphs">25932</text>
<line x1="323.98" y1="522" x2="323.98" y2="523.3" stroke="#333" stroke-width="0.5" />
<text transform="translate(325.73 524.1) rotate(-90)" x="0" y="0" font-size="4.9" text-anchor="end" fill="#444" textLength="11.6" lengthAdjust="spacingAndGlyphs">25934</text>
<line x1="334.02" y1="522" x2="334.02" y2="523.3" stroke="#333" stroke-width="0.5" />
<text transform="translate(335.77 524.1) rotate(-90)" x="0" y="0" font-size="4.9" text-anchor="end" fill="#444" textLength="11.6" lengthAdjust="spacingAndGlyphs">25929</text>
<line x1="339.66" y1="522" x2="339.66" y2="523.3" stroke="#333" stroke-width="0.5" />
<text transform="translate(341.41 524.1) rotate(-90)" x="0" y="0" font-size="4.9" text-anchor="end" fill="#444" textLength="11.6" lengthAdjust="spacingAndGlyphs">25925</text>
<line x1="345.31" y1="522" x2="345.31" y2="523.3" stroke="#333" stroke-width="0.5" />
<text transform="translate(347.06 524.1) rotate(-90)" x="0" y="0" font-size="4.9" text-anchor="end" fill="#444" textLength="11.6" lengthAdjust="spacingAndGlyphs">25930</text>
<line x1="350.95" y1="522" x2="350.95" y2="523.3" stroke="#333" stroke-width="0.5" />
<text transform="translate(352.7 524.1) rotate(-90)" x="0" y="0" font-size="4.9" text-anchor="end" fill="#444" textLength="11.6" lengthAdjust="spacingAndGlyphs">25928</text>
<line x1="356.59" y1="522" x2="356.59" y2="523.3" stroke="#333" stroke-width="0.5" />
<text transform="translate(358.34 524.1) rotate(-90)" x="0" y="0" font-size="4.9" text-anchor="end" fill="#444" textLength="11.6" lengthAdjust="spacingAndGlyphs">25927</text>
<line x1="362.24" y1="522" x2="362.24" y2="523.3" stroke="#333" stroke-width="0.5" />
<text transform="translate(363.99 524.1) rotate(-90)" x="0" y="0" font-size="4.9" text-anchor="end" fill="#444" textLength="11.6" lengthAdjust="spacingAndGlyphs">25931</text>
<line x1="367.88" y1="522" x2="367.88" y2="523.3" stroke="#333" stroke-width="0.5" />
<text transform="translate(369.63 524.1) rotate(-90)" x="0" y="0" font-size="4.9" text-anchor="end" fill="#444" textLength="11.6" lengthAdjust="spacingAndGlyphs">25926</text>
<line x1="378.2" y1="522" x2="378.2" y2="523.3" stroke="#333" stroke-width="0.5" />
<text transform="translate(379.95 524.1) rotate(-90)" x="0" y="0" font-size="4.9" text-anchor="end" fill="#444" textLength="11.6" lengthAdjust="spacingAndGlyphs">25923</text>
<line x1="383.8" y1="522" x2="383.8" y2="523.3" stroke="#333" stroke-width="0.5" />
<text transform="translate(385.55 524.1) rotate(-90)" x="0" y="0" font-size="4.9" text-anchor="end" fill="#444" textLength="11.6" lengthAdjust="spacingAndGlyphs">25924</text>
<line x1="389.4" y1="522" x2="389.4" y2="523.3" stroke="#333" stroke-width="0.5" />
<text transform="translate(391.15 524.1) rotate(-90)" x="0" y="0" font-size="4.9" text-anchor="end" fill="#444" textLength="11.6" lengthAdjust="spacingAndGlyphs">25919</text>
<line x1="395" y1="522" x2="395" y2="523.3" stroke="#333" stroke-width="0.5" />
<text transform="translate(396.75 524.1) rotate(-90)" x="0" y="0" font-size="4.9" text-anchor="end" fill="#444" textLength="11.6" lengthAdjust="spacingAndGlyphs">25920</text>
<line x1="400.6" y1="522" x2="400.6" y2="523.3" stroke="#333" stroke-width="0.5" />
<text transform="translate(402.35 524.1) rotate(-90)" x="0" y="0" font-size="4.9" text-anchor="end" fill="#444" textLength="11.6" lengthAdjust="spacingAndGlyphs">25918</text>
<line x1="406.2" y1="522" x2="406.2" y2="523.3" stroke="#333" stroke-width="0.5" />
<text transform="translate(407.95 524.1) rotate(-90)" x="0" y="0" font-size="4.9" text-anchor="end" fill="#444" textLength="11.6" lengthAdjust="spacingAndGlyphs">25917</text>
<line x1="411.8" y1="522" x2="411.8" y2="523.3" stroke="#333" stroke-width="0.5" />
<text transform="translate(413.55 524.1) rotate(-90)" x="0" y="0" font-size="4.9" text-anchor="end" fill="#444" textLength="11.6" lengthAdjust="spacingAndGlyphs">25921</text>
<line x1="417.4" y1="522" x2="417.4" y2="523.3" stroke="#333" stroke-width="0.5" />
<text transform="translate(419.15 524.1) rotate(-90)" x="0" y="0" font-size="4.9" text-anchor="end" fill="#444" textLength="11.6" lengthAdjust="spacingAndGlyphs">25922</text>
<line x1="427.7" y1="522" x2="427.7" y2="523.3" stroke="#333" stroke-width="0.5" />
<text transform="translate(429.45 524.1) rotate(-90)" x="0" y="0" font-size="4.9" text-anchor="end" fill="#444" textLength="11.6" lengthAdjust="spacingAndGlyphs">25911</text>
<line x1="433.3" y1="522" x2="433.3" y2="523.3" stroke="#333" stroke-width="0.5" />
<text transform="translate(435.05 524.1) rotate(-90)" x="0" y="0" font-size="4.9" text-anchor="end" fill="#444" textLength="11.6" lengthAdjust="spacingAndGlyphs">25913</text>
<line x1="438.9" y1="522" x2="438.9" y2="523.3" stroke="#333" stroke-width="0.5" />
<text transform="translate(440.65 524.1) rotate(-90)" x="0" y="0" font-size="4.9" text-anchor="end" fill="#444" textLength="11.6" lengthAdjust="spacingAndGlyphs">25910</text>
<line x1="444.5" y1="522" x2="444.5" y2="523.3" stroke="#333" stroke-width="0.5" />
<text transform="translate(446.25 524.1) rotate(-90)" x="0" y="0" font-size="4.9" text-anchor="end" fill="#444" textLength="11.6" lengthAdjust="spacingAndGlyphs">25912</text>
<line x1="450.1" y1="522" x2="450.1" y2="523.3" stroke="#333" stroke-width="0.5" />
<text transform="translate(451.85 524.1) rotate(-90)" x="0" y="0" font-size="4.9" text-anchor="end" fill="#444" textLength="11.6" lengthAdjust="spacingAndGlyphs">25909</text>
<line x1="455.7" y1="522" x2="455.7" y2="523.3" stroke="#333" stroke-width="0.5" />
<text transform="translate(457.45 524.1) rotate(-90)" x="0" y="0" font-size="4.9" text-anchor="end" fill="#444" textLength="11.6" lengthAdjust="spacingAndGlyphs">25914</text>
<line x1="461.3" y1="522" x2="461.3" y2="523.3" stroke="#333" stroke-width="0.5" />
<text transform="translate(463.05 524.1) rotate(-90)" x="0" y="0" font-size="4.9" text-anchor="end" fill="#444" textLength="11.6" lengthAdjust="spacingAndGlyphs">25916</text>
<line x1="466.9" y1="522" x2="466.9" y2="523.3" stroke="#333" stroke-width="0.5" />
<text transform="translate(468.65 524.1) rotate(-90)" x="0" y="0" font-size="4.9" text-anchor="end" fill="#444" textLength="11.6" lengthAdjust="spacingAndGlyphs">25915</text>
<text transform="translate(263.4 448.7) rotate(-90)" x="0" y="0" font-size="6.6" text-anchor="middle" fill="#444" textLength="28" lengthAdjust="spacingAndGlyphs">HEX signal</text>
<text transform="translate(273 449.5) rotate(-90)" x="0" y="0" font-size="6.6" text-anchor="middle" fill="#444" textLength="64.7" lengthAdjust="spacingAndGlyphs">(x1000; gated on FAM+)</text>
<text transform="translate(480 400.9) rotate(-90)" x="0" y="0" font-size="8.4" text-anchor="middle" fill="#333" textLength="24.1" lengthAdjust="spacingAndGlyphs">week 3</text>
<text transform="translate(480 451.2) rotate(-90)" x="0" y="0" font-size="8.4" text-anchor="middle" fill="#333" textLength="23.1" lengthAdjust="spacingAndGlyphs">week 9</text>
<text transform="translate(480 500) rotate(-90)" x="0" y="0" font-size="8.4" text-anchor="middle" fill="#333" textLength="27.7" lengthAdjust="spacingAndGlyphs">week 16</text>
<text transform="translate(292 376) rotate(-45)" x="0" y="0" font-size="7.2" fill="#333" textLength="36.5" lengthAdjust="spacingAndGlyphs">Untreated</text>
<text transform="translate(312.4 371.8) rotate(-45)" x="0" y="0" font-size="7.2" fill="#333" textLength="35.5" lengthAdjust="spacingAndGlyphs">sgAAVS1 /</text>
<text transform="translate(319.1 377.3) rotate(-45)" x="0" y="0" font-size="7.2" fill="#333" textLength="46.5" lengthAdjust="spacingAndGlyphs">AAV6 HLF-ZE</text>
<text x="406.3" y="361.2" font-size="7" text-anchor="middle" fill="#333" textLength="72" lengthAdjust="spacingAndGlyphs">sgHLF/<tspan font-style="italic">rAAV6 HLF-ZE</tspan></text>
<line x1="333" y1="365.2" x2="468.3" y2="365.2" stroke="#555" stroke-width="0.9" />
<text x="347" y="374.3" font-size="8.4" text-anchor="middle" fill="#333" textLength="16.8" lengthAdjust="spacingAndGlyphs">Total</text>
<text x="395.2" y="374.3" font-size="8.4" text-anchor="middle" fill="#333" textLength="16.5" lengthAdjust="spacingAndGlyphs">ZsG<tspan font-size="5.21" dy="-3.02">−</tspan></text>
<text x="445.8" y="374.3" font-size="8.4" text-anchor="middle" fill="#333" textLength="17.3" lengthAdjust="spacingAndGlyphs">ZsG<tspan font-size="5.21" dy="-3.02">+</tspan></text>
<line x1="59.93" y1="603.5" x2="68.73" y2="603.5" stroke="#999" stroke-width="0.7" />
<line x1="71.2" y1="603.5" x2="80" y2="603.5" stroke="#999" stroke-width="0.7" />
<line x1="82.47" y1="603.5" x2="91.27" y2="603.5" stroke="#999" stroke-width="0.7" />
<rect x="58.2" y="534.7" width="34.8" height="71.8" fill="none" stroke="#333" stroke-width="1"/>
<line x1="64.33" y1="607" x2="64.33" y2="608.6" stroke="#333" stroke-width="0.5" />
<text x="64.33" y="613.6" font-size="5.4" text-anchor="middle" fill="#444" textLength="6" lengthAdjust="spacingAndGlyphs">wk</text>
<text x="64.33" y="618.8" font-size="5.4" text-anchor="middle" fill="#444">3</text>
<line x1="75.6" y1="607" x2="75.6" y2="608.6" stroke="#333" stroke-width="0.5" />
<text x="75.6" y="613.6" font-size="5.4" text-anchor="middle" fill="#444" textLength="6" lengthAdjust="spacingAndGlyphs">wk</text>
<text x="75.6" y="618.8" font-size="5.4" text-anchor="middle" fill="#444">9</text>
<line x1="86.87" y1="607" x2="86.87" y2="608.6" stroke="#333" stroke-width="0.5" />
<text x="86.87" y="613.6" font-size="5.4" text-anchor="middle" fill="#444" textLength="6" lengthAdjust="spacingAndGlyphs">wk</text>
<text x="86.87" y="618.8" font-size="5.4" text-anchor="middle" fill="#444">16</text>
<line x1="97.82" y1="603.5" x2="106.62" y2="603.5" stroke="#999" stroke-width="0.7" />
<line x1="109.05" y1="603.5" x2="117.85" y2="603.5" stroke="#999" stroke-width="0.7" />
<line x1="120.28" y1="603.5" x2="129.08" y2="603.5" stroke="#999" stroke-width="0.7" />
<rect x="96.1" y="534.7" width="34.7" height="71.8" fill="none" stroke="#333" stroke-width="1"/>
<line x1="102.22" y1="607" x2="102.22" y2="608.6" stroke="#333" stroke-width="0.5" />
<text x="102.22" y="613.6" font-size="5.4" text-anchor="middle" fill="#444" textLength="6" lengthAdjust="spacingAndGlyphs">wk</text>
<text x="102.22" y="618.8" font-size="5.4" text-anchor="middle" fill="#444">3</text>
<line x1="113.45" y1="607" x2="113.45" y2="608.6" stroke="#333" stroke-width="0.5" />
<text x="113.45" y="613.6" font-size="5.4" text-anchor="middle" fill="#444" textLength="6" lengthAdjust="spacingAndGlyphs">wk</text>
<text x="113.45" y="618.8" font-size="5.4" text-anchor="middle" fill="#444">9</text>
<line x1="124.68" y1="607" x2="124.68" y2="608.6" stroke="#333" stroke-width="0.5" />
<text x="124.68" y="613.6" font-size="5.4" text-anchor="middle" fill="#444" textLength="6" lengthAdjust="spacingAndGlyphs">wk</text>
<text x="124.68" y="618.8" font-size="5.4" text-anchor="middle" fill="#444">16</text>
<line x1="139.98" y1="585.71" x2="139.98" y2="590.12" stroke="#333" stroke-width="0.6" />
<line x1="137.78" y1="585.71" x2="142.18" y2="585.71" stroke="#333" stroke-width="0.6" />
<rect x="135.28" y="590.12" width="9.4" height="13.38" fill="#f7941d" stroke="#333" stroke-width="0.6"/>
<line x1="151.55" y1="592.69" x2="151.55" y2="595.92" stroke="#333" stroke-width="0.6" />
<line x1="149.35" y1="592.69" x2="153.75" y2="592.69" stroke="#333" stroke-width="0.6" />
<rect x="146.85" y="595.92" width="9.4" height="7.58" fill="#f7941d" stroke="#333" stroke-width="0.6"/>
<line x1="163.12" y1="585.05" x2="163.12" y2="588.01" stroke="#333" stroke-width="0.6" />
<line x1="160.92" y1="585.05" x2="165.32" y2="585.05" stroke="#333" stroke-width="0.6" />
<rect x="158.42" y="588.01" width="9.4" height="15.49" fill="#f7941d" stroke="#333" stroke-width="0.6"/>
<line x1="134.2" y1="585.44" x2="168.9" y2="585.44" stroke="#111" stroke-width="0.9" stroke-dasharray="2.2 1.4"/>
<rect x="133.7" y="534.7" width="35.7" height="71.8" fill="none" stroke="#333" stroke-width="1"/>
<line x1="139.98" y1="607" x2="139.98" y2="608.6" stroke="#333" stroke-width="0.5" />
<text x="139.98" y="613.6" font-size="5.4" text-anchor="middle" fill="#444" textLength="6" lengthAdjust="spacingAndGlyphs">wk</text>
<text x="139.98" y="618.8" font-size="5.4" text-anchor="middle" fill="#444">3</text>
<line x1="151.55" y1="607" x2="151.55" y2="608.6" stroke="#333" stroke-width="0.5" />
<text x="151.55" y="613.6" font-size="5.4" text-anchor="middle" fill="#444" textLength="6" lengthAdjust="spacingAndGlyphs">wk</text>
<text x="151.55" y="618.8" font-size="5.4" text-anchor="middle" fill="#444">9</text>
<line x1="163.12" y1="607" x2="163.12" y2="608.6" stroke="#333" stroke-width="0.5" />
<text x="163.12" y="613.6" font-size="5.4" text-anchor="middle" fill="#444" textLength="6" lengthAdjust="spacingAndGlyphs">wk</text>
<text x="163.12" y="618.8" font-size="5.4" text-anchor="middle" fill="#444">16</text>
<line x1="178.73" y1="602.18" x2="178.73" y2="602.51" stroke="#333" stroke-width="0.6" />
<line x1="176.53" y1="602.18" x2="180.93" y2="602.18" stroke="#333" stroke-width="0.6" />
<rect x="174.03" y="602.51" width="9.4" height="0.99" fill="#5e246c" stroke="#333" stroke-width="0.6"/>
<line x1="190" y1="602.84" x2="190" y2="602.97" stroke="#333" stroke-width="0.6" />
<line x1="187.8" y1="602.84" x2="192.2" y2="602.84" stroke="#333" stroke-width="0.6" />
<rect x="185.3" y="602.97" width="9.4" height="0.53" fill="#5e246c" stroke="#333" stroke-width="0.6"/>
<line x1="201.27" y1="601.65" x2="201.27" y2="602.05" stroke="#333" stroke-width="0.6" />
<line x1="199.07" y1="601.65" x2="203.47" y2="601.65" stroke="#333" stroke-width="0.6" />
<rect x="196.57" y="602.05" width="9.4" height="1.45" fill="#5e246c" stroke="#333" stroke-width="0.6"/>
<line x1="173.1" y1="587.29" x2="206.9" y2="587.29" stroke="#111" stroke-width="0.9" stroke-dasharray="2.2 1.4"/>
<rect x="172.6" y="534.7" width="34.8" height="71.8" fill="none" stroke="#333" stroke-width="1"/>
<line x1="178.73" y1="607" x2="178.73" y2="608.6" stroke="#333" stroke-width="0.5" />
<text x="178.73" y="613.6" font-size="5.4" text-anchor="middle" fill="#444" textLength="6" lengthAdjust="spacingAndGlyphs">wk</text>
<text x="178.73" y="618.8" font-size="5.4" text-anchor="middle" fill="#444">3</text>
<line x1="190" y1="607" x2="190" y2="608.6" stroke="#333" stroke-width="0.5" />
<text x="190" y="613.6" font-size="5.4" text-anchor="middle" fill="#444" textLength="6" lengthAdjust="spacingAndGlyphs">wk</text>
<text x="190" y="618.8" font-size="5.4" text-anchor="middle" fill="#444">9</text>
<line x1="201.27" y1="607" x2="201.27" y2="608.6" stroke="#333" stroke-width="0.5" />
<text x="201.27" y="613.6" font-size="5.4" text-anchor="middle" fill="#444" textLength="6" lengthAdjust="spacingAndGlyphs">wk</text>
<text x="201.27" y="618.8" font-size="5.4" text-anchor="middle" fill="#444">16</text>
<line x1="216.83" y1="547.49" x2="216.83" y2="552.76" stroke="#333" stroke-width="0.6" />
<line x1="214.63" y1="547.49" x2="219.03" y2="547.49" stroke="#333" stroke-width="0.6" />
<rect x="212.13" y="552.76" width="9.4" height="50.74" fill="#3cb54a" stroke="#333" stroke-width="0.6"/>
<line x1="228.1" y1="545.11" x2="228.1" y2="549.73" stroke="#333" stroke-width="0.6" />
<line x1="225.9" y1="545.11" x2="230.3" y2="545.11" stroke="#333" stroke-width="0.6" />
<rect x="223.4" y="549.73" width="9.4" height="53.77" fill="#3cb54a" stroke="#333" stroke-width="0.6"/>
<line x1="239.37" y1="547.49" x2="239.37" y2="552.76" stroke="#333" stroke-width="0.6" />
<line x1="237.17" y1="547.49" x2="241.57" y2="547.49" stroke="#333" stroke-width="0.6" />
<rect x="234.67" y="552.76" width="9.4" height="50.74" fill="#3cb54a" stroke="#333" stroke-width="0.6"/>
<line x1="211.2" y1="545.18" x2="245" y2="545.18" stroke="#111" stroke-width="0.9" stroke-dasharray="2.2 1.4"/>
<rect x="210.7" y="534.7" width="34.8" height="71.8" fill="none" stroke="#333" stroke-width="1"/>
<line x1="216.83" y1="607" x2="216.83" y2="608.6" stroke="#333" stroke-width="0.5" />
<text x="216.83" y="613.6" font-size="5.4" text-anchor="middle" fill="#444" textLength="6" lengthAdjust="spacingAndGlyphs">wk</text>
<text x="216.83" y="618.8" font-size="5.4" text-anchor="middle" fill="#444">3</text>
<line x1="228.1" y1="607" x2="228.1" y2="608.6" stroke="#333" stroke-width="0.5" />
<text x="228.1" y="613.6" font-size="5.4" text-anchor="middle" fill="#444" textLength="6" lengthAdjust="spacingAndGlyphs">wk</text>
<text x="228.1" y="618.8" font-size="5.4" text-anchor="middle" fill="#444">9</text>
<line x1="239.37" y1="607" x2="239.37" y2="608.6" stroke="#333" stroke-width="0.5" />
<text x="239.37" y="613.6" font-size="5.4" text-anchor="middle" fill="#444" textLength="6" lengthAdjust="spacingAndGlyphs">wk</text>
<text x="239.37" y="618.8" font-size="5.4" text-anchor="middle" fill="#444">16</text>
<line x1="55.6" y1="537.6" x2="57.7" y2="537.6" stroke="#333" stroke-width="0.5" />
<text x="55.2" y="539.4" font-size="5" text-anchor="end" fill="#444" textLength="12.6" lengthAdjust="spacingAndGlyphs">100%</text>
<line x1="55.6" y1="554.08" x2="57.7" y2="554.08" stroke="#333" stroke-width="0.5" />
<text x="55.2" y="555.88" font-size="5" text-anchor="end" fill="#444" textLength="9.4" lengthAdjust="spacingAndGlyphs">75%</text>
<line x1="55.6" y1="570.55" x2="57.7" y2="570.55" stroke="#333" stroke-width="0.5" />
<text x="55.2" y="572.35" font-size="5" text-anchor="end" fill="#444" textLength="9.4" lengthAdjust="spacingAndGlyphs">50%</text>
<line x1="55.6" y1="587.02" x2="57.7" y2="587.02" stroke="#333" stroke-width="0.5" />
<text x="55.2" y="588.82" font-size="5" text-anchor="end" fill="#444" textLength="9.4" lengthAdjust="spacingAndGlyphs">25%</text>
<line x1="55.6" y1="603.5" x2="57.7" y2="603.5" stroke="#333" stroke-width="0.5" />
<text x="55.2" y="605.3" font-size="5" text-anchor="end" fill="#444" textLength="6.4" lengthAdjust="spacingAndGlyphs">0%</text>
<text transform="translate(40.4 571.1) rotate(-90)" x="0" y="0" font-size="7" text-anchor="middle" fill="#444" textLength="51" lengthAdjust="spacingAndGlyphs">HR allele frequency</text>
<text transform="translate(72.8 531) rotate(-45)" x="0" y="0" font-size="7" fill="#333" textLength="35" lengthAdjust="spacingAndGlyphs">Untreated</text>
<text transform="translate(105.6 527.6) rotate(-45)" x="0" y="0" font-size="7" fill="#333" textLength="36" lengthAdjust="spacingAndGlyphs">sgAAVS1 /</text>
<text transform="translate(112.6 532) rotate(-45)" x="0" y="0" font-size="7" fill="#333" font-style="italic" textLength="47" lengthAdjust="spacingAndGlyphs">rAAV6 HLF-ZE</text>
<text x="185.4" y="519.3" font-size="7" text-anchor="middle" fill="#333" textLength="73.8" lengthAdjust="spacingAndGlyphs">sgHLF / <tspan font-style="italic">rAAV6 HLF-ZE</tspan></text>
<line x1="135.5" y1="523.8" x2="243.8" y2="523.8" stroke="#999" stroke-width="1.4" />
<text x="151.1" y="531.8" font-size="8.4" text-anchor="middle" fill="#333" textLength="16.3" lengthAdjust="spacingAndGlyphs">Total</text>
<text x="189.7" y="531.6" font-size="8.4" text-anchor="middle" fill="#333" textLength="16" lengthAdjust="spacingAndGlyphs">ZsG<tspan font-size="5.21" dy="-3.02">−</tspan></text>
<text x="226.9" y="531.6" font-size="8.4" text-anchor="middle" fill="#333" textLength="15.4" lengthAdjust="spacingAndGlyphs">ZsG<tspan font-size="5.21" dy="-3.02">+</tspan></text>
<rect x="0.75" y="0.75" width="518.5" height="623.5" fill="none" stroke="#000" stroke-width="1.5"/>
</svg>
</body></html>
